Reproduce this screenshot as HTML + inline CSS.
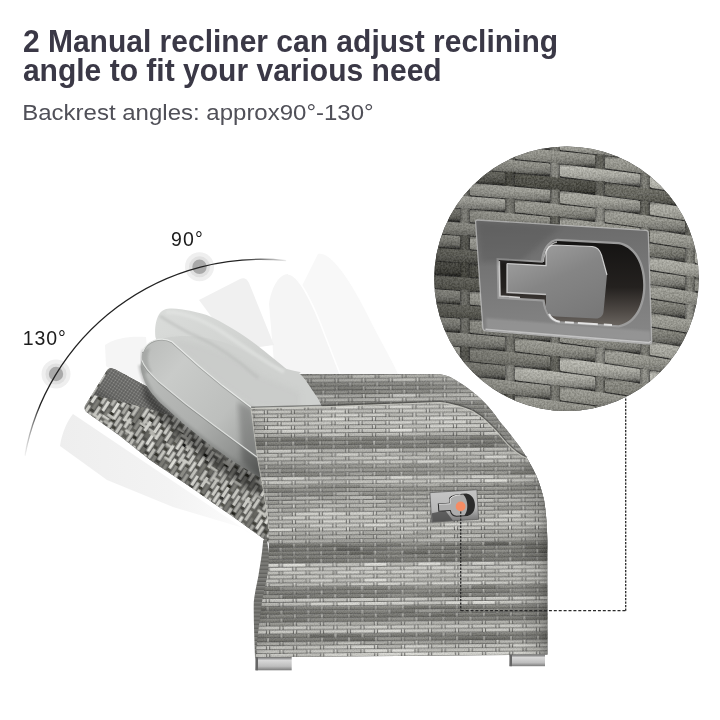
<!DOCTYPE html>
<html><head><meta charset="utf-8"><title>recliner</title>
<style>html,body{margin:0;padding:0;background:#fff;}body{width:720px;height:720px;overflow:hidden;font-family:"Liberation Sans",sans-serif;}svg{display:block;}</style>
</head><body>
<svg width="720" height="720" viewBox="0 0 720 720">
<rect width="720" height="720" fill="#ffffff"/>
<defs>
<linearGradient id="arcg" gradientUnits="userSpaceOnUse" x1="24" y1="0" x2="290" y2="0">
 <stop offset="0" stop-color="#222" stop-opacity="0"/>
 <stop offset="0.06" stop-color="#222" stop-opacity="1"/>
 <stop offset="0.82" stop-color="#222" stop-opacity="1"/>
 <stop offset="1" stop-color="#222" stop-opacity="0"/>
</linearGradient>
<filter id="soft" x="-5%" y="-5%" width="110%" height="110%"><feGaussianBlur stdDeviation="0.55"/></filter>
<filter id="soft2" x="-5%" y="-5%" width="110%" height="110%"><feGaussianBlur stdDeviation="0.8"/></filter>
<filter id="soft3" x="-10%" y="-10%" width="120%" height="120%"><feGaussianBlur stdDeviation="2.5"/></filter>
<linearGradient id="rowg" x1="0" y1="0" x2="0" y2="1"><stop offset="0" stop-color="#fff" stop-opacity="0.05"/><stop offset="0.25" stop-color="#fff" stop-opacity="0.16"/><stop offset="0.55" stop-color="#000" stop-opacity="0"/><stop offset="1" stop-color="#000" stop-opacity="0.22"/></linearGradient>
<pattern id="rowsh" x="0" y="405.2" width="20" height="3.93" patternUnits="userSpaceOnUse"><rect width="20" height="3.93" fill="url(#rowg)"/></pattern>
<pattern id="rowsh2" x="0" y="374.3" width="20" height="3.93" patternUnits="userSpaceOnUse"><rect width="20" height="3.93" fill="url(#rowg)"/></pattern>
<filter id="grain" x="0" y="0" width="100%" height="100%" color-interpolation-filters="sRGB">
 <feTurbulence type="fractalNoise" baseFrequency="0.55" numOctaves="2" seed="4"/>
 <feColorMatrix type="matrix" values="2.6 0 0 0 -0.75  2.6 0 0 0 -0.75  2.6 0 0 0 -0.75  0 0 0 0 0.12"/>
</filter>
<filter id="grainf" x="0" y="0" width="100%" height="100%" color-interpolation-filters="sRGB">
 <feTurbulence type="fractalNoise" baseFrequency="0.9" numOctaves="1" seed="9"/>
 <feColorMatrix type="matrix" values="2.6 0 0 0 -0.6  2.6 0 0 0 -0.6  2.6 0 0 0 -0.6  0 0 0 0 0.07"/>
</filter>
<filter id="soft6" x="-20%" y="-20%" width="140%" height="140%"><feGaussianBlur stdDeviation="6"/></filter>
</defs>
<g id="ghosts">
<path d="M318 254 C328 251 346 272 366 312 C382 344 392 360 398 374 L300 374 L300 290 Z" fill="#f8f8f8"/>
<path d="M269 304 C272 285 280 274 288 274 C298 274 312 300 326 338 L340 374 L275 374 Z" fill="#f5f5f5"/>
<path d="M288 274 C298 274 312 300 326 338 L340 374" fill="none" stroke="#ffffff" stroke-width="1.5"/>
<path d="M199 300 L240 279 C244 277 247 279 249 283 L274 345 L236 350 Z" fill="#f0f0f0"/>
<linearGradient id="gh1" gradientUnits="userSpaceOnUse" x1="60" y1="0" x2="245" y2="0"><stop offset="0" stop-color="#eeeeee"/><stop offset="0.6" stop-color="#f3f3f3"/><stop offset="1" stop-color="#fcfcfc"/></linearGradient>
<path d="M73 414 C68 420 62 432 60 446 L107 480 L173 507 L240 527 L262 541 Z" fill="url(#gh1)"/>
<path d="M105 345 C115 338 130 336 146 337 L150 385 L112 370 L106 366 Z" fill="#f5f5f5"/>
</g>
<clipPath id="brclip"><path d="M111.5 368.3 C109 367.8 107.5 369.5 106 372 L85.2 405.5 C84 408 84.5 410.5 86.7 412.2 L120 436 L150 460 L190 486.7 L212 502.2 L234.4 517.8 L262 537.8 L274 546 L274 455 L150 388.3 L116 369.8 Z"/></clipPath>
<g clip-path="url(#brclip)">
<rect x="70" y="350" width="220" height="200" fill="#5a5a58"/>
<g transform="translate(85 410) rotate(33.0)" filter="url(#soft)">
<path fill="#181812" d="M100.7 -26.2h4.0v3.5h-4.0z"/>
<path fill="#1e1e18" d="M-0.5 4.4h4.0v3.5h-4.0zM123.7 -29.2h4.0v3.5h-4.0z"/>
<path fill="#24241e" d="M50.1 -25.4h4.0v3.5h-4.0zM123.7 -43.7h4.0v3.5h-4.0zM178.9 4.2h4.0v3.5h-4.0zM243.3 -10.0h4.0v3.5h-4.0z"/>
<path fill="#2a2a24" d="M-0.5 -24.6h4.0v3.5h-4.0zM27.1 6.6h4.0v3.5h-4.0zM27.1 21.1h4.0v3.5h-4.0zM31.7 -31.7h4.0v3.5h-4.0zM54.7 -5.7h4.0v3.5h-4.0zM77.7 -52.2h4.0v3.5h-4.0zM146.7 -32.2h4.0v3.5h-4.0zM160.5 -16.6h4.0v3.5h-4.0zM169.7 -35.2h4.0v3.5h-4.0zM229.5 -40.1h4.0v3.5h-4.0z"/>
<path fill="#30302a" d="M22.5 -13.1h4.0v3.5h-4.0zM40.9 -50.3h4.0v3.5h-4.0zM54.7 -20.2h4.0v3.5h-4.0zM59.3 -29.5h4.0v3.5h-4.0zM82.3 -3.5h4.0v3.5h-4.0zM82.3 11.0h4.0v3.5h-4.0zM91.5 -36.6h4.0v3.5h-4.0zM155.9 -36.3h4.0v3.5h-4.0zM160.5 12.4h4.0v3.5h-4.0zM165.1 -40.4h4.0v3.5h-4.0zM220.3 -21.5h4.0v3.5h-4.0zM247.9 -4.8h4.0v3.5h-4.0zM247.9 9.7h4.0v3.5h-4.0z"/>
<path fill="#363630" d="M-0.5 -53.6h4.0v3.5h-4.0zM36.3 -26.5h4.0v3.5h-4.0zM45.5 -16.1h4.0v3.5h-4.0zM63.9 4.7h4.0v3.5h-4.0zM68.5 -33.6h4.0v3.5h-4.0zM68.5 -4.6h4.0v3.5h-4.0zM109.9 -44.8h4.0v3.5h-4.0zM114.5 -39.6h4.0v3.5h-4.0zM114.5 3.9h4.0v3.5h-4.0zM128.3 -24.0h4.0v3.5h-4.0zM132.9 10.2h4.0v3.5h-4.0zM160.5 -2.1h4.0v3.5h-4.0zM201.9 -42.3h4.0v3.5h-4.0zM215.7 -55.7h4.0v3.5h-4.0zM224.9 -30.8h4.0v3.5h-4.0zM247.9 -62.8h4.0v3.5h-4.0z"/>
<path fill="#3c3c36" d="M-5.1 -15.3h4.0v3.5h-4.0zM4.1 -19.4h4.0v3.5h-4.0zM17.9 10.7h4.0v3.5h-4.0zM27.1 -51.4h4.0v3.5h-4.0zM27.1 -36.9h4.0v3.5h-4.0zM27.1 -7.9h4.0v3.5h-4.0zM31.7 -2.7h4.0v3.5h-4.0zM36.3 17.0h4.0v3.5h-4.0zM59.3 -44.0h4.0v3.5h-4.0zM86.9 -12.8h4.0v3.5h-4.0zM86.9 16.2h4.0v3.5h-4.0zM96.1 -45.9h4.0v3.5h-4.0zM105.3 -6.5h4.0v3.5h-4.0zM132.9 -62.3h4.0v3.5h-4.0zM137.5 0.9h4.0v3.5h-4.0zM174.3 -1.0h4.0v3.5h-4.0zM178.9 -53.8h4.0v3.5h-4.0zM188.1 -14.4h4.0v3.5h-4.0zM197.3 -33.0h4.0v3.5h-4.0zM201.9 1.2h4.0v3.5h-4.0zM211.1 -17.4h4.0v3.5h-4.0zM215.7 2.3h4.0v3.5h-4.0zM224.9 12.7h4.0v3.5h-4.0zM238.7 -15.2h4.0v3.5h-4.0zM243.3 19.0h4.0v3.5h-4.0z"/>
<path fill="#42423c" d="M4.1 -4.9h4.0v3.5h-4.0zM8.7 -43.2h4.0v3.5h-4.0zM13.3 -52.5h4.0v3.5h-4.0zM22.5 15.9h4.0v3.5h-4.0zM31.7 -46.2h4.0v3.5h-4.0zM36.3 -55.5h4.0v3.5h-4.0zM45.5 12.9h4.0v3.5h-4.0zM63.9 -53.3h4.0v3.5h-4.0zM73.1 0.6h4.0v3.5h-4.0zM82.3 -47.0h4.0v3.5h-4.0zM82.3 -18.0h4.0v3.5h-4.0zM86.9 -56.3h4.0v3.5h-4.0zM86.9 1.7h4.0v3.5h-4.0zM100.7 -40.7h4.0v3.5h-4.0zM105.3 8.0h4.0v3.5h-4.0zM109.9 -15.8h4.0v3.5h-4.0zM123.7 -0.2h4.0v3.5h-4.0zM128.3 5.0h4.0v3.5h-4.0zM128.3 19.5h4.0v3.5h-4.0zM137.5 -57.1h4.0v3.5h-4.0zM137.5 -13.6h4.0v3.5h-4.0zM137.5 15.4h4.0v3.5h-4.0zM174.3 -59.0h4.0v3.5h-4.0zM183.5 -5.1h4.0v3.5h-4.0zM188.1 -57.9h4.0v3.5h-4.0zM197.3 -18.5h4.0v3.5h-4.0zM201.9 15.7h4.0v3.5h-4.0zM206.5 6.4h4.0v3.5h-4.0zM211.1 -46.4h4.0v3.5h-4.0zM211.1 -2.9h4.0v3.5h-4.0zM215.7 -12.2h4.0v3.5h-4.0zM220.3 -36.0h4.0v3.5h-4.0zM238.7 -58.7h4.0v3.5h-4.0zM243.3 -24.5h4.0v3.5h-4.0zM247.9 -33.8h4.0v3.5h-4.0z"/>
<path fill="#484842" d="M-9.7 -20.5h4.0v3.5h-4.0zM4.1 9.6h4.0v3.5h-4.0zM8.7 -14.2h4.0v3.5h-4.0zM22.5 -27.6h4.0v3.5h-4.0zM40.9 -21.3h4.0v3.5h-4.0zM50.1 18.1h4.0v3.5h-4.0zM59.3 -15.0h4.0v3.5h-4.0zM68.5 -62.6h4.0v3.5h-4.0zM68.5 9.9h4.0v3.5h-4.0zM73.1 -28.4h4.0v3.5h-4.0zM77.7 -23.2h4.0v3.5h-4.0zM77.7 -8.7h4.0v3.5h-4.0zM77.7 5.8h4.0v3.5h-4.0zM86.9 -41.8h4.0v3.5h-4.0zM96.1 -60.4h4.0v3.5h-4.0zM96.1 12.1h4.0v3.5h-4.0zM109.9 -59.3h4.0v3.5h-4.0zM114.5 -54.1h4.0v3.5h-4.0zM114.5 -25.1h4.0v3.5h-4.0zM114.5 -10.6h4.0v3.5h-4.0zM114.5 18.4h4.0v3.5h-4.0zM119.1 -63.4h4.0v3.5h-4.0zM119.1 9.1h4.0v3.5h-4.0zM123.7 -14.7h4.0v3.5h-4.0zM132.9 -18.8h4.0v3.5h-4.0zM142.1 6.1h4.0v3.5h-4.0zM142.1 20.6h4.0v3.5h-4.0zM146.7 -46.7h4.0v3.5h-4.0zM146.7 -3.2h4.0v3.5h-4.0zM151.3 -12.5h4.0v3.5h-4.0zM155.9 -50.8h4.0v3.5h-4.0zM155.9 -7.3h4.0v3.5h-4.0zM160.5 -60.1h4.0v3.5h-4.0zM165.1 -54.9h4.0v3.5h-4.0zM169.7 22.8h4.0v3.5h-4.0zM178.9 -39.3h4.0v3.5h-4.0zM183.5 -48.6h4.0v3.5h-4.0zM183.5 -34.1h4.0v3.5h-4.0zM188.1 -43.4h4.0v3.5h-4.0zM188.1 14.6h4.0v3.5h-4.0zM206.5 -37.1h4.0v3.5h-4.0zM206.5 -8.1h4.0v3.5h-4.0zM215.7 -26.7h4.0v3.5h-4.0zM224.9 -59.8h4.0v3.5h-4.0zM229.5 3.4h4.0v3.5h-4.0zM234.1 -63.9h4.0v3.5h-4.0zM234.1 -20.4h4.0v3.5h-4.0z"/>
<path fill="#4e4e48" d="M-5.1 -0.8h4.0v3.5h-4.0zM-0.5 -39.1h4.0v3.5h-4.0zM4.1 -62.9h4.0v3.5h-4.0zM13.3 -9.0h4.0v3.5h-4.0zM17.9 -47.3h4.0v3.5h-4.0zM22.5 -56.6h4.0v3.5h-4.0zM31.7 -17.2h4.0v3.5h-4.0zM36.3 -12.0h4.0v3.5h-4.0zM45.5 -45.1h4.0v3.5h-4.0zM54.7 -63.7h4.0v3.5h-4.0zM54.7 -34.7h4.0v3.5h-4.0zM63.9 -24.3h4.0v3.5h-4.0zM63.9 -9.8h4.0v3.5h-4.0zM73.1 -57.4h4.0v3.5h-4.0zM73.1 -42.9h4.0v3.5h-4.0zM73.1 15.1h4.0v3.5h-4.0zM86.9 -27.3h4.0v3.5h-4.0zM96.1 -31.4h4.0v3.5h-4.0zM96.1 -16.9h4.0v3.5h-4.0zM100.7 -11.7h4.0v3.5h-4.0zM105.3 -35.5h4.0v3.5h-4.0zM105.3 -21.0h4.0v3.5h-4.0zM109.9 -30.3h4.0v3.5h-4.0zM123.7 14.3h4.0v3.5h-4.0zM137.5 -42.6h4.0v3.5h-4.0zM142.1 -8.4h4.0v3.5h-4.0zM160.5 -31.1h4.0v3.5h-4.0zM169.7 -49.7h4.0v3.5h-4.0zM169.7 8.3h4.0v3.5h-4.0zM174.3 13.5h4.0v3.5h-4.0zM178.9 18.7h4.0v3.5h-4.0zM183.5 -63.1h4.0v3.5h-4.0zM192.7 -52.7h4.0v3.5h-4.0zM201.9 -13.3h4.0v3.5h-4.0zM206.5 -22.6h4.0v3.5h-4.0zM206.5 20.9h4.0v3.5h-4.0zM211.1 -60.9h4.0v3.5h-4.0zM211.1 -31.9h4.0v3.5h-4.0zM224.9 -16.3h4.0v3.5h-4.0zM229.5 -11.1h4.0v3.5h-4.0zM234.1 -5.9h4.0v3.5h-4.0zM238.7 -44.2h4.0v3.5h-4.0z"/>
<path fill="#54544e" d="M-9.7 -64.0h4.0v3.5h-4.0zM-9.7 -49.5h4.0v3.5h-4.0zM-5.1 -29.8h4.0v3.5h-4.0zM4.1 -33.9h4.0v3.5h-4.0zM17.9 -61.8h4.0v3.5h-4.0zM22.5 1.4h4.0v3.5h-4.0zM40.9 22.2h4.0v3.5h-4.0zM50.1 -54.4h4.0v3.5h-4.0zM50.1 -39.9h4.0v3.5h-4.0zM50.1 3.6h4.0v3.5h-4.0zM54.7 -49.2h4.0v3.5h-4.0zM59.3 -58.5h4.0v3.5h-4.0zM59.3 14.0h4.0v3.5h-4.0zM63.9 -38.8h4.0v3.5h-4.0zM63.9 19.2h4.0v3.5h-4.0zM82.3 -61.5h4.0v3.5h-4.0zM82.3 -32.5h4.0v3.5h-4.0zM91.5 -22.1h4.0v3.5h-4.0zM91.5 -7.6h4.0v3.5h-4.0zM91.5 21.4h4.0v3.5h-4.0zM100.7 -55.2h4.0v3.5h-4.0zM100.7 2.8h4.0v3.5h-4.0zM105.3 -50.0h4.0v3.5h-4.0zM109.9 -1.3h4.0v3.5h-4.0zM109.9 13.2h4.0v3.5h-4.0zM132.9 -4.3h4.0v3.5h-4.0zM151.3 16.5h4.0v3.5h-4.0zM165.1 -25.9h4.0v3.5h-4.0zM165.1 -11.4h4.0v3.5h-4.0zM165.1 3.1h4.0v3.5h-4.0zM169.7 -20.7h4.0v3.5h-4.0zM183.5 -19.6h4.0v3.5h-4.0zM183.5 9.4h4.0v3.5h-4.0zM192.7 -23.7h4.0v3.5h-4.0zM197.3 10.5h4.0v3.5h-4.0zM201.9 -27.8h4.0v3.5h-4.0zM234.1 -34.9h4.0v3.5h-4.0zM238.7 -29.7h4.0v3.5h-4.0zM243.3 -53.5h4.0v3.5h-4.0zM243.3 4.5h4.0v3.5h-4.0z"/>
<path fill="#5a5a54" d="M-9.7 8.5h4.0v3.5h-4.0zM-5.1 -44.3h4.0v3.5h-4.0zM-0.5 -10.1h4.0v3.5h-4.0zM8.7 -57.7h4.0v3.5h-4.0zM8.7 0.3h4.0v3.5h-4.0zM13.3 -38.0h4.0v3.5h-4.0zM13.3 5.5h4.0v3.5h-4.0zM17.9 -32.8h4.0v3.5h-4.0zM17.9 -18.3h4.0v3.5h-4.0zM27.1 -22.4h4.0v3.5h-4.0zM36.3 2.5h4.0v3.5h-4.0zM40.9 -35.8h4.0v3.5h-4.0zM40.9 7.7h4.0v3.5h-4.0zM45.5 -1.6h4.0v3.5h-4.0zM68.5 -48.1h4.0v3.5h-4.0zM68.5 -19.1h4.0v3.5h-4.0zM73.1 -13.9h4.0v3.5h-4.0zM77.7 -37.7h4.0v3.5h-4.0zM91.5 6.9h4.0v3.5h-4.0zM128.3 -53.0h4.0v3.5h-4.0zM132.9 -33.3h4.0v3.5h-4.0zM142.1 -22.9h4.0v3.5h-4.0zM146.7 -61.2h4.0v3.5h-4.0zM151.3 -56.0h4.0v3.5h-4.0zM151.3 -41.5h4.0v3.5h-4.0zM155.9 -21.8h4.0v3.5h-4.0zM155.9 21.7h4.0v3.5h-4.0zM169.7 -6.2h4.0v3.5h-4.0zM174.3 -44.5h4.0v3.5h-4.0zM174.3 -15.5h4.0v3.5h-4.0zM178.9 -24.8h4.0v3.5h-4.0zM188.1 0.1h4.0v3.5h-4.0zM197.3 -62.0h4.0v3.5h-4.0zM206.5 -51.6h4.0v3.5h-4.0zM215.7 16.8h4.0v3.5h-4.0zM220.3 7.5h4.0v3.5h-4.0zM229.5 17.9h4.0v3.5h-4.0zM239.1 -69.7h3.2v11.0h-3.2zM238.7 -0.7h4.0v3.5h-4.0zM243.3 -39.0h4.0v3.5h-4.0zM247.9 -19.3h4.0v3.5h-4.0z"/>
<path fill="#60605a" d="M-9.7 -35.0h4.0v3.5h-4.0zM-9.7 -6.0h4.0v3.5h-4.0zM8.7 -28.7h4.0v3.5h-4.0zM8.7 14.8h4.0v3.5h-4.0zM13.3 20.0h4.0v3.5h-4.0zM22.5 -42.1h4.0v3.5h-4.0zM31.7 -60.7h4.0v3.5h-4.0zM40.9 -6.8h4.0v3.5h-4.0zM45.5 -59.6h4.0v3.5h-4.0zM50.1 -10.9h4.0v3.5h-4.0zM54.7 8.8h4.0v3.5h-4.0zM77.7 20.3h4.0v3.5h-4.0zM91.5 -51.1h4.0v3.5h-4.0zM96.1 -2.4h4.0v3.5h-4.0zM119.1 -19.9h4.0v3.5h-4.0zM123.7 -58.2h4.0v3.5h-4.0zM142.1 -51.9h4.0v3.5h-4.0zM146.7 -17.7h4.0v3.5h-4.0zM165.1 17.6h4.0v3.5h-4.0zM174.3 -30.0h4.0v3.5h-4.0zM188.1 -28.9h4.0v3.5h-4.0zM192.7 5.3h4.0v3.5h-4.0zM192.7 19.8h4.0v3.5h-4.0zM197.3 -4.0h4.0v3.5h-4.0zM220.3 -7.0h4.0v3.5h-4.0zM220.3 22.0h4.0v3.5h-4.0zM229.5 -54.6h4.0v3.5h-4.0zM234.1 -49.4h4.0v3.5h-4.0zM247.9 -48.3h4.0v3.5h-4.0z"/>
<path fill="#666660" d="M-5.1 -58.8h4.0v3.5h-4.0zM-0.5 18.9h4.0v3.5h-4.0zM13.3 -23.5h4.0v3.5h-4.0zM17.9 -3.8h4.0v3.5h-4.0zM31.7 11.8h4.0v3.5h-4.0zM64.3 -20.8h3.2v11.0h-3.2zM105.3 22.5h4.0v3.5h-4.0zM119.1 -48.9h4.0v3.5h-4.0zM119.1 -5.4h4.0v3.5h-4.0zM128.3 -38.5h4.0v3.5h-4.0zM137.5 -28.1h4.0v3.5h-4.0zM151.3 -27.0h4.0v3.5h-4.0zM156.3 -47.3h3.2v11.0h-3.2zM155.9 7.2h4.0v3.5h-4.0zM192.7 -38.2h4.0v3.5h-4.0zM192.7 -9.2h4.0v3.5h-4.0zM197.7 -15.0h3.2v11.0h-3.2zM211.1 11.6h4.0v3.5h-4.0zM216.1 -8.7h3.2v11.0h-3.2zM220.3 -50.5h4.0v3.5h-4.0zM224.9 -45.3h4.0v3.5h-4.0zM234.1 8.6h4.0v3.5h-4.0z"/>
<path fill="#6c6c66" d="M-4.7 -69.8h3.2v11.0h-3.2zM4.1 -48.4h4.0v3.5h-4.0zM22.9 -9.6h3.2v11.0h-3.2zM36.3 -41.0h4.0v3.5h-4.0zM68.9 -1.1h3.2v11.0h-3.2zM100.7 17.3h4.0v3.5h-4.0zM119.1 -34.4h4.0v3.5h-4.0zM128.3 -9.5h4.0v3.5h-4.0zM133.3 -44.3h3.2v11.0h-3.2zM137.9 -24.6h3.2v11.0h-3.2zM142.1 -37.4h4.0v3.5h-4.0zM151.3 2.0h4.0v3.5h-4.0zM229.5 -25.6h4.0v3.5h-4.0z"/>
<path fill="#72726c" d="M13.7 -63.5h3.2v11.0h-3.2zM13.7 -34.5h3.2v11.0h-3.2zM27.5 -62.4h3.2v11.0h-3.2zM32.1 -42.7h3.2v11.0h-3.2zM36.7 -66.5h3.2v11.0h-3.2zM41.3 11.2h3.2v11.0h-3.2zM45.5 -30.6h4.0v3.5h-4.0zM59.3 -0.5h4.0v3.5h-4.0zM146.7 11.3h4.0v3.5h-4.0zM151.7 -67.0h3.2v11.0h-3.2zM179.3 -64.8h3.2v11.0h-3.2zM178.9 -10.3h4.0v3.5h-4.0zM197.3 -47.5h4.0v3.5h-4.0zM201.9 -56.8h4.0v3.5h-4.0zM224.9 -1.8h4.0v3.5h-4.0z"/>
<path fill="#787872" d="M22.9 -67.6h3.2v11.0h-3.2zM45.9 -27.1h3.2v11.0h-3.2zM87.3 -38.3h3.2v11.0h-3.2zM87.3 5.2h3.2v11.0h-3.2zM91.9 -4.1h3.2v11.0h-3.2zM124.1 3.3h3.2v11.0h-3.2zM128.7 -20.5h3.2v11.0h-3.2zM142.5 -4.9h3.2v11.0h-3.2zM160.5 -45.6h4.0v3.5h-4.0zM170.1 -2.7h3.2v11.0h-3.2zM188.5 -39.9h3.2v11.0h-3.2zM197.7 -0.5h3.2v11.0h-3.2zM206.9 -62.6h3.2v11.0h-3.2zM211.5 -42.9h3.2v11.0h-3.2zM234.5 -60.4h3.2v11.0h-3.2zM239.1 -11.7h3.2v11.0h-3.2z"/>
<path fill="#7e7e78" d="M-4.7 -55.3h3.2v11.0h-3.2zM4.5 -44.9h3.2v11.0h-3.2zM4.5 -15.9h3.2v11.0h-3.2zM18.3 -14.8h3.2v11.0h-3.2zM45.9 -41.6h3.2v11.0h-3.2zM64.3 8.2h3.2v11.0h-3.2zM78.1 -19.7h3.2v11.0h-3.2zM82.7 0.0h3.2v11.0h-3.2zM119.5 -30.9h3.2v11.0h-3.2zM133.3 -58.8h3.2v11.0h-3.2zM132.9 -47.8h4.0v3.5h-4.0zM165.5 -22.4h3.2v11.0h-3.2zM215.7 -41.2h4.0v3.5h-4.0zM234.5 -74.9h3.2v11.0h-3.2zM238.7 13.8h4.0v3.5h-4.0zM243.7 8.0h3.2v11.0h-3.2zM248.3 -44.8h3.2v11.0h-3.2z"/>
<path fill="#84847e" d="M4.5 -30.4h3.2v11.0h-3.2zM22.9 -53.1h3.2v11.0h-3.2zM45.9 1.9h3.2v11.0h-3.2zM64.3 -49.8h3.2v11.0h-3.2zM87.3 -23.8h3.2v11.0h-3.2zM91.9 -33.1h3.2v11.0h-3.2zM96.5 1.1h3.2v11.0h-3.2zM124.1 -54.7h3.2v11.0h-3.2zM170.1 -31.7h3.2v11.0h-3.2zM179.3 -35.8h3.2v11.0h-3.2zM197.7 -29.5h3.2v11.0h-3.2zM220.7 -18.0h3.2v11.0h-3.2zM225.3 -56.3h3.2v11.0h-3.2zM248.3 -30.3h3.2v11.0h-3.2z"/>
<path fill="#8a8a84" d="M-5.1 13.7h4.0v3.5h-4.0zM-0.1 -50.1h3.2v11.0h-3.2zM9.1 3.8h3.2v11.0h-3.2zM50.5 -21.9h3.2v11.0h-3.2zM96.5 -71.4h3.2v11.0h-3.2zM114.9 -7.1h3.2v11.0h-3.2zM114.9 7.4h3.2v11.0h-3.2zM142.5 -33.9h3.2v11.0h-3.2zM183.9 -1.6h3.2v11.0h-3.2zM229.9 6.9h3.2v11.0h-3.2zM234.5 -16.9h3.2v11.0h-3.2z"/>
<path fill="#90908a" d="M41.3 -61.3h3.2v11.0h-3.2zM105.7 -3.0h3.2v11.0h-3.2zM137.9 -39.1h3.2v11.0h-3.2zM156.3 -32.8h3.2v11.0h-3.2zM216.1 5.8h3.2v11.0h-3.2zM243.7 -6.5h3.2v11.0h-3.2z"/>
<path fill="#969690" d="M45.9 -12.6h3.2v11.0h-3.2z"/>
<path fill="#9c9c96" d="M59.7 -40.5h3.2v11.0h-3.2zM119.5 -1.9h3.2v11.0h-3.2zM174.7 -26.5h3.2v11.0h-3.2zM243.7 -21.0h3.2v11.0h-3.2z"/>
<path fill="#a2a29c" d="M114.9 -50.6h3.2v11.0h-3.2zM202.3 4.7h3.2v11.0h-3.2z"/>
<path fill="#a8a8a2" d="M13.7 -49.0h3.2v11.0h-3.2zM32.1 -28.2h3.2v11.0h-3.2zM183.9 -30.6h3.2v11.0h-3.2zM187.9 -23.3h8.0v2.6h-8.0zM56.6 -24.5h8.0v2.6h-8.0z"/>
<path fill="#aeaea8" d="M36.7 -37.5h3.2v11.0h-3.2zM41.3 -3.3h3.2v11.0h-3.2zM64.3 -64.3h3.2v11.0h-3.2zM91.9 -62.1h3.2v11.0h-3.2zM101.1 6.3h3.2v11.0h-3.2zM105.7 -46.5h3.2v11.0h-3.2zM151.7 -23.5h3.2v11.0h-3.2zM160.9 -71.1h3.2v11.0h-3.2zM179.3 -6.8h3.2v11.0h-3.2zM206.9 -33.6h3.2v11.0h-3.2zM216.1 -37.7h3.2v11.0h-3.2zM225.3 -12.8h3.2v11.0h-3.2zM21.6 -2.7h8.0v2.6h-8.0zM237.1 -44.5h8.0v2.6h-8.0zM120.0 -38.1h8.0v2.6h-8.0zM232.9 -44.1h8.0v2.6h-8.0z"/>
<path fill="#b4b4ae" d="M-9.3 -75.0h3.2v11.0h-3.2zM-9.3 -60.5h3.2v11.0h-3.2zM-4.7 -11.8h3.2v11.0h-3.2zM18.3 -29.3h3.2v11.0h-3.2zM32.1 -71.7h3.2v11.0h-3.2zM32.1 -57.2h3.2v11.0h-3.2zM50.5 -50.9h3.2v11.0h-3.2zM55.1 -74.7h3.2v11.0h-3.2zM55.1 -16.7h3.2v11.0h-3.2zM68.9 -59.1h3.2v11.0h-3.2zM101.1 -51.7h3.2v11.0h-3.2zM105.7 -61.0h3.2v11.0h-3.2zM114.9 -65.1h3.2v11.0h-3.2zM119.5 -74.4h3.2v11.0h-3.2zM128.7 -64.0h3.2v11.0h-3.2zM133.3 -73.3h3.2v11.0h-3.2zM142.5 -19.4h3.2v11.0h-3.2zM147.1 -72.2h3.2v11.0h-3.2zM156.3 -61.8h3.2v11.0h-3.2zM160.9 -56.6h3.2v11.0h-3.2zM160.9 -42.1h3.2v11.0h-3.2zM197.7 -58.5h3.2v11.0h-3.2zM220.7 -32.5h3.2v11.0h-3.2zM229.9 -7.6h3.2v11.0h-3.2zM234.5 -2.4h3.2v11.0h-3.2zM243.7 -64.5h3.2v11.0h-3.2zM248.3 -1.3h3.2v11.0h-3.2zM66.4 -17.8h8.0v2.6h-8.0zM145.9 -35.6h8.0v2.6h-8.0zM35.1 -32.3h8.0v2.6h-8.0zM10.2 -32.2h8.0v2.6h-8.0zM63.5 -20.1h8.0v2.6h-8.0z"/>
<path fill="#babab4" d="M-4.7 2.7h3.2v11.0h-3.2zM-0.1 -35.6h3.2v11.0h-3.2zM18.3 -72.8h3.2v11.0h-3.2zM27.5 10.1h3.2v11.0h-3.2zM32.1 -13.7h3.2v11.0h-3.2zM41.3 -32.3h3.2v11.0h-3.2zM45.9 -56.1h3.2v11.0h-3.2zM55.1 -60.2h3.2v11.0h-3.2zM55.1 -2.2h3.2v11.0h-3.2zM59.7 -11.5h3.2v11.0h-3.2zM64.3 -35.3h3.2v11.0h-3.2zM68.9 -44.6h3.2v11.0h-3.2zM73.5 -53.9h3.2v11.0h-3.2zM73.5 -39.4h3.2v11.0h-3.2zM78.1 -5.2h3.2v11.0h-3.2zM82.7 -14.5h3.2v11.0h-3.2zM96.5 -42.4h3.2v11.0h-3.2zM101.1 -37.2h3.2v11.0h-3.2zM105.7 11.5h3.2v11.0h-3.2zM110.3 -70.3h3.2v11.0h-3.2zM110.3 -55.8h3.2v11.0h-3.2zM128.7 8.5h3.2v11.0h-3.2zM147.1 -28.7h3.2v11.0h-3.2zM151.7 -52.5h3.2v11.0h-3.2zM174.7 2.5h3.2v11.0h-3.2zM188.5 -68.9h3.2v11.0h-3.2zM193.1 -5.7h3.2v11.0h-3.2zM202.3 -24.3h3.2v11.0h-3.2zM225.3 -70.8h3.2v11.0h-3.2zM229.9 -51.1h3.2v11.0h-3.2zM248.3 -15.8h3.2v11.0h-3.2zM143.9 -33.5h8.0v2.6h-8.0zM181.4 -35.2h8.0v2.6h-8.0zM86.3 -17.0h8.0v2.6h-8.0zM164.2 -23.1h8.0v2.6h-8.0zM53.1 -20.5h8.0v2.6h-8.0zM143.2 -14.6h8.0v2.6h-8.0zM104.3 -26.6h8.0v2.6h-8.0zM94.3 -32.9h8.0v2.6h-8.0zM183.2 -13.7h8.0v2.6h-8.0z"/>
<path fill="#c0c0ba" d="M4.5 -1.4h3.2v11.0h-3.2zM9.1 -25.2h3.2v11.0h-3.2zM13.7 9.0h3.2v11.0h-3.2zM22.9 -38.6h3.2v11.0h-3.2zM27.5 -47.9h3.2v11.0h-3.2zM32.1 0.8h3.2v11.0h-3.2zM36.7 6.0h3.2v11.0h-3.2zM55.1 -45.7h3.2v11.0h-3.2zM55.1 -31.2h3.2v11.0h-3.2zM59.7 -69.5h3.2v11.0h-3.2zM59.7 3.0h3.2v11.0h-3.2zM73.5 -68.4h3.2v11.0h-3.2zM73.5 4.1h3.2v11.0h-3.2zM78.1 -48.7h3.2v11.0h-3.2zM78.1 9.3h3.2v11.0h-3.2zM105.7 -32.0h3.2v11.0h-3.2zM119.5 -59.9h3.2v11.0h-3.2zM119.5 -45.4h3.2v11.0h-3.2zM124.1 -40.2h3.2v11.0h-3.2zM124.1 -11.2h3.2v11.0h-3.2zM128.7 -49.5h3.2v11.0h-3.2zM133.3 -15.3h3.2v11.0h-3.2zM137.9 -68.1h3.2v11.0h-3.2zM142.5 -48.4h3.2v11.0h-3.2zM142.5 9.6h3.2v11.0h-3.2zM147.1 -14.2h3.2v11.0h-3.2zM160.9 -27.6h3.2v11.0h-3.2zM165.5 -51.4h3.2v11.0h-3.2zM165.5 -36.9h3.2v11.0h-3.2zM174.7 -41.0h3.2v11.0h-3.2zM179.3 -21.3h3.2v11.0h-3.2zM179.3 7.7h3.2v11.0h-3.2zM183.9 -45.1h3.2v11.0h-3.2zM188.5 -54.4h3.2v11.0h-3.2zM188.5 -25.4h3.2v11.0h-3.2zM193.1 8.8h3.2v11.0h-3.2zM197.7 -44.0h3.2v11.0h-3.2zM202.3 -38.8h3.2v11.0h-3.2zM206.9 -48.1h3.2v11.0h-3.2zM206.9 -19.1h3.2v11.0h-3.2zM206.9 9.9h3.2v11.0h-3.2zM216.1 -52.2h3.2v11.0h-3.2zM216.1 -23.2h3.2v11.0h-3.2zM220.7 -47.0h3.2v11.0h-3.2zM225.3 -41.8h3.2v11.0h-3.2zM239.1 -40.7h3.2v11.0h-3.2zM239.1 2.8h3.2v11.0h-3.2zM243.7 -35.5h3.2v11.0h-3.2zM127.4 -44.0h8.0v2.6h-8.0zM92.3 -5.1h8.0v2.6h-8.0zM228.4 -38.3h8.0v2.6h-8.0zM105.7 -12.0h8.0v2.6h-8.0zM137.4 -7.6h8.0v2.6h-8.0zM4.3 -24.2h8.0v2.6h-8.0zM136.5 -22.1h8.0v2.6h-8.0zM21.2 -9.9h8.0v2.6h-8.0zM38.4 -15.6h8.0v2.6h-8.0zM87.5 -36.5h8.0v2.6h-8.0zM236.7 -39.6h8.0v2.6h-8.0zM213.6 -39.8h8.0v2.6h-8.0zM8.2 -2.2h8.0v2.6h-8.0z"/>
<path fill="#c6c6c0" d="M-9.3 -31.5h3.2v11.0h-3.2zM-0.1 -6.6h3.2v11.0h-3.2zM9.1 -68.7h3.2v11.0h-3.2zM9.1 -54.2h3.2v11.0h-3.2zM9.1 -39.7h3.2v11.0h-3.2zM9.1 -10.7h3.2v11.0h-3.2zM18.3 -58.3h3.2v11.0h-3.2zM22.9 4.9h3.2v11.0h-3.2zM36.7 -52.0h3.2v11.0h-3.2zM36.7 -8.5h3.2v11.0h-3.2zM45.9 -70.6h3.2v11.0h-3.2zM50.5 -65.4h3.2v11.0h-3.2zM50.5 -7.4h3.2v11.0h-3.2zM87.3 -9.3h3.2v11.0h-3.2zM96.5 -56.9h3.2v11.0h-3.2zM101.1 -66.2h3.2v11.0h-3.2zM101.1 -22.7h3.2v11.0h-3.2zM105.7 -17.5h3.2v11.0h-3.2zM110.3 -41.3h3.2v11.0h-3.2zM110.3 -26.8h3.2v11.0h-3.2zM114.9 -36.1h3.2v11.0h-3.2zM114.9 -21.6h3.2v11.0h-3.2zM128.7 -35.0h3.2v11.0h-3.2zM133.3 -29.8h3.2v11.0h-3.2zM133.3 -0.8h3.2v11.0h-3.2zM137.9 -53.6h3.2v11.0h-3.2zM137.9 -10.1h3.2v11.0h-3.2zM147.1 -43.2h3.2v11.0h-3.2zM151.7 5.5h3.2v11.0h-3.2zM156.3 -18.3h3.2v11.0h-3.2zM156.3 10.7h3.2v11.0h-3.2zM165.5 6.6h3.2v11.0h-3.2zM170.1 -46.2h3.2v11.0h-3.2zM170.1 -17.2h3.2v11.0h-3.2zM174.7 -55.5h3.2v11.0h-3.2zM174.7 -12.0h3.2v11.0h-3.2zM179.3 -50.3h3.2v11.0h-3.2zM183.9 -59.6h3.2v11.0h-3.2zM193.1 -49.2h3.2v11.0h-3.2zM193.1 -20.2h3.2v11.0h-3.2zM197.7 -73.0h3.2v11.0h-3.2zM202.3 -9.8h3.2v11.0h-3.2zM211.5 -57.4h3.2v11.0h-3.2zM211.5 0.6h3.2v11.0h-3.2zM220.7 -61.5h3.2v11.0h-3.2zM225.3 1.7h3.2v11.0h-3.2zM234.5 -45.9h3.2v11.0h-3.2zM239.1 -26.2h3.2v11.0h-3.2zM44.7 -6.5h8.0v2.6h-8.0zM199.4 -11.4h8.0v2.6h-8.0zM109.3 -13.2h8.0v2.6h-8.0zM132.5 -35.4h8.0v2.6h-8.0z"/>
<path fill="#ccccc6" d="M-9.3 -46.0h3.2v11.0h-3.2zM-4.7 -26.3h3.2v11.0h-3.2zM-0.1 -64.6h3.2v11.0h-3.2zM-0.1 7.9h3.2v11.0h-3.2zM4.5 -73.9h3.2v11.0h-3.2zM4.5 -59.4h3.2v11.0h-3.2zM13.7 -5.5h3.2v11.0h-3.2zM18.3 -0.3h3.2v11.0h-3.2zM27.5 -4.4h3.2v11.0h-3.2zM36.7 -23.0h3.2v11.0h-3.2zM41.3 -46.8h3.2v11.0h-3.2zM41.3 -17.8h3.2v11.0h-3.2zM50.5 -36.4h3.2v11.0h-3.2zM50.5 7.1h3.2v11.0h-3.2zM64.3 -6.3h3.2v11.0h-3.2zM78.1 -63.2h3.2v11.0h-3.2zM78.1 -34.2h3.2v11.0h-3.2zM82.7 -72.5h3.2v11.0h-3.2zM82.7 -43.5h3.2v11.0h-3.2zM82.7 -29.0h3.2v11.0h-3.2zM87.3 -67.3h3.2v11.0h-3.2zM87.3 -52.8h3.2v11.0h-3.2zM91.9 -47.6h3.2v11.0h-3.2zM96.5 -13.4h3.2v11.0h-3.2zM110.3 -12.3h3.2v11.0h-3.2zM110.3 2.2h3.2v11.0h-3.2zM124.1 -25.7h3.2v11.0h-3.2zM147.1 -57.7h3.2v11.0h-3.2zM147.1 0.3h3.2v11.0h-3.2zM151.7 -38.0h3.2v11.0h-3.2zM151.7 -9.0h3.2v11.0h-3.2zM160.9 -13.1h3.2v11.0h-3.2zM160.9 1.4h3.2v11.0h-3.2zM170.1 11.8h3.2v11.0h-3.2zM183.9 -16.1h3.2v11.0h-3.2zM188.5 -10.9h3.2v11.0h-3.2zM202.3 -67.8h3.2v11.0h-3.2zM220.7 -3.5h3.2v11.0h-3.2zM220.7 11.0h3.2v11.0h-3.2zM225.3 -27.3h3.2v11.0h-3.2zM229.9 -65.6h3.2v11.0h-3.2zM229.9 -36.6h3.2v11.0h-3.2zM229.9 -22.1h3.2v11.0h-3.2zM239.1 -55.2h3.2v11.0h-3.2zM243.7 -50.0h3.2v11.0h-3.2zM55.0 -32.8h8.0v2.6h-8.0zM20.9 -33.5h8.0v2.6h-8.0zM17.4 -6.1h8.0v2.6h-8.0z"/>
<path fill="#d2d2cc" d="M-4.7 -40.8h3.2v11.0h-3.2zM27.5 -33.4h3.2v11.0h-3.2zM27.5 -18.9h3.2v11.0h-3.2zM59.7 -26.0h3.2v11.0h-3.2zM68.9 -73.6h3.2v11.0h-3.2zM68.9 -30.1h3.2v11.0h-3.2zM73.5 -24.9h3.2v11.0h-3.2zM82.7 -58.0h3.2v11.0h-3.2zM91.9 -18.6h3.2v11.0h-3.2zM119.5 -16.4h3.2v11.0h-3.2zM128.7 -6.0h3.2v11.0h-3.2zM137.9 4.4h3.2v11.0h-3.2zM142.5 -62.9h3.2v11.0h-3.2zM156.3 -3.8h3.2v11.0h-3.2zM165.5 -65.9h3.2v11.0h-3.2zM165.5 -7.9h3.2v11.0h-3.2zM170.1 -60.7h3.2v11.0h-3.2zM174.7 -70.0h3.2v11.0h-3.2zM193.1 -63.7h3.2v11.0h-3.2zM202.3 -53.3h3.2v11.0h-3.2zM206.9 -4.6h3.2v11.0h-3.2zM211.5 -71.9h3.2v11.0h-3.2zM211.5 -28.4h3.2v11.0h-3.2zM248.3 -59.3h3.2v11.0h-3.2z"/>
<path fill="#d8d8d2" d="M-9.3 -17.0h3.2v11.0h-3.2zM-0.1 -21.1h3.2v11.0h-3.2zM13.7 -20.0h3.2v11.0h-3.2zM18.3 -43.8h3.2v11.0h-3.2zM59.7 -55.0h3.2v11.0h-3.2zM68.9 -15.6h3.2v11.0h-3.2zM91.9 10.4h3.2v11.0h-3.2zM96.5 -27.9h3.2v11.0h-3.2zM183.9 -74.1h3.2v11.0h-3.2zM188.5 3.6h3.2v11.0h-3.2zM216.1 -66.7h3.2v11.0h-3.2zM234.5 -31.4h3.2v11.0h-3.2zM248.3 -73.8h3.2v11.0h-3.2z"/>
<path fill="#deded8" d="M22.9 -24.1h3.2v11.0h-3.2zM73.5 -10.4h3.2v11.0h-3.2zM101.1 -8.2h3.2v11.0h-3.2zM124.1 -69.2h3.2v11.0h-3.2zM211.5 -13.9h3.2v11.0h-3.2z"/>
<path fill="#e4e4de" d="M-9.3 -2.5h3.2v11.0h-3.2z"/>
<path fill="#eaeae4" d="M193.1 -34.7h3.2v11.0h-3.2z"/>
</g>
<defs><pattern id="mesh" width="2.8" height="2.8" patternUnits="userSpaceOnUse" patternTransform="rotate(33.0)"><rect width="2.8" height="2.8" fill="#626260"/><circle cx="1.4" cy="1.4" r="0.85" fill="#969693"/></pattern>
<linearGradient id="meshsh" gradientUnits="userSpaceOnUse" x1="112" y1="368" x2="92" y2="398"><stop offset="0" stop-color="#000" stop-opacity="0"/><stop offset="0.6" stop-color="#000" stop-opacity="0.05"/><stop offset="1" stop-color="#000" stop-opacity="0.32"/></linearGradient></defs>
<path d="M111 367 L94 395 L150 409 L172 416 L182 408 L150 387 Z" fill="url(#mesh)"/>
<path d="M111 367 L94 395 L150 409 L172 416 L182 408 L150 387 Z" fill="url(#meshsh)"/>
<path d="M143 378 L160 402 L185 425 L210 445 L235 462 L262 478 L262 497 L235 481 L210 463 L185 442 L160 419 L144 398 Z" fill="#000" opacity="0.38" filter="url(#soft3)"/>
</g>
<clipPath id="farclip"><path d="M285 374 L437 374 C447 374.5 452 378 457 381 C467 387 475 393 482 400 C489 407 495 414 500 422 C508 431 514 439 520 447 C526 456 531 465 536 475 C540 484 542 492 544 500 C546 512 547 525 547.3 540 L547.5 654.6 L255.5 657.2 L285 657.2 Z"/></clipPath>
<g clip-path="url(#farclip)">
<rect x="280" y="370" width="270" height="180" fill="#5f5f5c"/>
<g transform="rotate(-0.55 380 530)">
<g filter="url(#soft)">
<path fill="#5a5a54" d="M556.1 417.9h22.8v3.2h-22.8zM394.1 441.5h22.8v3.2h-22.8z"/>
<path fill="#666660" d="M394.1 410.0h22.8v3.2h-22.8zM340.1 433.6h22.8v3.2h-22.8zM448.1 433.6h22.8v3.2h-22.8zM286.1 449.3h22.8v3.2h-22.8zM394.1 457.2h22.8v3.2h-22.8zM353.6 461.1h22.8v3.2h-22.8z"/>
<path fill="#6c6c66" d="M461.6 421.8h22.8v3.2h-22.8zM367.1 425.7h22.8v3.2h-22.8zM421.1 425.7h22.8v3.2h-22.8zM380.6 437.5h22.8v3.2h-22.8zM475.1 441.5h22.8v3.2h-22.8zM448.1 449.3h22.8v3.2h-22.8zM475.1 449.3h22.8v3.2h-22.8zM340.1 457.2h22.8v3.2h-22.8z"/>
<path fill="#72726c" d="M367.1 402.2h22.8v3.2h-22.8zM488.6 406.1h22.8v3.2h-22.8zM542.6 406.1h22.8v3.2h-22.8zM353.6 414.0h22.8v3.2h-22.8zM461.6 414.0h22.8v3.2h-22.8zM299.6 421.8h22.8v3.2h-22.8zM259.1 425.7h22.8v3.2h-22.8zM326.6 429.7h22.8v3.2h-22.8zM353.6 429.7h22.8v3.2h-22.8zM434.6 437.5h22.8v3.2h-22.8zM259.1 441.5h22.8v3.2h-22.8zM340.1 441.5h22.8v3.2h-22.8zM407.6 445.4h22.8v3.2h-22.8zM380.6 453.2h22.8v3.2h-22.8zM367.1 457.2h22.8v3.2h-22.8zM421.1 457.2h22.8v3.2h-22.8zM542.6 461.1h22.8v3.2h-22.8zM313.1 465.0h22.8v3.2h-22.8zM421.1 465.0h22.8v3.2h-22.8zM448.1 465.0h22.8v3.2h-22.8zM272.6 469.0h22.8v3.2h-22.8zM326.6 469.0h22.8v3.2h-22.8zM488.6 469.0h22.8v3.2h-22.8z"/>
<path fill="#787872" d="M259.1 402.2h22.8v3.2h-22.8zM286.1 402.2h22.8v3.2h-22.8zM394.1 402.2h22.8v3.2h-22.8zM475.1 402.2h22.8v3.2h-22.8zM502.1 402.2h22.8v3.2h-22.8zM259.1 410.0h22.8v3.2h-22.8zM340.1 410.0h22.8v3.2h-22.8zM448.1 410.0h22.8v3.2h-22.8zM475.1 410.0h22.8v3.2h-22.8zM272.6 414.0h22.8v3.2h-22.8zM380.6 414.0h22.8v3.2h-22.8zM515.6 414.0h22.8v3.2h-22.8zM313.1 417.9h22.8v3.2h-22.8zM367.1 417.9h22.8v3.2h-22.8zM394.1 417.9h22.8v3.2h-22.8zM448.1 417.9h22.8v3.2h-22.8zM380.6 421.8h22.8v3.2h-22.8zM407.6 421.8h22.8v3.2h-22.8zM286.1 425.7h22.8v3.2h-22.8zM272.6 429.7h22.8v3.2h-22.8zM299.6 429.7h22.8v3.2h-22.8zM380.6 429.7h22.8v3.2h-22.8zM259.1 433.6h22.8v3.2h-22.8zM313.1 433.6h22.8v3.2h-22.8zM394.1 433.6h22.8v3.2h-22.8zM326.6 437.5h22.8v3.2h-22.8zM353.6 437.5h22.8v3.2h-22.8zM488.6 437.5h22.8v3.2h-22.8zM515.6 437.5h22.8v3.2h-22.8zM542.6 437.5h22.8v3.2h-22.8zM313.1 441.5h22.8v3.2h-22.8zM529.1 441.5h22.8v3.2h-22.8zM340.1 449.3h22.8v3.2h-22.8zM326.6 453.2h22.8v3.2h-22.8zM353.6 453.2h22.8v3.2h-22.8zM434.6 453.2h22.8v3.2h-22.8zM515.6 453.2h22.8v3.2h-22.8zM286.1 457.2h22.8v3.2h-22.8zM475.1 457.2h22.8v3.2h-22.8zM502.1 457.2h22.8v3.2h-22.8zM529.1 457.2h22.8v3.2h-22.8zM299.6 461.1h22.8v3.2h-22.8zM326.6 461.1h22.8v3.2h-22.8zM380.6 461.1h22.8v3.2h-22.8zM407.6 461.1h22.8v3.2h-22.8zM434.6 461.1h22.8v3.2h-22.8zM488.6 461.1h22.8v3.2h-22.8zM340.1 465.0h22.8v3.2h-22.8zM475.1 465.0h22.8v3.2h-22.8z"/>
<path fill="#7e7e78" d="M421.1 402.2h22.8v3.2h-22.8zM448.1 402.2h22.8v3.2h-22.8zM299.6 406.1h22.8v3.2h-22.8zM353.6 406.1h22.8v3.2h-22.8zM380.6 406.1h22.8v3.2h-22.8zM434.6 406.1h22.8v3.2h-22.8zM461.6 406.1h22.8v3.2h-22.8zM367.1 410.0h22.8v3.2h-22.8zM556.1 410.0h22.8v3.2h-22.8zM326.6 414.0h22.8v3.2h-22.8zM434.6 414.0h22.8v3.2h-22.8zM542.6 414.0h22.8v3.2h-22.8zM259.1 417.9h22.8v3.2h-22.8zM340.1 417.9h22.8v3.2h-22.8zM421.1 417.9h22.8v3.2h-22.8zM488.6 421.8h22.8v3.2h-22.8zM340.1 425.7h22.8v3.2h-22.8zM529.1 425.7h22.8v3.2h-22.8zM556.1 425.7h22.8v3.2h-22.8zM461.6 429.7h22.8v3.2h-22.8zM488.6 429.7h22.8v3.2h-22.8zM515.6 429.7h22.8v3.2h-22.8zM475.1 433.6h22.8v3.2h-22.8zM502.1 433.6h22.8v3.2h-22.8zM529.1 433.6h22.8v3.2h-22.8zM286.1 441.5h22.8v3.2h-22.8zM421.1 441.5h22.8v3.2h-22.8zM448.1 441.5h22.8v3.2h-22.8zM380.6 445.4h22.8v3.2h-22.8zM461.6 445.4h22.8v3.2h-22.8zM515.6 445.4h22.8v3.2h-22.8zM542.6 445.4h22.8v3.2h-22.8zM313.1 449.3h22.8v3.2h-22.8zM299.6 453.2h22.8v3.2h-22.8zM407.6 453.2h22.8v3.2h-22.8zM259.1 457.2h22.8v3.2h-22.8zM448.1 457.2h22.8v3.2h-22.8zM272.6 461.1h22.8v3.2h-22.8zM380.6 469.0h22.8v3.2h-22.8zM434.6 469.0h22.8v3.2h-22.8zM515.6 469.0h22.8v3.2h-22.8zM542.6 469.0h22.8v3.2h-22.8z"/>
<path fill="#84847e" d="M542.6 382.5h22.8v3.2h-22.8zM340.1 386.4h22.8v3.2h-22.8zM340.1 402.2h22.8v3.2h-22.8zM529.1 402.2h22.8v3.2h-22.8zM407.6 406.1h22.8v3.2h-22.8zM313.1 410.0h22.8v3.2h-22.8zM421.1 410.0h22.8v3.2h-22.8zM299.6 414.0h22.8v3.2h-22.8zM407.6 414.0h22.8v3.2h-22.8zM286.1 417.9h22.8v3.2h-22.8zM475.1 417.9h22.8v3.2h-22.8zM502.1 417.9h22.8v3.2h-22.8zM529.1 417.9h22.8v3.2h-22.8zM272.6 421.8h22.8v3.2h-22.8zM326.6 421.8h22.8v3.2h-22.8zM515.6 421.8h22.8v3.2h-22.8zM542.6 421.8h22.8v3.2h-22.8zM313.1 425.7h22.8v3.2h-22.8zM394.1 425.7h22.8v3.2h-22.8zM448.1 425.7h22.8v3.2h-22.8zM475.1 425.7h22.8v3.2h-22.8zM407.6 429.7h22.8v3.2h-22.8zM434.6 429.7h22.8v3.2h-22.8zM542.6 429.7h22.8v3.2h-22.8zM367.1 433.6h22.8v3.2h-22.8zM272.6 437.5h22.8v3.2h-22.8zM299.6 437.5h22.8v3.2h-22.8zM367.1 441.5h22.8v3.2h-22.8zM556.1 441.5h22.8v3.2h-22.8zM299.6 445.4h22.8v3.2h-22.8zM326.6 445.4h22.8v3.2h-22.8zM434.6 445.4h22.8v3.2h-22.8zM421.1 449.3h22.8v3.2h-22.8zM529.1 449.3h22.8v3.2h-22.8zM272.6 453.2h22.8v3.2h-22.8zM461.6 453.2h22.8v3.2h-22.8zM461.6 461.1h22.8v3.2h-22.8zM286.1 465.0h22.8v3.2h-22.8zM556.1 465.0h22.8v3.2h-22.8zM353.6 469.0h22.8v3.2h-22.8zM407.6 469.0h22.8v3.2h-22.8zM461.6 469.0h22.8v3.2h-22.8z"/>
<path fill="#8a8a84" d="M407.6 382.5h22.8v3.2h-22.8zM286.1 386.4h22.8v3.2h-22.8zM421.1 386.4h22.8v3.2h-22.8zM529.1 386.4h22.8v3.2h-22.8zM407.6 390.4h22.8v3.2h-22.8zM488.6 390.4h22.8v3.2h-22.8zM556.1 402.2h22.8v3.2h-22.8zM272.6 406.1h22.8v3.2h-22.8zM326.6 406.1h22.8v3.2h-22.8zM515.6 406.1h22.8v3.2h-22.8zM286.1 410.0h22.8v3.2h-22.8zM488.6 414.0h22.8v3.2h-22.8zM353.6 421.8h22.8v3.2h-22.8zM502.1 425.7h22.8v3.2h-22.8zM286.1 433.6h22.8v3.2h-22.8zM556.1 433.6h22.8v3.2h-22.8zM407.6 437.5h22.8v3.2h-22.8zM444.9 441.2h2.2v3.7h-2.2zM353.6 445.4h22.8v3.2h-22.8zM488.6 445.4h22.8v3.2h-22.8zM259.1 449.3h22.8v3.2h-22.8zM367.1 449.3h22.8v3.2h-22.8zM394.1 449.3h22.8v3.2h-22.8zM556.1 449.3h22.8v3.2h-22.8zM488.6 453.2h22.8v3.2h-22.8zM313.1 457.2h22.8v3.2h-22.8zM556.1 457.2h22.8v3.2h-22.8zM515.6 461.1h22.8v3.2h-22.8zM529.1 465.0h22.8v3.2h-22.8zM269.4 468.7h2.2v3.7h-2.2zM299.6 469.0h22.8v3.2h-22.8z"/>
<path fill="#90908a" d="M272.6 382.5h22.8v3.2h-22.8zM299.6 382.5h22.8v3.2h-22.8zM326.6 382.5h22.8v3.2h-22.8zM380.6 382.5h22.8v3.2h-22.8zM461.6 382.5h22.8v3.2h-22.8zM394.1 386.4h22.8v3.2h-22.8zM475.1 386.4h22.8v3.2h-22.8zM502.1 386.4h22.8v3.2h-22.8zM299.6 390.4h22.8v3.2h-22.8zM353.6 390.4h22.8v3.2h-22.8zM515.6 390.4h22.8v3.2h-22.8zM313.1 402.2h22.8v3.2h-22.8zM529.1 410.0h22.8v3.2h-22.8zM431.4 421.6h2.2v3.7h-2.2zM461.6 437.5h22.8v3.2h-22.8zM272.6 445.4h22.8v3.2h-22.8zM542.6 453.2h22.8v3.2h-22.8zM259.1 465.0h22.8v3.2h-22.8zM394.1 465.0h22.8v3.2h-22.8z"/>
<path fill="#969690" d="M353.6 382.5h22.8v3.2h-22.8zM488.6 382.5h22.8v3.2h-22.8zM313.1 386.4h22.8v3.2h-22.8zM272.6 390.4h22.8v3.2h-22.8zM380.6 390.4h22.8v3.2h-22.8zM282.9 401.9h2.2v3.7h-2.2zM512.4 405.8h2.2v3.7h-2.2zM282.9 409.8h2.2v3.7h-2.2zM404.4 413.7h2.2v3.7h-2.2zM434.6 421.8h22.8v3.2h-22.8zM390.9 425.5h2.2v3.7h-2.2zM444.9 425.5h2.2v3.7h-2.2zM323.4 429.4h2.2v3.7h-2.2zM421.1 433.6h22.8v3.2h-22.8zM502.1 441.5h22.8v3.2h-22.8zM390.9 449.1h2.2v3.7h-2.2zM471.9 449.1h2.2v3.7h-2.2zM512.4 460.9h2.2v3.7h-2.2zM367.1 465.0h22.8v3.2h-22.8zM363.9 464.8h2.2v3.7h-2.2zM539.4 468.7h2.2v3.7h-2.2z"/>
<path fill="#9c9c96" d="M434.6 382.5h22.8v3.2h-22.8zM259.1 386.4h22.8v3.2h-22.8zM367.1 386.4h22.8v3.2h-22.8zM448.1 386.4h22.8v3.2h-22.8zM556.1 386.4h22.8v3.2h-22.8zM326.6 390.4h22.8v3.2h-22.8zM434.6 390.4h22.8v3.2h-22.8zM542.6 390.4h22.8v3.2h-22.8zM417.9 401.9h2.2v3.7h-2.2zM296.4 405.8h2.2v3.7h-2.2zM404.4 405.8h2.2v3.7h-2.2zM431.4 405.8h2.2v3.7h-2.2zM458.4 405.8h2.2v3.7h-2.2zM255.9 409.8h2.2v3.7h-2.2zM390.9 409.8h2.2v3.7h-2.2zM444.9 409.8h2.2v3.7h-2.2zM471.9 409.8h2.2v3.7h-2.2zM502.1 410.0h22.8v3.2h-22.8zM498.9 409.8h2.2v3.7h-2.2zM458.4 413.7h2.2v3.7h-2.2zM512.4 413.7h2.2v3.7h-2.2zM323.4 421.6h2.2v3.7h-2.2zM377.4 421.6h2.2v3.7h-2.2zM525.9 425.5h2.2v3.7h-2.2zM458.4 429.4h2.2v3.7h-2.2zM485.4 429.4h2.2v3.7h-2.2zM323.4 437.3h2.2v3.7h-2.2zM377.4 437.3h2.2v3.7h-2.2zM404.4 437.3h2.2v3.7h-2.2zM485.4 437.3h2.2v3.7h-2.2zM512.4 437.3h2.2v3.7h-2.2zM255.9 441.2h2.2v3.7h-2.2zM309.9 441.2h2.2v3.7h-2.2zM336.9 441.2h2.2v3.7h-2.2zM417.9 441.2h2.2v3.7h-2.2zM552.9 441.2h2.2v3.7h-2.2zM269.4 445.1h2.2v3.7h-2.2zM296.4 445.1h2.2v3.7h-2.2zM350.4 445.1h2.2v3.7h-2.2zM512.4 445.1h2.2v3.7h-2.2zM255.9 449.1h2.2v3.7h-2.2zM502.1 449.3h22.8v3.2h-22.8zM552.9 449.1h2.2v3.7h-2.2zM377.4 453.0h2.2v3.7h-2.2zM431.4 453.0h2.2v3.7h-2.2zM255.9 456.9h2.2v3.7h-2.2zM525.9 456.9h2.2v3.7h-2.2zM269.4 460.9h2.2v3.7h-2.2zM539.4 460.9h2.2v3.7h-2.2zM336.9 464.8h2.2v3.7h-2.2zM471.9 464.8h2.2v3.7h-2.2zM502.1 465.0h22.8v3.2h-22.8zM552.9 464.8h2.2v3.7h-2.2zM485.4 468.7h2.2v3.7h-2.2z"/>
<path fill="#a2a29c" d="M259.1 370.7h22.8v3.2h-22.8zM323.4 382.3h2.2v3.7h-2.2zM515.6 382.5h22.8v3.2h-22.8zM282.9 386.2h2.2v3.7h-2.2zM336.9 386.2h2.2v3.7h-2.2zM461.6 390.4h22.8v3.2h-22.8zM309.9 401.9h2.2v3.7h-2.2zM363.9 401.9h2.2v3.7h-2.2zM498.9 401.9h2.2v3.7h-2.2zM350.4 405.8h2.2v3.7h-2.2zM539.4 405.8h2.2v3.7h-2.2zM336.9 409.8h2.2v3.7h-2.2zM417.9 409.8h2.2v3.7h-2.2zM296.4 413.7h2.2v3.7h-2.2zM350.4 413.7h2.2v3.7h-2.2zM485.4 413.7h2.2v3.7h-2.2zM539.4 413.7h2.2v3.7h-2.2zM282.9 417.6h2.2v3.7h-2.2zM309.9 417.6h2.2v3.7h-2.2zM363.9 417.6h2.2v3.7h-2.2zM390.9 417.6h2.2v3.7h-2.2zM498.9 417.6h2.2v3.7h-2.2zM485.4 421.6h2.2v3.7h-2.2zM309.9 425.5h2.2v3.7h-2.2zM336.9 425.5h2.2v3.7h-2.2zM363.9 425.5h2.2v3.7h-2.2zM471.9 425.5h2.2v3.7h-2.2zM498.9 425.5h2.2v3.7h-2.2zM552.9 425.5h2.2v3.7h-2.2zM269.4 429.4h2.2v3.7h-2.2zM404.4 429.4h2.2v3.7h-2.2zM512.4 429.4h2.2v3.7h-2.2zM282.9 433.4h2.2v3.7h-2.2zM336.9 433.4h2.2v3.7h-2.2zM498.9 433.4h2.2v3.7h-2.2zM552.9 433.4h2.2v3.7h-2.2zM296.4 437.3h2.2v3.7h-2.2zM350.4 437.3h2.2v3.7h-2.2zM431.4 437.3h2.2v3.7h-2.2zM282.9 441.2h2.2v3.7h-2.2zM363.9 441.2h2.2v3.7h-2.2zM525.9 441.2h2.2v3.7h-2.2zM323.4 445.1h2.2v3.7h-2.2zM431.4 445.1h2.2v3.7h-2.2zM282.9 449.1h2.2v3.7h-2.2zM309.9 449.1h2.2v3.7h-2.2zM296.4 453.0h2.2v3.7h-2.2zM350.4 453.0h2.2v3.7h-2.2zM485.4 453.0h2.2v3.7h-2.2zM539.4 453.0h2.2v3.7h-2.2zM390.9 456.9h2.2v3.7h-2.2zM552.9 456.9h2.2v3.7h-2.2zM404.4 460.9h2.2v3.7h-2.2zM458.4 460.9h2.2v3.7h-2.2zM498.9 464.8h2.2v3.7h-2.2zM525.9 464.8h2.2v3.7h-2.2zM431.4 468.7h2.2v3.7h-2.2z"/>
<path fill="#a8a8a2" d="M475.1 370.7h22.8v3.2h-22.8zM515.6 374.7h22.8v3.2h-22.8zM296.4 382.3h2.2v3.7h-2.2zM539.4 382.3h2.2v3.7h-2.2zM350.4 390.1h2.2v3.7h-2.2zM390.9 401.9h2.2v3.7h-2.2zM444.9 401.9h2.2v3.7h-2.2zM471.9 401.9h2.2v3.7h-2.2zM525.9 401.9h2.2v3.7h-2.2zM269.4 405.8h2.2v3.7h-2.2zM309.9 409.8h2.2v3.7h-2.2zM363.9 409.8h2.2v3.7h-2.2zM525.9 409.8h2.2v3.7h-2.2zM552.9 409.8h2.2v3.7h-2.2zM323.4 413.7h2.2v3.7h-2.2zM377.4 413.7h2.2v3.7h-2.2zM255.9 417.6h2.2v3.7h-2.2zM336.9 417.6h2.2v3.7h-2.2zM444.9 417.6h2.2v3.7h-2.2zM471.9 417.6h2.2v3.7h-2.2zM525.9 417.6h2.2v3.7h-2.2zM552.9 417.6h2.2v3.7h-2.2zM296.4 421.6h2.2v3.7h-2.2zM350.4 421.6h2.2v3.7h-2.2zM458.4 421.6h2.2v3.7h-2.2zM512.4 421.6h2.2v3.7h-2.2zM539.4 421.6h2.2v3.7h-2.2zM296.4 429.4h2.2v3.7h-2.2zM377.4 429.4h2.2v3.7h-2.2zM431.4 429.4h2.2v3.7h-2.2zM539.4 429.4h2.2v3.7h-2.2zM309.9 433.4h2.2v3.7h-2.2zM539.4 437.3h2.2v3.7h-2.2zM390.9 441.2h2.2v3.7h-2.2zM404.4 445.1h2.2v3.7h-2.2zM485.4 445.1h2.2v3.7h-2.2zM336.9 449.1h2.2v3.7h-2.2zM363.9 449.1h2.2v3.7h-2.2zM417.9 449.1h2.2v3.7h-2.2zM323.4 453.0h2.2v3.7h-2.2zM404.4 453.0h2.2v3.7h-2.2zM458.4 453.0h2.2v3.7h-2.2zM512.4 453.0h2.2v3.7h-2.2zM363.9 456.9h2.2v3.7h-2.2zM296.4 460.9h2.2v3.7h-2.2zM323.4 460.9h2.2v3.7h-2.2zM431.4 460.9h2.2v3.7h-2.2zM485.4 460.9h2.2v3.7h-2.2zM282.9 464.8h2.2v3.7h-2.2zM390.9 464.8h2.2v3.7h-2.2zM417.9 464.8h2.2v3.7h-2.2zM444.9 464.8h2.2v3.7h-2.2zM296.4 468.7h2.2v3.7h-2.2zM404.4 468.7h2.2v3.7h-2.2z"/>
<path fill="#aeaea8" d="M394.1 370.7h22.8v3.2h-22.8zM502.1 370.7h22.8v3.2h-22.8zM269.4 382.3h2.2v3.7h-2.2zM431.4 382.3h2.2v3.7h-2.2zM255.9 386.2h2.2v3.7h-2.2zM363.9 386.2h2.2v3.7h-2.2zM390.9 386.2h2.2v3.7h-2.2zM377.4 390.1h2.2v3.7h-2.2zM485.4 390.1h2.2v3.7h-2.2zM255.9 401.9h2.2v3.7h-2.2zM336.9 401.9h2.2v3.7h-2.2zM552.9 401.9h2.2v3.7h-2.2zM377.4 405.8h2.2v3.7h-2.2zM485.4 405.8h2.2v3.7h-2.2zM269.4 413.7h2.2v3.7h-2.2zM431.4 413.7h2.2v3.7h-2.2zM417.9 417.6h2.2v3.7h-2.2zM255.9 425.5h2.2v3.7h-2.2zM282.9 425.5h2.2v3.7h-2.2zM417.9 425.5h2.2v3.7h-2.2zM350.4 429.4h2.2v3.7h-2.2zM255.9 433.4h2.2v3.7h-2.2zM390.9 433.4h2.2v3.7h-2.2zM444.9 433.4h2.2v3.7h-2.2zM471.9 433.4h2.2v3.7h-2.2zM525.9 433.4h2.2v3.7h-2.2zM269.4 437.3h2.2v3.7h-2.2zM458.4 437.3h2.2v3.7h-2.2zM471.9 441.2h2.2v3.7h-2.2zM458.4 445.1h2.2v3.7h-2.2zM444.9 449.1h2.2v3.7h-2.2zM498.9 449.1h2.2v3.7h-2.2zM525.9 449.1h2.2v3.7h-2.2zM269.4 453.0h2.2v3.7h-2.2zM282.9 456.9h2.2v3.7h-2.2zM309.9 456.9h2.2v3.7h-2.2zM336.9 456.9h2.2v3.7h-2.2zM417.9 456.9h2.2v3.7h-2.2zM444.9 456.9h2.2v3.7h-2.2zM350.4 460.9h2.2v3.7h-2.2zM377.4 460.9h2.2v3.7h-2.2zM255.9 464.8h2.2v3.7h-2.2zM309.9 464.8h2.2v3.7h-2.2zM323.4 468.7h2.2v3.7h-2.2zM377.4 468.7h2.2v3.7h-2.2zM458.4 468.7h2.2v3.7h-2.2z"/>
<path fill="#b4b4ae" d="M286.1 370.7h22.8v3.2h-22.8zM326.6 374.7h22.8v3.2h-22.8zM407.6 374.7h22.8v3.2h-22.8zM434.6 374.7h22.8v3.2h-22.8zM259.1 378.6h22.8v3.2h-22.8zM367.1 378.6h22.8v3.2h-22.8zM421.1 378.6h22.8v3.2h-22.8zM448.1 378.6h22.8v3.2h-22.8zM475.1 378.6h22.8v3.2h-22.8zM556.1 378.6h22.8v3.2h-22.8zM350.4 382.3h2.2v3.7h-2.2zM404.4 382.3h2.2v3.7h-2.2zM485.4 382.3h2.2v3.7h-2.2zM512.4 382.3h2.2v3.7h-2.2zM417.9 386.2h2.2v3.7h-2.2zM444.9 386.2h2.2v3.7h-2.2zM498.9 386.2h2.2v3.7h-2.2zM525.9 386.2h2.2v3.7h-2.2zM269.4 390.1h2.2v3.7h-2.2zM404.4 390.1h2.2v3.7h-2.2zM431.4 390.1h2.2v3.7h-2.2zM458.4 390.1h2.2v3.7h-2.2zM512.4 390.1h2.2v3.7h-2.2zM539.4 390.1h2.2v3.7h-2.2zM340.1 394.3h22.8v3.2h-22.8zM434.6 398.2h22.8v3.2h-22.8zM488.6 398.2h22.8v3.2h-22.8zM323.4 405.8h2.2v3.7h-2.2zM269.4 421.6h2.2v3.7h-2.2zM404.4 421.6h2.2v3.7h-2.2zM363.9 433.4h2.2v3.7h-2.2zM417.9 433.4h2.2v3.7h-2.2zM498.9 441.2h2.2v3.7h-2.2zM377.4 445.1h2.2v3.7h-2.2zM539.4 445.1h2.2v3.7h-2.2zM471.9 456.9h2.2v3.7h-2.2zM498.9 456.9h2.2v3.7h-2.2zM512.4 468.7h2.2v3.7h-2.2z"/>
<path fill="#babab4" d="M367.1 370.7h22.8v3.2h-22.8zM529.1 370.7h22.8v3.2h-22.8zM299.6 374.7h22.8v3.2h-22.8zM461.6 374.7h22.8v3.2h-22.8zM542.6 374.7h22.8v3.2h-22.8zM313.1 378.6h22.8v3.2h-22.8zM309.9 378.3h2.2v3.7h-2.2zM340.1 378.6h22.8v3.2h-22.8zM529.1 378.6h22.8v3.2h-22.8zM377.4 382.3h2.2v3.7h-2.2zM458.4 382.3h2.2v3.7h-2.2zM309.9 386.2h2.2v3.7h-2.2zM471.9 386.2h2.2v3.7h-2.2zM552.9 386.2h2.2v3.7h-2.2zM296.4 390.1h2.2v3.7h-2.2zM323.4 390.1h2.2v3.7h-2.2zM367.1 394.3h22.8v3.2h-22.8zM421.1 394.3h22.8v3.2h-22.8zM448.1 394.3h22.8v3.2h-22.8zM461.6 398.2h22.8v3.2h-22.8zM542.6 398.2h22.8v3.2h-22.8zM350.4 468.7h2.2v3.7h-2.2z"/>
<path fill="#c0c0ba" d="M417.9 370.5h2.2v3.7h-2.2zM444.9 370.5h2.2v3.7h-2.2zM556.1 370.7h22.8v3.2h-22.8zM272.6 374.7h22.8v3.2h-22.8zM380.6 374.7h22.8v3.2h-22.8zM377.4 374.4h2.2v3.7h-2.2zM431.4 374.4h2.2v3.7h-2.2zM488.6 374.7h22.8v3.2h-22.8zM539.4 374.4h2.2v3.7h-2.2zM282.9 378.3h2.2v3.7h-2.2zM502.1 378.6h22.8v3.2h-22.8zM336.9 394.1h2.2v3.7h-2.2zM475.1 394.3h22.8v3.2h-22.8zM272.6 398.2h22.8v3.2h-22.8zM353.6 398.2h22.8v3.2h-22.8zM407.6 398.2h22.8v3.2h-22.8z"/>
<path fill="#c6c6c0" d="M309.9 370.5h2.2v3.7h-2.2zM340.1 370.7h22.8v3.2h-22.8zM336.9 370.5h2.2v3.7h-2.2zM363.9 370.5h2.2v3.7h-2.2zM421.1 370.7h22.8v3.2h-22.8zM448.1 370.7h22.8v3.2h-22.8zM350.4 374.4h2.2v3.7h-2.2zM404.4 374.4h2.2v3.7h-2.2zM458.4 374.4h2.2v3.7h-2.2zM255.9 378.3h2.2v3.7h-2.2zM286.1 378.6h22.8v3.2h-22.8zM336.9 378.3h2.2v3.7h-2.2zM444.9 378.3h2.2v3.7h-2.2zM471.9 378.3h2.2v3.7h-2.2zM498.9 378.3h2.2v3.7h-2.2zM525.9 378.3h2.2v3.7h-2.2zM255.9 394.1h2.2v3.7h-2.2zM286.1 394.3h22.8v3.2h-22.8zM390.9 394.1h2.2v3.7h-2.2zM417.9 394.1h2.2v3.7h-2.2zM498.9 394.1h2.2v3.7h-2.2zM529.1 394.3h22.8v3.2h-22.8zM326.6 398.2h22.8v3.2h-22.8zM350.4 398.0h2.2v3.7h-2.2zM458.4 398.0h2.2v3.7h-2.2zM485.4 398.0h2.2v3.7h-2.2z"/>
<path fill="#ccccc6" d="M255.9 370.5h2.2v3.7h-2.2zM282.9 370.5h2.2v3.7h-2.2zM313.1 370.7h22.8v3.2h-22.8zM471.9 370.5h2.2v3.7h-2.2zM498.9 370.5h2.2v3.7h-2.2zM525.9 370.5h2.2v3.7h-2.2zM552.9 370.5h2.2v3.7h-2.2zM269.4 374.4h2.2v3.7h-2.2zM296.4 374.4h2.2v3.7h-2.2zM323.4 374.4h2.2v3.7h-2.2zM353.6 374.7h22.8v3.2h-22.8zM485.4 374.4h2.2v3.7h-2.2zM363.9 378.3h2.2v3.7h-2.2zM394.1 378.6h22.8v3.2h-22.8zM390.9 378.3h2.2v3.7h-2.2zM552.9 378.3h2.2v3.7h-2.2zM313.1 394.3h22.8v3.2h-22.8zM502.1 394.3h22.8v3.2h-22.8zM525.9 394.1h2.2v3.7h-2.2zM556.1 394.3h22.8v3.2h-22.8zM299.6 398.2h22.8v3.2h-22.8zM296.4 398.0h2.2v3.7h-2.2zM377.4 398.0h2.2v3.7h-2.2zM431.4 398.0h2.2v3.7h-2.2zM512.4 398.0h2.2v3.7h-2.2z"/>
<path fill="#d2d2cc" d="M390.9 370.5h2.2v3.7h-2.2zM512.4 374.4h2.2v3.7h-2.2zM417.9 378.3h2.2v3.7h-2.2zM259.1 394.3h22.8v3.2h-22.8zM309.9 394.1h2.2v3.7h-2.2zM363.9 394.1h2.2v3.7h-2.2zM444.9 394.1h2.2v3.7h-2.2zM552.9 394.1h2.2v3.7h-2.2zM269.4 398.0h2.2v3.7h-2.2zM323.4 398.0h2.2v3.7h-2.2zM380.6 398.2h22.8v3.2h-22.8zM404.4 398.0h2.2v3.7h-2.2zM515.6 398.2h22.8v3.2h-22.8z"/>
<path fill="#d8d8d2" d="M282.9 394.1h2.2v3.7h-2.2zM394.1 394.3h22.8v3.2h-22.8zM471.9 394.1h2.2v3.7h-2.2zM539.4 398.0h2.2v3.7h-2.2z"/>
</g>
<rect x="278" y="366" width="276" height="184" fill="url(#rowsh2)"/>
</g>
<linearGradient id="farsh" gradientUnits="userSpaceOnUse" x1="290" y1="0" x2="540" y2="0"><stop offset="0" stop-color="#000" stop-opacity="0.14"/><stop offset="0.5" stop-color="#000" stop-opacity="0.03"/><stop offset="0.8" stop-color="#fff" stop-opacity="0.06"/><stop offset="1" stop-color="#fff" stop-opacity="0.1"/></linearGradient>
<rect x="280" y="370" width="270" height="180" filter="url(#grainf)"/>
<rect x="280" y="370" width="270" height="180" fill="url(#farsh)"/>
</g>
<defs>
<linearGradient id="cback" gradientUnits="userSpaceOnUse" x1="165" y1="310" x2="250" y2="400"><stop offset="0" stop-color="#d9dbd9"/><stop offset="0.5" stop-color="#d3d5d3"/><stop offset="1" stop-color="#cbcdcb"/></linearGradient>
<linearGradient id="cgus" gradientUnits="userSpaceOnUse" x1="145" y1="350" x2="255" y2="445"><stop offset="0" stop-color="#bcbebc"/><stop offset="0.25" stop-color="#c9cbc9"/><stop offset="0.7" stop-color="#bdbfbd"/><stop offset="1" stop-color="#a2a4a2"/></linearGradient>
<linearGradient id="cbot" gradientUnits="userSpaceOnUse" x1="145" y1="370" x2="260" y2="470"><stop offset="0" stop-color="#babcba"/><stop offset="0.5" stop-color="#adafad"/><stop offset="0.8" stop-color="#929492"/><stop offset="1" stop-color="#6a6c6a"/></linearGradient>
<clipPath id="cushclip"><path d="M120 290 L310 290 L310 373 L299 373 C308 381 316 392 322 407.3 L251 408.5 C254.4 434 256.5 452 258.3 463 C260 472 262 482 263.5 492 L120 492 Z"/></clipPath>
</defs>
<g clip-path="url(#cushclip)">
<path d="M155.4 337 C154.5 330 155.5 320 159 314.5 C162 309.5 166 308.5 172 308.5 C178 308.5 184 309.5 190 310.8 C196 312 201 313.2 206.7 315 C213 317.5 218 320.3 223.3 323.3 C229 326.5 235 330 240 333.3 C246 337 251 341 256.7 345 C262 349 268 354 273.3 358.3 C279 363 285 368 290 371.7 C294 374.5 297 376 303 378 L325 410 L250 415 L160 350 Z" fill="url(#cback)"/>
<path d="M150 343 C158 338.5 166 338.5 172 341.8 L199 366 L222.5 385.6 L251.7 406 L325 409 L300 372 C280 368 262 362 245 352 C225 341 205 336 185 336 C172 336 160 338 150 343 Z" fill="#cfd1cf"/>
<path d="M160 340 C190 338 230 352 262 376 L300 392 L300 409 L251.7 406 L222.5 385.6 L199 366 L172 341.8 Z" fill="#c6c8c6" opacity="0.6" filter="url(#soft3)"/>
<path d="M142.6 352 C145 345.5 149.5 342 154.5 340.3 C161 338.2 167 338.8 172 341.8 L199 366 L222.5 385.6 L252 408 L257 440 L257 457 L238 443 L215 426 L186 404 L158 381 C150 373.5 144 367 142 360.5 C141.4 357 141.8 354.5 142.6 352 Z" fill="url(#cgus)"/>
<path d="M142 360 C144 367 150 373.5 158 381 L186 404 L215 426 L238 443 L257 457 L264 480 L258 476.5 L235 462.5 L210 445 L185 425 L160 402.5 C152 394 147.5 388 145 382.5 C142 375 140.5 369 140.7 365 C140.8 362.5 141.3 361 142 360 Z" fill="url(#cbot)"/>
<path d="M140.7 365 C142 375 145 382.5 152 394 L160 402.5 L185 425 L210 445 L235 462.5 L258 476.5" fill="none" stroke="#6e706e" stroke-width="5" opacity="0.35" filter="url(#soft2)"/>
<path d="M142 350 C140 356 140 366 143 374 L152 372 C147 364 147 356 150 348 Z" fill="#8e908e" opacity="0.45" filter="url(#soft2)"/>
<path d="M160 316 C170 322 182 330 196 336 C214 344 236 358 258 378" fill="none" stroke="#b9bbb9" stroke-width="3" opacity="0.55" filter="url(#soft2)"/>
<path d="M166 312 C180 312 200 318 222 332 C240 344 262 360 284 372" fill="none" stroke="#e4e6e4" stroke-width="4" opacity="0.6" filter="url(#soft2)"/>
<path d="M238 402 L252 408 L265 482 L242 462 Z" fill="#000" opacity="0.2" filter="url(#soft3)"/>
<path d="M142.6 352 C145 345.5 149.5 342 154.5 340.3 C161 338.2 167 338.8 172 341.8 L199 366 L222.5 385.6 L252 408" fill="none" stroke="#8f918f" stroke-width="1.3" opacity="0.7" transform="translate(0 0.9)"/>
<path d="M142.6 352 C145 345.5 149.5 342 154.5 340.3 C161 338.2 167 338.8 172 341.8 L199 366 L222.5 385.6 L252 408" fill="none" stroke="#e6e8e6" stroke-width="1.2"/>
<path d="M142 360.5 C144 367 150 373.5 158 381 L186 404 L215 426 L238 443 L257 457" fill="none" stroke="#7f817f" stroke-width="1.3" opacity="0.7" transform="translate(0 0.9)"/>
<path d="M142 360.5 C144 367 150 373.5 158 381 L186 404 L215 426 L238 443 L257 457" fill="none" stroke="#dcdedc" stroke-width="1.1"/>
</g>
<clipPath id="nearclip"><path d="M251 408.5 L330 406.5 L440 402.5 C447 403 452 404.5 456.7 405.8 C463 407.5 468 409 473.3 411.7 C479 415 483 418 486.7 421.7 C490 425 494 428.5 496.7 431.7 C500 435.5 504 440 506.7 443.3 C511 448 517 454 527 458.5 C530 463 533 469 536 475 C540 484 542 492 544 500 C546 512 547 525 547.3 540 L547.5 654.6 L255.5 657.2 C257 640 260 618 262 602 C264.5 588 267.5 578 268.5 566 C269 552 269 540 268.5 529 C268 518 266.5 508 265 500 C263 487 260.5 475 258.3 463 C256.5 452 254.4 434 251 408.5 Z"/></clipPath>
<path d="M266 534 C265 538 264 540 263.2 540.5 C262 555 260 566 258.5 575.5 C256.5 586 254.5 594 253.8 602 C253.5 620 254.5 640 255 657.2 L262 657.2 L270 560 Z" fill="#73736f"/><path d="M266 534 C265 538 264 540 263.2 540.5 C262 555 260 566 258.5 575.5 C256.5 586 254.5 594 253.8 602 C253.5 620 254.5 640 255 657.2 L262 657.2 L270 560 Z" fill="url(#rowsh)"/>
<g clip-path="url(#nearclip)">
<rect x="245" y="400" width="310" height="262" fill="#62625f"/>
<g transform="rotate(-0.55 380 530)">
<g filter="url(#soft)">
<path fill="#5a5a54" d="M485.1 543.1h22.8v3.2h-22.8zM336.6 547.0h22.8v3.2h-22.8z"/>
<path fill="#60605a" d="M350.1 551.0h22.8v3.2h-22.8zM404.1 551.0h22.8v3.2h-22.8zM539.1 551.0h22.8v3.2h-22.8z"/>
<path fill="#666660" d="M269.1 543.1h22.8v3.2h-22.8zM566.1 551.0h22.8v3.2h-22.8zM431.1 558.8h22.8v3.2h-22.8zM458.1 558.8h22.8v3.2h-22.8zM242.1 606.0h22.8v3.2h-22.8zM431.1 613.8h22.8v3.2h-22.8zM228.6 633.5h22.8v3.2h-22.8zM309.6 633.5h22.8v3.2h-22.8zM350.1 637.4h22.8v3.2h-22.8zM458.1 637.4h22.8v3.2h-22.8z"/>
<path fill="#6c6c66" d="M525.6 437.0h22.8v3.2h-22.8zM471.6 444.9h22.8v3.2h-22.8zM323.1 543.1h22.8v3.2h-22.8zM566.1 543.1h22.8v3.2h-22.8zM255.6 547.0h22.8v3.2h-22.8zM525.6 547.0h22.8v3.2h-22.8zM242.1 551.0h22.8v3.2h-22.8zM431.1 551.0h22.8v3.2h-22.8zM552.6 554.9h22.8v3.2h-22.8zM242.1 558.8h22.8v3.2h-22.8zM296.1 558.8h22.8v3.2h-22.8zM377.1 558.8h22.8v3.2h-22.8zM566.1 558.8h22.8v3.2h-22.8zM215.1 606.0h22.8v3.2h-22.8zM404.1 606.0h22.8v3.2h-22.8zM390.6 609.9h22.8v3.2h-22.8zM377.1 613.8h22.8v3.2h-22.8zM404.1 613.8h22.8v3.2h-22.8zM336.6 633.5h22.8v3.2h-22.8zM323.1 637.4h22.8v3.2h-22.8zM485.1 637.4h22.8v3.2h-22.8z"/>
<path fill="#72726c" d="M282.6 437.0h22.8v3.2h-22.8zM471.6 437.0h22.8v3.2h-22.8zM242.1 440.9h22.8v3.2h-22.8zM296.1 440.9h22.8v3.2h-22.8zM350.1 440.9h22.8v3.2h-22.8zM363.6 444.9h22.8v3.2h-22.8zM390.6 444.9h22.8v3.2h-22.8zM552.6 444.9h22.8v3.2h-22.8zM215.1 543.1h22.8v3.2h-22.8zM296.1 543.1h22.8v3.2h-22.8zM377.1 543.1h22.8v3.2h-22.8zM512.1 543.1h22.8v3.2h-22.8zM309.6 547.0h22.8v3.2h-22.8zM363.6 547.0h22.8v3.2h-22.8zM444.6 547.0h22.8v3.2h-22.8zM552.6 547.0h22.8v3.2h-22.8zM323.1 551.0h22.8v3.2h-22.8zM269.1 558.8h22.8v3.2h-22.8zM323.1 558.8h22.8v3.2h-22.8zM512.1 558.8h22.8v3.2h-22.8zM539.1 558.8h22.8v3.2h-22.8zM566.1 590.3h22.8v3.2h-22.8zM282.6 594.2h22.8v3.2h-22.8zM444.6 594.2h22.8v3.2h-22.8zM269.1 606.0h22.8v3.2h-22.8zM431.1 606.0h22.8v3.2h-22.8zM255.6 609.9h22.8v3.2h-22.8zM282.6 609.9h22.8v3.2h-22.8zM309.6 609.9h22.8v3.2h-22.8zM350.1 613.8h22.8v3.2h-22.8zM485.1 613.8h22.8v3.2h-22.8zM282.6 617.8h22.8v3.2h-22.8zM525.6 617.8h22.8v3.2h-22.8zM552.6 617.8h22.8v3.2h-22.8zM390.6 633.5h22.8v3.2h-22.8zM552.6 633.5h22.8v3.2h-22.8zM269.1 637.4h22.8v3.2h-22.8z"/>
<path fill="#787872" d="M228.6 437.0h22.8v3.2h-22.8zM309.6 437.0h22.8v3.2h-22.8zM363.6 437.0h22.8v3.2h-22.8zM390.6 437.0h22.8v3.2h-22.8zM498.6 437.0h22.8v3.2h-22.8zM431.1 440.9h22.8v3.2h-22.8zM485.1 440.9h22.8v3.2h-22.8zM566.1 440.9h22.8v3.2h-22.8zM309.6 444.9h22.8v3.2h-22.8zM336.6 444.9h22.8v3.2h-22.8zM417.6 444.9h22.8v3.2h-22.8zM444.6 444.9h22.8v3.2h-22.8zM512.1 472.4h22.8v3.2h-22.8zM350.1 543.1h22.8v3.2h-22.8zM431.1 543.1h22.8v3.2h-22.8zM458.1 543.1h22.8v3.2h-22.8zM539.1 543.1h22.8v3.2h-22.8zM228.6 547.0h22.8v3.2h-22.8zM282.6 547.0h22.8v3.2h-22.8zM417.6 547.0h22.8v3.2h-22.8zM269.1 551.0h22.8v3.2h-22.8zM377.1 551.0h22.8v3.2h-22.8zM458.1 551.0h22.8v3.2h-22.8zM512.1 551.0h22.8v3.2h-22.8zM228.6 554.9h22.8v3.2h-22.8zM282.6 554.9h22.8v3.2h-22.8zM309.6 554.9h22.8v3.2h-22.8zM363.6 554.9h22.8v3.2h-22.8zM417.6 554.9h22.8v3.2h-22.8zM444.6 554.9h22.8v3.2h-22.8zM471.6 554.9h22.8v3.2h-22.8zM498.6 554.9h22.8v3.2h-22.8zM525.6 554.9h22.8v3.2h-22.8zM404.1 558.8h22.8v3.2h-22.8zM485.1 558.8h22.8v3.2h-22.8zM255.6 586.3h22.8v3.2h-22.8zM336.6 586.3h22.8v3.2h-22.8zM363.6 586.3h22.8v3.2h-22.8zM471.6 586.3h22.8v3.2h-22.8zM323.1 590.3h22.8v3.2h-22.8zM350.1 590.3h22.8v3.2h-22.8zM377.1 590.3h22.8v3.2h-22.8zM458.1 590.3h22.8v3.2h-22.8zM309.6 594.2h22.8v3.2h-22.8zM336.6 594.2h22.8v3.2h-22.8zM363.6 594.2h22.8v3.2h-22.8zM417.6 594.2h22.8v3.2h-22.8zM458.1 606.0h22.8v3.2h-22.8zM228.6 609.9h22.8v3.2h-22.8zM336.6 609.9h22.8v3.2h-22.8zM525.6 609.9h22.8v3.2h-22.8zM242.1 613.8h22.8v3.2h-22.8zM323.1 613.8h22.8v3.2h-22.8zM458.1 613.8h22.8v3.2h-22.8zM539.1 613.8h22.8v3.2h-22.8zM363.6 617.8h22.8v3.2h-22.8zM417.6 617.8h22.8v3.2h-22.8zM444.6 617.8h22.8v3.2h-22.8zM498.6 617.8h22.8v3.2h-22.8zM417.6 633.5h22.8v3.2h-22.8zM471.6 633.5h22.8v3.2h-22.8zM431.1 637.4h22.8v3.2h-22.8zM539.1 637.4h22.8v3.2h-22.8zM566.1 637.4h22.8v3.2h-22.8z"/>
<path fill="#7e7e78" d="M255.6 437.0h22.8v3.2h-22.8zM417.6 437.0h22.8v3.2h-22.8zM552.6 437.0h22.8v3.2h-22.8zM269.1 440.9h22.8v3.2h-22.8zM377.1 440.9h22.8v3.2h-22.8zM458.1 440.9h22.8v3.2h-22.8zM539.1 440.9h22.8v3.2h-22.8zM269.1 488.1h22.8v3.2h-22.8zM471.6 547.0h22.8v3.2h-22.8zM215.1 551.0h22.8v3.2h-22.8zM296.1 551.0h22.8v3.2h-22.8zM336.6 554.9h22.8v3.2h-22.8zM390.6 554.9h22.8v3.2h-22.8zM215.1 558.8h22.8v3.2h-22.8zM350.1 558.8h22.8v3.2h-22.8zM309.6 586.3h22.8v3.2h-22.8zM242.1 590.3h22.8v3.2h-22.8zM269.1 590.3h22.8v3.2h-22.8zM296.1 590.3h22.8v3.2h-22.8zM485.1 590.3h22.8v3.2h-22.8zM471.6 594.2h22.8v3.2h-22.8zM552.6 594.2h22.8v3.2h-22.8zM296.1 606.0h22.8v3.2h-22.8zM323.1 606.0h22.8v3.2h-22.8zM350.1 606.0h22.8v3.2h-22.8zM566.1 606.0h22.8v3.2h-22.8zM363.6 609.9h22.8v3.2h-22.8zM444.6 609.9h22.8v3.2h-22.8zM498.6 609.9h22.8v3.2h-22.8zM552.6 609.9h22.8v3.2h-22.8zM215.1 613.8h22.8v3.2h-22.8zM296.1 613.8h22.8v3.2h-22.8zM336.6 617.8h22.8v3.2h-22.8zM471.6 617.8h22.8v3.2h-22.8zM255.6 633.5h22.8v3.2h-22.8zM363.6 633.5h22.8v3.2h-22.8zM242.1 637.4h22.8v3.2h-22.8zM296.1 637.4h22.8v3.2h-22.8zM512.1 637.4h22.8v3.2h-22.8z"/>
<path fill="#84847e" d="M336.6 437.0h22.8v3.2h-22.8zM512.1 440.9h22.8v3.2h-22.8zM525.6 444.9h22.8v3.2h-22.8zM525.6 468.4h22.8v3.2h-22.8zM296.1 472.4h22.8v3.2h-22.8zM336.6 484.1h22.8v3.2h-22.8zM242.1 543.1h22.8v3.2h-22.8zM390.6 547.0h22.8v3.2h-22.8zM498.6 547.0h22.8v3.2h-22.8zM228.6 586.3h22.8v3.2h-22.8zM390.6 586.3h22.8v3.2h-22.8zM404.1 590.3h22.8v3.2h-22.8zM431.1 590.3h22.8v3.2h-22.8zM228.6 594.2h22.8v3.2h-22.8zM377.1 606.0h22.8v3.2h-22.8zM485.1 606.0h22.8v3.2h-22.8zM512.1 606.0h22.8v3.2h-22.8zM471.6 609.9h22.8v3.2h-22.8zM269.1 613.8h22.8v3.2h-22.8zM512.1 613.8h22.8v3.2h-22.8zM566.1 613.8h22.8v3.2h-22.8zM255.6 617.8h22.8v3.2h-22.8zM309.6 617.8h22.8v3.2h-22.8zM282.6 633.5h22.8v3.2h-22.8zM444.6 633.5h22.8v3.2h-22.8zM498.6 633.5h22.8v3.2h-22.8zM525.6 633.5h22.8v3.2h-22.8zM309.6 657.1h22.8v3.2h-22.8zM336.6 657.1h22.8v3.2h-22.8z"/>
<path fill="#8a8a84" d="M444.6 437.0h22.8v3.2h-22.8zM323.1 440.9h22.8v3.2h-22.8zM228.6 444.9h22.8v3.2h-22.8zM255.6 444.9h22.8v3.2h-22.8zM282.6 444.9h22.8v3.2h-22.8zM498.6 444.9h22.8v3.2h-22.8zM404.1 464.5h22.8v3.2h-22.8zM282.6 468.4h22.8v3.2h-22.8zM377.1 472.4h22.8v3.2h-22.8zM404.1 472.4h22.8v3.2h-22.8zM309.6 484.1h22.8v3.2h-22.8zM404.1 488.1h22.8v3.2h-22.8zM512.1 488.1h22.8v3.2h-22.8zM539.1 488.1h22.8v3.2h-22.8zM309.6 492.0h22.8v3.2h-22.8zM363.6 492.0h22.8v3.2h-22.8zM552.6 492.0h22.8v3.2h-22.8zM404.1 543.1h22.8v3.2h-22.8zM485.1 551.0h22.8v3.2h-22.8zM255.6 554.9h22.8v3.2h-22.8zM525.6 586.3h22.8v3.2h-22.8zM552.6 586.3h22.8v3.2h-22.8zM539.1 590.3h22.8v3.2h-22.8zM390.6 594.2h22.8v3.2h-22.8zM525.6 594.2h22.8v3.2h-22.8zM539.1 606.0h22.8v3.2h-22.8zM228.6 617.8h22.8v3.2h-22.8zM390.6 617.8h22.8v3.2h-22.8zM215.1 637.4h22.8v3.2h-22.8zM404.1 637.4h22.8v3.2h-22.8z"/>
<path fill="#90908a" d="M404.1 440.9h22.8v3.2h-22.8zM242.1 464.5h22.8v3.2h-22.8zM269.1 464.5h22.8v3.2h-22.8zM512.1 464.5h22.8v3.2h-22.8zM228.6 468.4h22.8v3.2h-22.8zM552.6 468.4h22.8v3.2h-22.8zM269.1 472.4h22.8v3.2h-22.8zM323.1 472.4h22.8v3.2h-22.8zM525.6 484.1h22.8v3.2h-22.8zM296.1 488.1h22.8v3.2h-22.8zM323.1 488.1h22.8v3.2h-22.8zM431.1 488.1h22.8v3.2h-22.8zM458.1 488.1h22.8v3.2h-22.8zM282.6 492.0h22.8v3.2h-22.8zM498.6 492.0h22.8v3.2h-22.8zM346.9 542.9h2.2v3.7h-2.2zM225.4 554.6h2.2v3.7h-2.2zM535.9 558.6h2.2v3.7h-2.2zM562.9 558.6h2.2v3.7h-2.2zM282.6 586.3h22.8v3.2h-22.8zM444.6 586.3h22.8v3.2h-22.8zM498.6 586.3h22.8v3.2h-22.8zM512.1 590.3h22.8v3.2h-22.8zM498.6 594.2h22.8v3.2h-22.8zM292.9 605.7h2.2v3.7h-2.2zM522.4 609.7h2.2v3.7h-2.2zM387.4 633.2h2.2v3.7h-2.2zM377.1 637.4h22.8v3.2h-22.8zM255.6 657.1h22.8v3.2h-22.8zM417.6 657.1h22.8v3.2h-22.8zM444.6 657.1h22.8v3.2h-22.8zM471.6 657.1h22.8v3.2h-22.8zM498.6 657.1h22.8v3.2h-22.8zM525.6 657.1h22.8v3.2h-22.8z"/>
<path fill="#969690" d="M441.4 436.7h2.2v3.7h-2.2zM522.4 436.7h2.2v3.7h-2.2zM215.1 440.9h22.8v3.2h-22.8zM279.4 444.6h2.2v3.7h-2.2zM323.1 464.5h22.8v3.2h-22.8zM350.1 464.5h22.8v3.2h-22.8zM431.1 464.5h22.8v3.2h-22.8zM485.1 464.5h22.8v3.2h-22.8zM363.6 468.4h22.8v3.2h-22.8zM390.6 468.4h22.8v3.2h-22.8zM471.6 468.4h22.8v3.2h-22.8zM539.1 472.4h22.8v3.2h-22.8zM566.1 472.4h22.8v3.2h-22.8zM255.6 484.1h22.8v3.2h-22.8zM498.6 484.1h22.8v3.2h-22.8zM552.6 484.1h22.8v3.2h-22.8zM377.1 488.1h22.8v3.2h-22.8zM390.6 492.0h22.8v3.2h-22.8zM444.6 492.0h22.8v3.2h-22.8zM377.1 495.9h22.8v3.2h-22.8zM562.9 542.9h2.2v3.7h-2.2zM387.4 546.8h2.2v3.7h-2.2zM468.4 546.8h2.2v3.7h-2.2zM549.4 546.8h2.2v3.7h-2.2zM346.9 550.7h2.2v3.7h-2.2zM562.9 550.7h2.2v3.7h-2.2zM387.4 554.6h2.2v3.7h-2.2zM346.9 558.6h2.2v3.7h-2.2zM417.6 586.3h22.8v3.2h-22.8zM215.1 590.3h22.8v3.2h-22.8zM292.9 590.0h2.2v3.7h-2.2zM255.6 594.2h22.8v3.2h-22.8zM252.4 593.9h2.2v3.7h-2.2zM414.4 593.9h2.2v3.7h-2.2zM265.9 605.7h2.2v3.7h-2.2zM481.9 605.7h2.2v3.7h-2.2zM225.4 609.7h2.2v3.7h-2.2zM417.6 609.9h22.8v3.2h-22.8zM346.9 613.6h2.2v3.7h-2.2zM495.4 617.5h2.2v3.7h-2.2zM269.1 621.7h22.8v3.2h-22.8zM211.9 637.2h2.2v3.7h-2.2zM400.9 637.2h2.2v3.7h-2.2zM228.6 657.1h22.8v3.2h-22.8zM390.6 657.1h22.8v3.2h-22.8zM377.1 661.0h22.8v3.2h-22.8zM431.1 661.0h22.8v3.2h-22.8z"/>
<path fill="#9c9c96" d="M225.4 436.7h2.2v3.7h-2.2zM468.4 436.7h2.2v3.7h-2.2zM495.4 436.7h2.2v3.7h-2.2zM549.4 436.7h2.2v3.7h-2.2zM414.4 444.6h2.2v3.7h-2.2zM296.1 464.5h22.8v3.2h-22.8zM458.1 464.5h22.8v3.2h-22.8zM566.1 464.5h22.8v3.2h-22.8zM255.6 468.4h22.8v3.2h-22.8zM252.4 468.2h2.2v3.7h-2.2zM309.6 468.4h22.8v3.2h-22.8zM417.6 468.4h22.8v3.2h-22.8zM444.6 468.4h22.8v3.2h-22.8zM498.6 468.4h22.8v3.2h-22.8zM242.1 472.4h22.8v3.2h-22.8zM431.1 472.4h22.8v3.2h-22.8zM485.1 472.4h22.8v3.2h-22.8zM228.6 484.1h22.8v3.2h-22.8zM444.6 484.1h22.8v3.2h-22.8zM471.6 484.1h22.8v3.2h-22.8zM495.4 483.9h2.2v3.7h-2.2zM242.1 488.1h22.8v3.2h-22.8zM350.1 488.1h22.8v3.2h-22.8zM485.1 488.1h22.8v3.2h-22.8zM566.1 488.1h22.8v3.2h-22.8zM417.6 492.0h22.8v3.2h-22.8zM471.6 492.0h22.8v3.2h-22.8zM255.6 499.9h22.8v3.2h-22.8zM498.6 507.7h22.8v3.2h-22.8zM336.6 539.2h22.8v3.2h-22.8zM211.9 542.9h2.2v3.7h-2.2zM292.9 542.9h2.2v3.7h-2.2zM319.9 542.9h2.2v3.7h-2.2zM373.9 542.9h2.2v3.7h-2.2zM535.9 542.9h2.2v3.7h-2.2zM225.4 546.8h2.2v3.7h-2.2zM252.4 546.8h2.2v3.7h-2.2zM279.4 546.8h2.2v3.7h-2.2zM306.4 546.8h2.2v3.7h-2.2zM495.4 546.8h2.2v3.7h-2.2zM522.4 546.8h2.2v3.7h-2.2zM292.9 550.7h2.2v3.7h-2.2zM400.9 550.7h2.2v3.7h-2.2zM427.9 550.7h2.2v3.7h-2.2zM333.4 554.6h2.2v3.7h-2.2zM414.4 554.6h2.2v3.7h-2.2zM549.4 554.6h2.2v3.7h-2.2zM238.9 558.6h2.2v3.7h-2.2zM292.9 558.6h2.2v3.7h-2.2zM400.9 558.6h2.2v3.7h-2.2zM481.9 558.6h2.2v3.7h-2.2zM252.4 586.1h2.2v3.7h-2.2zM279.4 586.1h2.2v3.7h-2.2zM495.4 586.1h2.2v3.7h-2.2zM346.9 590.0h2.2v3.7h-2.2zM427.9 590.0h2.2v3.7h-2.2zM225.4 593.9h2.2v3.7h-2.2zM387.4 593.9h2.2v3.7h-2.2zM427.9 605.7h2.2v3.7h-2.2zM454.9 605.7h2.2v3.7h-2.2zM252.4 609.7h2.2v3.7h-2.2zM333.4 609.7h2.2v3.7h-2.2zM387.4 609.7h2.2v3.7h-2.2zM441.4 609.7h2.2v3.7h-2.2zM549.4 609.7h2.2v3.7h-2.2zM265.9 613.6h2.2v3.7h-2.2zM454.9 613.6h2.2v3.7h-2.2zM225.4 617.5h2.2v3.7h-2.2zM333.4 617.5h2.2v3.7h-2.2zM441.4 617.5h2.2v3.7h-2.2zM414.4 633.2h2.2v3.7h-2.2zM468.4 633.2h2.2v3.7h-2.2zM495.4 633.2h2.2v3.7h-2.2zM373.9 637.2h2.2v3.7h-2.2zM481.9 637.2h2.2v3.7h-2.2zM444.6 641.4h22.8v3.2h-22.8zM363.6 657.1h22.8v3.2h-22.8zM552.6 657.1h22.8v3.2h-22.8zM215.1 661.0h22.8v3.2h-22.8zM539.1 661.0h22.8v3.2h-22.8zM566.1 661.0h22.8v3.2h-22.8z"/>
<path fill="#a2a29c" d="M252.4 436.7h2.2v3.7h-2.2zM279.4 436.7h2.2v3.7h-2.2zM414.4 436.7h2.2v3.7h-2.2zM319.9 440.7h2.2v3.7h-2.2zM346.9 440.7h2.2v3.7h-2.2zM427.9 440.7h2.2v3.7h-2.2zM454.9 440.7h2.2v3.7h-2.2zM481.9 440.7h2.2v3.7h-2.2zM508.9 440.7h2.2v3.7h-2.2zM535.9 440.7h2.2v3.7h-2.2zM562.9 440.7h2.2v3.7h-2.2zM252.4 444.6h2.2v3.7h-2.2zM306.4 444.6h2.2v3.7h-2.2zM333.4 444.6h2.2v3.7h-2.2zM360.4 444.6h2.2v3.7h-2.2zM387.4 444.6h2.2v3.7h-2.2zM441.4 444.6h2.2v3.7h-2.2zM468.4 444.6h2.2v3.7h-2.2zM495.4 444.6h2.2v3.7h-2.2zM404.1 448.8h22.8v3.2h-22.8zM431.1 456.6h22.8v3.2h-22.8zM215.1 464.5h22.8v3.2h-22.8zM377.1 464.5h22.8v3.2h-22.8zM539.1 464.5h22.8v3.2h-22.8zM336.6 468.4h22.8v3.2h-22.8zM215.1 472.4h22.8v3.2h-22.8zM350.1 472.4h22.8v3.2h-22.8zM282.6 484.1h22.8v3.2h-22.8zM363.6 484.1h22.8v3.2h-22.8zM390.6 484.1h22.8v3.2h-22.8zM215.1 488.1h22.8v3.2h-22.8zM238.9 487.8h2.2v3.7h-2.2zM508.9 487.8h2.2v3.7h-2.2zM228.6 492.0h22.8v3.2h-22.8zM525.6 492.0h22.8v3.2h-22.8zM525.6 531.3h22.8v3.2h-22.8zM363.6 539.2h22.8v3.2h-22.8zM525.6 539.2h22.8v3.2h-22.8zM238.9 542.9h2.2v3.7h-2.2zM400.9 542.9h2.2v3.7h-2.2zM427.9 542.9h2.2v3.7h-2.2zM454.9 542.9h2.2v3.7h-2.2zM481.9 542.9h2.2v3.7h-2.2zM508.9 542.9h2.2v3.7h-2.2zM333.4 546.8h2.2v3.7h-2.2zM414.4 546.8h2.2v3.7h-2.2zM211.9 550.7h2.2v3.7h-2.2zM265.9 550.7h2.2v3.7h-2.2zM319.9 550.7h2.2v3.7h-2.2zM508.9 550.7h2.2v3.7h-2.2zM535.9 550.7h2.2v3.7h-2.2zM252.4 554.6h2.2v3.7h-2.2zM279.4 554.6h2.2v3.7h-2.2zM306.4 554.6h2.2v3.7h-2.2zM360.4 554.6h2.2v3.7h-2.2zM441.4 554.6h2.2v3.7h-2.2zM468.4 554.6h2.2v3.7h-2.2zM522.4 554.6h2.2v3.7h-2.2zM265.9 558.6h2.2v3.7h-2.2zM319.9 558.6h2.2v3.7h-2.2zM333.4 586.1h2.2v3.7h-2.2zM441.4 586.1h2.2v3.7h-2.2zM211.9 590.0h2.2v3.7h-2.2zM454.9 590.0h2.2v3.7h-2.2zM508.9 590.0h2.2v3.7h-2.2zM562.9 590.0h2.2v3.7h-2.2zM522.4 593.9h2.2v3.7h-2.2zM211.9 605.7h2.2v3.7h-2.2zM238.9 605.7h2.2v3.7h-2.2zM319.9 605.7h2.2v3.7h-2.2zM346.9 605.7h2.2v3.7h-2.2zM373.9 605.7h2.2v3.7h-2.2zM400.9 605.7h2.2v3.7h-2.2zM508.9 605.7h2.2v3.7h-2.2zM562.9 605.7h2.2v3.7h-2.2zM279.4 609.7h2.2v3.7h-2.2zM306.4 609.7h2.2v3.7h-2.2zM414.4 609.7h2.2v3.7h-2.2zM495.4 609.7h2.2v3.7h-2.2zM211.9 613.6h2.2v3.7h-2.2zM373.9 613.6h2.2v3.7h-2.2zM400.9 613.6h2.2v3.7h-2.2zM427.9 613.6h2.2v3.7h-2.2zM481.9 613.6h2.2v3.7h-2.2zM508.9 613.6h2.2v3.7h-2.2zM535.9 613.6h2.2v3.7h-2.2zM252.4 617.5h2.2v3.7h-2.2zM360.4 617.5h2.2v3.7h-2.2zM387.4 617.5h2.2v3.7h-2.2zM306.4 633.2h2.2v3.7h-2.2zM360.4 633.2h2.2v3.7h-2.2zM522.4 633.2h2.2v3.7h-2.2zM549.4 633.2h2.2v3.7h-2.2zM292.9 637.2h2.2v3.7h-2.2zM319.9 637.2h2.2v3.7h-2.2zM346.9 637.2h2.2v3.7h-2.2zM454.9 637.2h2.2v3.7h-2.2zM508.9 637.2h2.2v3.7h-2.2zM535.9 637.2h2.2v3.7h-2.2zM417.6 641.4h22.8v3.2h-22.8zM471.6 641.4h22.8v3.2h-22.8zM282.6 657.1h22.8v3.2h-22.8zM549.4 656.8h2.2v3.7h-2.2zM296.1 661.0h22.8v3.2h-22.8zM512.1 661.0h22.8v3.2h-22.8z"/>
<path fill="#a8a8a2" d="M306.4 436.7h2.2v3.7h-2.2zM333.4 436.7h2.2v3.7h-2.2zM360.4 436.7h2.2v3.7h-2.2zM211.9 440.7h2.2v3.7h-2.2zM225.4 444.6h2.2v3.7h-2.2zM522.4 444.6h2.2v3.7h-2.2zM427.9 464.2h2.2v3.7h-2.2zM306.4 468.2h2.2v3.7h-2.2zM387.4 468.2h2.2v3.7h-2.2zM346.9 472.1h2.2v3.7h-2.2zM458.1 472.4h22.8v3.2h-22.8zM333.4 483.9h2.2v3.7h-2.2zM211.9 487.8h2.2v3.7h-2.2zM265.9 487.8h2.2v3.7h-2.2zM292.9 487.8h2.2v3.7h-2.2zM400.9 487.8h2.2v3.7h-2.2zM427.9 487.8h2.2v3.7h-2.2zM255.6 492.0h22.8v3.2h-22.8zM269.1 495.9h22.8v3.2h-22.8zM323.1 495.9h22.8v3.2h-22.8zM390.6 499.9h22.8v3.2h-22.8zM417.6 499.9h22.8v3.2h-22.8zM269.1 503.8h22.8v3.2h-22.8zM404.1 503.8h22.8v3.2h-22.8zM282.6 507.7h22.8v3.2h-22.8zM336.6 507.7h22.8v3.2h-22.8zM444.6 507.7h22.8v3.2h-22.8zM363.6 531.3h22.8v3.2h-22.8zM417.6 531.3h22.8v3.2h-22.8zM471.6 531.3h22.8v3.2h-22.8zM498.6 531.3h22.8v3.2h-22.8zM404.1 535.2h22.8v3.2h-22.8zM539.1 535.2h22.8v3.2h-22.8zM390.6 539.2h22.8v3.2h-22.8zM498.6 539.2h22.8v3.2h-22.8zM360.4 546.8h2.2v3.7h-2.2zM441.4 546.8h2.2v3.7h-2.2zM238.9 550.7h2.2v3.7h-2.2zM373.9 550.7h2.2v3.7h-2.2zM454.9 550.7h2.2v3.7h-2.2zM481.9 550.7h2.2v3.7h-2.2zM495.4 554.6h2.2v3.7h-2.2zM211.9 558.6h2.2v3.7h-2.2zM373.9 558.6h2.2v3.7h-2.2zM427.9 558.6h2.2v3.7h-2.2zM454.9 558.6h2.2v3.7h-2.2zM508.9 558.6h2.2v3.7h-2.2zM225.4 586.1h2.2v3.7h-2.2zM306.4 586.1h2.2v3.7h-2.2zM522.4 586.1h2.2v3.7h-2.2zM265.9 590.0h2.2v3.7h-2.2zM373.9 590.0h2.2v3.7h-2.2zM400.9 590.0h2.2v3.7h-2.2zM481.9 590.0h2.2v3.7h-2.2zM549.4 593.9h2.2v3.7h-2.2zM535.9 605.7h2.2v3.7h-2.2zM360.4 609.7h2.2v3.7h-2.2zM292.9 613.6h2.2v3.7h-2.2zM562.9 613.6h2.2v3.7h-2.2zM279.4 617.5h2.2v3.7h-2.2zM306.4 617.5h2.2v3.7h-2.2zM468.4 617.5h2.2v3.7h-2.2zM522.4 617.5h2.2v3.7h-2.2zM549.4 617.5h2.2v3.7h-2.2zM377.1 621.7h22.8v3.2h-22.8zM512.1 621.7h22.8v3.2h-22.8zM252.4 633.2h2.2v3.7h-2.2zM279.4 633.2h2.2v3.7h-2.2zM441.4 633.2h2.2v3.7h-2.2zM238.9 637.2h2.2v3.7h-2.2zM427.9 637.2h2.2v3.7h-2.2zM363.6 641.4h22.8v3.2h-22.8zM269.1 661.0h22.8v3.2h-22.8zM292.9 660.8h2.2v3.7h-2.2zM350.1 661.0h22.8v3.2h-22.8zM458.1 661.0h22.8v3.2h-22.8z"/>
<path fill="#aeaea8" d="M215.1 433.1h22.8v3.2h-22.8zM269.1 433.1h22.8v3.2h-22.8zM387.4 436.7h2.2v3.7h-2.2zM238.9 440.7h2.2v3.7h-2.2zM265.9 440.7h2.2v3.7h-2.2zM292.9 440.7h2.2v3.7h-2.2zM400.9 440.7h2.2v3.7h-2.2zM549.4 444.6h2.2v3.7h-2.2zM255.6 460.6h22.8v3.2h-22.8zM282.6 460.6h22.8v3.2h-22.8zM211.9 464.2h2.2v3.7h-2.2zM400.9 464.2h2.2v3.7h-2.2zM454.9 464.2h2.2v3.7h-2.2zM535.9 464.2h2.2v3.7h-2.2zM225.4 468.2h2.2v3.7h-2.2zM265.9 472.1h2.2v3.7h-2.2zM427.9 472.1h2.2v3.7h-2.2zM454.9 472.1h2.2v3.7h-2.2zM481.9 472.1h2.2v3.7h-2.2zM508.9 472.1h2.2v3.7h-2.2zM562.9 472.1h2.2v3.7h-2.2zM225.4 483.9h2.2v3.7h-2.2zM360.4 483.9h2.2v3.7h-2.2zM417.6 484.1h22.8v3.2h-22.8zM441.4 483.9h2.2v3.7h-2.2zM522.4 483.9h2.2v3.7h-2.2zM549.4 483.9h2.2v3.7h-2.2zM373.9 487.8h2.2v3.7h-2.2zM562.9 487.8h2.2v3.7h-2.2zM225.4 491.8h2.2v3.7h-2.2zM252.4 491.8h2.2v3.7h-2.2zM306.4 491.8h2.2v3.7h-2.2zM336.6 492.0h22.8v3.2h-22.8zM360.4 491.8h2.2v3.7h-2.2zM387.4 491.8h2.2v3.7h-2.2zM522.4 491.8h2.2v3.7h-2.2zM404.1 495.9h22.8v3.2h-22.8zM296.1 503.8h22.8v3.2h-22.8zM377.1 503.8h22.8v3.2h-22.8zM485.1 503.8h22.8v3.2h-22.8zM512.1 503.8h22.8v3.2h-22.8zM539.1 503.8h22.8v3.2h-22.8zM228.6 507.7h22.8v3.2h-22.8zM387.4 507.5h2.2v3.7h-2.2zM417.6 507.7h22.8v3.2h-22.8zM525.6 507.7h22.8v3.2h-22.8zM417.6 515.6h22.8v3.2h-22.8zM282.6 531.3h22.8v3.2h-22.8zM444.6 531.3h22.8v3.2h-22.8zM549.4 531.1h2.2v3.7h-2.2zM296.1 535.2h22.8v3.2h-22.8zM350.1 535.2h22.8v3.2h-22.8zM427.9 535.0h2.2v3.7h-2.2zM309.6 539.2h22.8v3.2h-22.8zM265.9 542.9h2.2v3.7h-2.2zM387.4 586.1h2.2v3.7h-2.2zM414.4 586.1h2.2v3.7h-2.2zM549.4 586.1h2.2v3.7h-2.2zM238.9 590.0h2.2v3.7h-2.2zM319.9 590.0h2.2v3.7h-2.2zM535.9 590.0h2.2v3.7h-2.2zM279.4 593.9h2.2v3.7h-2.2zM306.4 593.9h2.2v3.7h-2.2zM333.4 593.9h2.2v3.7h-2.2zM360.4 593.9h2.2v3.7h-2.2zM441.4 593.9h2.2v3.7h-2.2zM468.4 593.9h2.2v3.7h-2.2zM495.4 593.9h2.2v3.7h-2.2zM468.4 609.7h2.2v3.7h-2.2zM319.9 613.6h2.2v3.7h-2.2zM414.4 617.5h2.2v3.7h-2.2zM215.1 621.7h22.8v3.2h-22.8zM238.9 621.5h2.2v3.7h-2.2zM350.1 621.7h22.8v3.2h-22.8zM566.1 621.7h22.8v3.2h-22.8zM225.4 633.2h2.2v3.7h-2.2zM333.4 633.2h2.2v3.7h-2.2zM265.9 637.2h2.2v3.7h-2.2zM562.9 637.2h2.2v3.7h-2.2zM228.6 641.4h22.8v3.2h-22.8zM255.6 641.4h22.8v3.2h-22.8zM279.4 641.1h2.2v3.7h-2.2zM309.6 641.4h22.8v3.2h-22.8zM390.6 641.4h22.8v3.2h-22.8zM387.4 641.1h2.2v3.7h-2.2zM525.6 641.4h22.8v3.2h-22.8zM225.4 656.8h2.2v3.7h-2.2zM468.4 656.8h2.2v3.7h-2.2zM495.4 656.8h2.2v3.7h-2.2zM211.9 660.8h2.2v3.7h-2.2zM242.1 661.0h22.8v3.2h-22.8zM238.9 660.8h2.2v3.7h-2.2zM373.9 660.8h2.2v3.7h-2.2zM485.1 661.0h22.8v3.2h-22.8z"/>
<path fill="#b4b4ae" d="M471.6 429.1h22.8v3.2h-22.8zM296.1 433.1h22.8v3.2h-22.8zM431.1 433.1h22.8v3.2h-22.8zM512.1 433.1h22.8v3.2h-22.8zM566.1 433.1h22.8v3.2h-22.8zM373.9 440.7h2.2v3.7h-2.2zM323.1 448.8h22.8v3.2h-22.8zM350.1 448.8h22.8v3.2h-22.8zM539.1 448.8h22.8v3.2h-22.8zM252.4 452.5h2.2v3.7h-2.2zM390.6 452.7h22.8v3.2h-22.8zM566.1 456.6h22.8v3.2h-22.8zM444.6 460.6h22.8v3.2h-22.8zM238.9 464.2h2.2v3.7h-2.2zM292.9 464.2h2.2v3.7h-2.2zM319.9 464.2h2.2v3.7h-2.2zM346.9 464.2h2.2v3.7h-2.2zM481.9 464.2h2.2v3.7h-2.2zM279.4 468.2h2.2v3.7h-2.2zM360.4 468.2h2.2v3.7h-2.2zM414.4 468.2h2.2v3.7h-2.2zM468.4 468.2h2.2v3.7h-2.2zM522.4 468.2h2.2v3.7h-2.2zM549.4 468.2h2.2v3.7h-2.2zM211.9 472.1h2.2v3.7h-2.2zM238.9 472.1h2.2v3.7h-2.2zM292.9 472.1h2.2v3.7h-2.2zM373.9 472.1h2.2v3.7h-2.2zM400.9 472.1h2.2v3.7h-2.2zM535.9 472.1h2.2v3.7h-2.2zM279.4 483.9h2.2v3.7h-2.2zM387.4 483.9h2.2v3.7h-2.2zM319.9 487.8h2.2v3.7h-2.2zM346.9 487.8h2.2v3.7h-2.2zM333.4 491.8h2.2v3.7h-2.2zM468.4 491.8h2.2v3.7h-2.2zM549.4 491.8h2.2v3.7h-2.2zM319.9 495.7h2.2v3.7h-2.2zM485.1 495.9h22.8v3.2h-22.8zM512.1 495.9h22.8v3.2h-22.8zM566.1 495.9h22.8v3.2h-22.8zM228.6 499.9h22.8v3.2h-22.8zM336.6 499.9h22.8v3.2h-22.8zM444.6 499.9h22.8v3.2h-22.8zM525.6 499.9h22.8v3.2h-22.8zM215.1 503.8h22.8v3.2h-22.8zM458.1 503.8h22.8v3.2h-22.8zM566.1 503.8h22.8v3.2h-22.8zM390.6 507.7h22.8v3.2h-22.8zM269.1 511.7h22.8v3.2h-22.8zM444.6 515.6h22.8v3.2h-22.8zM228.6 531.3h22.8v3.2h-22.8zM255.6 531.3h22.8v3.2h-22.8zM309.6 531.3h22.8v3.2h-22.8zM215.1 535.2h22.8v3.2h-22.8zM242.1 535.2h22.8v3.2h-22.8zM269.1 535.2h22.8v3.2h-22.8zM265.9 535.0h2.2v3.7h-2.2zM319.9 535.0h2.2v3.7h-2.2zM346.9 535.0h2.2v3.7h-2.2zM377.1 535.2h22.8v3.2h-22.8zM228.6 539.2h22.8v3.2h-22.8zM255.6 539.2h22.8v3.2h-22.8zM471.6 539.2h22.8v3.2h-22.8zM360.4 586.1h2.2v3.7h-2.2zM468.4 586.1h2.2v3.7h-2.2zM238.9 613.6h2.2v3.7h-2.2zM242.1 621.7h22.8v3.2h-22.8zM265.9 621.5h2.2v3.7h-2.2zM296.1 621.7h22.8v3.2h-22.8zM323.1 621.7h22.8v3.2h-22.8zM404.1 621.7h22.8v3.2h-22.8zM400.9 621.5h2.2v3.7h-2.2zM431.1 621.7h22.8v3.2h-22.8zM458.1 621.7h22.8v3.2h-22.8zM454.9 621.5h2.2v3.7h-2.2zM485.1 621.7h22.8v3.2h-22.8zM282.6 641.4h22.8v3.2h-22.8zM360.4 641.1h2.2v3.7h-2.2zM377.1 645.3h22.8v3.2h-22.8zM387.4 656.8h2.2v3.7h-2.2zM522.4 656.8h2.2v3.7h-2.2zM323.1 661.0h22.8v3.2h-22.8zM319.9 660.8h2.2v3.7h-2.2zM404.1 661.0h22.8v3.2h-22.8zM427.9 660.8h2.2v3.7h-2.2zM454.9 660.8h2.2v3.7h-2.2z"/>
<path fill="#babab4" d="M350.1 409.5h22.8v3.2h-22.8zM390.6 413.4h22.8v3.2h-22.8zM485.1 417.3h22.8v3.2h-22.8zM252.4 421.0h2.2v3.7h-2.2zM552.6 421.3h22.8v3.2h-22.8zM242.1 425.2h22.8v3.2h-22.8zM350.1 433.1h22.8v3.2h-22.8zM377.1 433.1h22.8v3.2h-22.8zM404.1 433.1h22.8v3.2h-22.8zM458.1 433.1h22.8v3.2h-22.8zM454.9 432.8h2.2v3.7h-2.2zM481.9 432.8h2.2v3.7h-2.2zM265.9 448.5h2.2v3.7h-2.2zM454.9 448.5h2.2v3.7h-2.2zM562.9 448.5h2.2v3.7h-2.2zM309.6 452.7h22.8v3.2h-22.8zM417.6 452.7h22.8v3.2h-22.8zM296.1 456.6h22.8v3.2h-22.8zM319.9 456.4h2.2v3.7h-2.2zM458.1 456.6h22.8v3.2h-22.8zM481.9 456.4h2.2v3.7h-2.2zM512.1 456.6h22.8v3.2h-22.8zM535.9 456.4h2.2v3.7h-2.2zM228.6 460.6h22.8v3.2h-22.8zM373.9 464.2h2.2v3.7h-2.2zM562.9 464.2h2.2v3.7h-2.2zM319.9 472.1h2.2v3.7h-2.2zM336.6 476.3h22.8v3.2h-22.8zM323.1 480.2h22.8v3.2h-22.8zM468.4 483.9h2.2v3.7h-2.2zM454.9 487.8h2.2v3.7h-2.2zM481.9 487.8h2.2v3.7h-2.2zM279.4 491.8h2.2v3.7h-2.2zM414.4 491.8h2.2v3.7h-2.2zM441.4 491.8h2.2v3.7h-2.2zM495.4 491.8h2.2v3.7h-2.2zM215.1 495.9h22.8v3.2h-22.8zM296.1 495.9h22.8v3.2h-22.8zM292.9 495.7h2.2v3.7h-2.2zM431.1 495.9h22.8v3.2h-22.8zM539.1 495.9h22.8v3.2h-22.8zM535.9 495.7h2.2v3.7h-2.2zM562.9 495.7h2.2v3.7h-2.2zM282.6 499.9h22.8v3.2h-22.8zM333.4 499.6h2.2v3.7h-2.2zM441.4 499.6h2.2v3.7h-2.2zM498.6 499.9h22.8v3.2h-22.8zM350.1 503.8h22.8v3.2h-22.8zM431.1 503.8h22.8v3.2h-22.8zM454.9 503.6h2.2v3.7h-2.2zM363.6 507.7h22.8v3.2h-22.8zM414.4 507.5h2.2v3.7h-2.2zM471.6 507.7h22.8v3.2h-22.8zM562.9 511.4h2.2v3.7h-2.2zM255.6 523.5h22.8v3.2h-22.8zM417.6 523.5h22.8v3.2h-22.8zM350.1 527.4h22.8v3.2h-22.8zM377.1 527.4h22.8v3.2h-22.8zM336.6 531.3h22.8v3.2h-22.8zM333.4 531.1h2.2v3.7h-2.2zM387.4 531.1h2.2v3.7h-2.2zM414.4 531.1h2.2v3.7h-2.2zM441.4 531.1h2.2v3.7h-2.2zM552.6 531.3h22.8v3.2h-22.8zM373.9 535.0h2.2v3.7h-2.2zM454.9 535.0h2.2v3.7h-2.2zM485.1 535.2h22.8v3.2h-22.8zM566.1 535.2h22.8v3.2h-22.8zM562.9 535.0h2.2v3.7h-2.2zM282.6 539.2h22.8v3.2h-22.8zM333.4 538.9h2.2v3.7h-2.2zM387.4 538.9h2.2v3.7h-2.2zM417.6 539.2h22.8v3.2h-22.8zM441.4 538.9h2.2v3.7h-2.2zM522.4 538.9h2.2v3.7h-2.2zM552.6 539.2h22.8v3.2h-22.8zM390.6 562.8h22.8v3.2h-22.8zM333.4 570.4h2.2v3.7h-2.2zM215.1 574.5h22.8v3.2h-22.8zM485.1 574.5h22.8v3.2h-22.8zM417.6 578.5h22.8v3.2h-22.8zM444.6 578.5h22.8v3.2h-22.8zM255.6 602.1h22.8v3.2h-22.8zM525.6 602.1h22.8v3.2h-22.8zM211.9 621.5h2.2v3.7h-2.2zM292.9 621.5h2.2v3.7h-2.2zM346.9 621.5h2.2v3.7h-2.2zM539.1 621.7h22.8v3.2h-22.8zM535.9 621.5h2.2v3.7h-2.2zM562.9 621.5h2.2v3.7h-2.2zM458.1 629.6h22.8v3.2h-22.8zM539.1 629.6h22.8v3.2h-22.8zM225.4 641.1h2.2v3.7h-2.2zM333.4 641.1h2.2v3.7h-2.2zM441.4 641.1h2.2v3.7h-2.2zM549.4 641.1h2.2v3.7h-2.2zM238.9 652.9h2.2v3.7h-2.2zM539.1 653.1h22.8v3.2h-22.8zM252.4 656.8h2.2v3.7h-2.2zM279.4 656.8h2.2v3.7h-2.2zM306.4 656.8h2.2v3.7h-2.2zM360.4 656.8h2.2v3.7h-2.2zM441.4 656.8h2.2v3.7h-2.2zM265.9 660.8h2.2v3.7h-2.2zM481.9 660.8h2.2v3.7h-2.2zM508.9 660.8h2.2v3.7h-2.2z"/>
<path fill="#c0c0ba" d="M323.1 401.6h22.8v3.2h-22.8zM333.4 405.3h2.2v3.7h-2.2zM525.6 405.6h22.8v3.2h-22.8zM296.1 409.5h22.8v3.2h-22.8zM525.6 413.4h22.8v3.2h-22.8zM255.6 421.3h22.8v3.2h-22.8zM346.9 424.9h2.2v3.7h-2.2zM377.1 425.2h22.8v3.2h-22.8zM404.1 425.2h22.8v3.2h-22.8zM444.6 429.1h22.8v3.2h-22.8zM265.9 432.8h2.2v3.7h-2.2zM319.9 432.8h2.2v3.7h-2.2zM346.9 432.8h2.2v3.7h-2.2zM373.9 432.8h2.2v3.7h-2.2zM427.9 432.8h2.2v3.7h-2.2zM508.9 432.8h2.2v3.7h-2.2zM535.9 432.8h2.2v3.7h-2.2zM211.9 448.5h2.2v3.7h-2.2zM238.9 448.5h2.2v3.7h-2.2zM319.9 448.5h2.2v3.7h-2.2zM346.9 448.5h2.2v3.7h-2.2zM485.1 448.8h22.8v3.2h-22.8zM508.9 448.5h2.2v3.7h-2.2zM566.1 448.8h22.8v3.2h-22.8zM279.4 452.5h2.2v3.7h-2.2zM363.6 452.7h22.8v3.2h-22.8zM414.4 452.5h2.2v3.7h-2.2zM444.6 452.7h22.8v3.2h-22.8zM471.6 452.7h22.8v3.2h-22.8zM498.6 452.7h22.8v3.2h-22.8zM525.6 452.7h22.8v3.2h-22.8zM522.4 452.5h2.2v3.7h-2.2zM552.6 452.7h22.8v3.2h-22.8zM215.1 456.6h22.8v3.2h-22.8zM242.1 456.6h22.8v3.2h-22.8zM323.1 456.6h22.8v3.2h-22.8zM346.9 456.4h2.2v3.7h-2.2zM404.1 456.6h22.8v3.2h-22.8zM252.4 460.3h2.2v3.7h-2.2zM336.6 460.6h22.8v3.2h-22.8zM549.4 460.3h2.2v3.7h-2.2zM508.9 464.2h2.2v3.7h-2.2zM441.4 468.2h2.2v3.7h-2.2zM495.4 468.2h2.2v3.7h-2.2zM498.6 476.3h22.8v3.2h-22.8zM306.4 483.9h2.2v3.7h-2.2zM414.4 483.9h2.2v3.7h-2.2zM535.9 487.8h2.2v3.7h-2.2zM242.1 495.9h22.8v3.2h-22.8zM350.1 495.9h22.8v3.2h-22.8zM346.9 495.7h2.2v3.7h-2.2zM373.9 495.7h2.2v3.7h-2.2zM427.9 495.7h2.2v3.7h-2.2zM458.1 495.9h22.8v3.2h-22.8zM508.9 495.7h2.2v3.7h-2.2zM279.4 499.6h2.2v3.7h-2.2zM309.6 499.9h22.8v3.2h-22.8zM363.6 499.9h22.8v3.2h-22.8zM387.4 499.6h2.2v3.7h-2.2zM552.6 499.9h22.8v3.2h-22.8zM238.9 503.6h2.2v3.7h-2.2zM323.1 503.8h22.8v3.2h-22.8zM535.9 503.6h2.2v3.7h-2.2zM255.6 507.7h22.8v3.2h-22.8zM252.4 507.5h2.2v3.7h-2.2zM306.4 507.5h2.2v3.7h-2.2zM360.4 507.5h2.2v3.7h-2.2zM495.4 507.5h2.2v3.7h-2.2zM346.9 511.4h2.2v3.7h-2.2zM377.1 511.7h22.8v3.2h-22.8zM485.1 511.7h22.8v3.2h-22.8zM255.6 515.6h22.8v3.2h-22.8zM471.6 515.6h22.8v3.2h-22.8zM269.1 519.5h22.8v3.2h-22.8zM319.9 519.3h2.2v3.7h-2.2zM481.9 519.3h2.2v3.7h-2.2zM282.6 523.5h22.8v3.2h-22.8zM296.1 527.4h22.8v3.2h-22.8zM252.4 531.1h2.2v3.7h-2.2zM360.4 531.1h2.2v3.7h-2.2zM390.6 531.3h22.8v3.2h-22.8zM495.4 531.1h2.2v3.7h-2.2zM522.4 531.1h2.2v3.7h-2.2zM211.9 535.0h2.2v3.7h-2.2zM238.9 535.0h2.2v3.7h-2.2zM323.1 535.2h22.8v3.2h-22.8zM512.1 535.2h22.8v3.2h-22.8zM508.9 535.0h2.2v3.7h-2.2zM535.9 535.0h2.2v3.7h-2.2zM225.4 538.9h2.2v3.7h-2.2zM252.4 538.9h2.2v3.7h-2.2zM306.4 538.9h2.2v3.7h-2.2zM444.6 539.2h22.8v3.2h-22.8zM495.4 538.9h2.2v3.7h-2.2zM549.4 538.9h2.2v3.7h-2.2zM306.4 562.5h2.2v3.7h-2.2zM444.6 562.8h22.8v3.2h-22.8zM441.4 562.5h2.2v3.7h-2.2zM265.9 566.4h2.2v3.7h-2.2zM539.1 566.7h22.8v3.2h-22.8zM562.9 566.4h2.2v3.7h-2.2zM471.6 570.6h22.8v3.2h-22.8zM468.4 570.4h2.2v3.7h-2.2zM377.1 574.5h22.8v3.2h-22.8zM512.1 574.5h22.8v3.2h-22.8zM508.9 574.3h2.2v3.7h-2.2zM282.6 578.5h22.8v3.2h-22.8zM336.6 578.5h22.8v3.2h-22.8zM269.1 582.4h22.8v3.2h-22.8zM323.1 582.4h22.8v3.2h-22.8zM431.1 598.1h22.8v3.2h-22.8zM282.6 602.1h22.8v3.2h-22.8zM319.9 621.5h2.2v3.7h-2.2zM481.9 621.5h2.2v3.7h-2.2zM346.9 629.3h2.2v3.7h-2.2zM431.1 629.6h22.8v3.2h-22.8zM306.4 641.1h2.2v3.7h-2.2zM414.4 641.1h2.2v3.7h-2.2zM498.6 641.4h22.8v3.2h-22.8zM292.9 645.0h2.2v3.7h-2.2zM336.6 649.2h22.8v3.2h-22.8zM417.6 649.2h22.8v3.2h-22.8zM522.4 649.0h2.2v3.7h-2.2zM211.9 652.9h2.2v3.7h-2.2zM296.1 653.1h22.8v3.2h-22.8zM414.4 656.8h2.2v3.7h-2.2zM346.9 660.8h2.2v3.7h-2.2zM535.9 660.8h2.2v3.7h-2.2zM562.9 660.8h2.2v3.7h-2.2z"/>
<path fill="#c6c6c0" d="M458.1 401.6h22.8v3.2h-22.8zM566.1 401.6h22.8v3.2h-22.8zM309.6 405.6h22.8v3.2h-22.8zM414.4 405.3h2.2v3.7h-2.2zM498.6 405.6h22.8v3.2h-22.8zM522.4 405.3h2.2v3.7h-2.2zM292.9 409.2h2.2v3.7h-2.2zM377.1 409.5h22.8v3.2h-22.8zM431.1 409.5h22.8v3.2h-22.8zM458.1 409.5h22.8v3.2h-22.8zM485.1 409.5h22.8v3.2h-22.8zM566.1 409.5h22.8v3.2h-22.8zM282.6 413.4h22.8v3.2h-22.8zM306.4 413.2h2.2v3.7h-2.2zM387.4 413.2h2.2v3.7h-2.2zM417.6 413.4h22.8v3.2h-22.8zM471.6 413.4h22.8v3.2h-22.8zM377.1 417.3h22.8v3.2h-22.8zM400.9 417.1h2.2v3.7h-2.2zM306.4 421.0h2.2v3.7h-2.2zM363.6 421.3h22.8v3.2h-22.8zM468.4 421.0h2.2v3.7h-2.2zM525.6 421.3h22.8v3.2h-22.8zM323.1 425.2h22.8v3.2h-22.8zM350.1 425.2h22.8v3.2h-22.8zM539.1 425.2h22.8v3.2h-22.8zM566.1 425.2h22.8v3.2h-22.8zM255.6 429.1h22.8v3.2h-22.8zM363.6 429.1h22.8v3.2h-22.8zM417.6 429.1h22.8v3.2h-22.8zM525.6 429.1h22.8v3.2h-22.8zM242.1 433.1h22.8v3.2h-22.8zM238.9 432.8h2.2v3.7h-2.2zM292.9 432.8h2.2v3.7h-2.2zM539.1 433.1h22.8v3.2h-22.8zM377.1 448.8h22.8v3.2h-22.8zM373.9 448.5h2.2v3.7h-2.2zM400.9 448.5h2.2v3.7h-2.2zM431.1 448.8h22.8v3.2h-22.8zM481.9 448.5h2.2v3.7h-2.2zM512.1 448.8h22.8v3.2h-22.8zM535.9 448.5h2.2v3.7h-2.2zM228.6 452.7h22.8v3.2h-22.8zM225.4 452.5h2.2v3.7h-2.2zM255.6 452.7h22.8v3.2h-22.8zM282.6 452.7h22.8v3.2h-22.8zM387.4 452.5h2.2v3.7h-2.2zM269.1 456.6h22.8v3.2h-22.8zM350.1 456.6h22.8v3.2h-22.8zM539.1 456.6h22.8v3.2h-22.8zM363.6 460.6h22.8v3.2h-22.8zM360.4 460.3h2.2v3.7h-2.2zM390.6 460.6h22.8v3.2h-22.8zM414.4 460.3h2.2v3.7h-2.2zM498.6 460.6h22.8v3.2h-22.8zM495.4 460.3h2.2v3.7h-2.2zM265.9 464.2h2.2v3.7h-2.2zM333.4 468.2h2.2v3.7h-2.2zM309.6 476.3h22.8v3.2h-22.8zM363.6 476.3h22.8v3.2h-22.8zM444.6 476.3h22.8v3.2h-22.8zM238.9 480.0h2.2v3.7h-2.2zM296.1 480.2h22.8v3.2h-22.8zM350.1 480.2h22.8v3.2h-22.8zM404.1 480.2h22.8v3.2h-22.8zM454.9 480.0h2.2v3.7h-2.2zM512.1 480.2h22.8v3.2h-22.8zM508.9 480.0h2.2v3.7h-2.2zM535.9 480.0h2.2v3.7h-2.2zM252.4 483.9h2.2v3.7h-2.2zM238.9 495.7h2.2v3.7h-2.2zM400.9 495.7h2.2v3.7h-2.2zM225.4 499.6h2.2v3.7h-2.2zM252.4 499.6h2.2v3.7h-2.2zM306.4 499.6h2.2v3.7h-2.2zM471.6 499.9h22.8v3.2h-22.8zM468.4 499.6h2.2v3.7h-2.2zM495.4 499.6h2.2v3.7h-2.2zM522.4 499.6h2.2v3.7h-2.2zM549.4 499.6h2.2v3.7h-2.2zM211.9 503.6h2.2v3.7h-2.2zM265.9 503.6h2.2v3.7h-2.2zM319.9 503.6h2.2v3.7h-2.2zM373.9 503.6h2.2v3.7h-2.2zM508.9 503.6h2.2v3.7h-2.2zM225.4 507.5h2.2v3.7h-2.2zM441.4 507.5h2.2v3.7h-2.2zM552.6 507.7h22.8v3.2h-22.8zM549.4 507.5h2.2v3.7h-2.2zM242.1 511.7h22.8v3.2h-22.8zM400.9 511.4h2.2v3.7h-2.2zM427.9 511.4h2.2v3.7h-2.2zM306.4 515.3h2.2v3.7h-2.2zM363.6 515.6h22.8v3.2h-22.8zM390.6 515.6h22.8v3.2h-22.8zM441.4 515.3h2.2v3.7h-2.2zM525.6 515.6h22.8v3.2h-22.8zM522.4 515.3h2.2v3.7h-2.2zM400.9 519.3h2.2v3.7h-2.2zM228.6 523.5h22.8v3.2h-22.8zM390.6 523.5h22.8v3.2h-22.8zM522.4 523.2h2.2v3.7h-2.2zM373.9 527.1h2.2v3.7h-2.2zM485.1 527.4h22.8v3.2h-22.8zM481.9 527.1h2.2v3.7h-2.2zM512.1 527.4h22.8v3.2h-22.8zM566.1 527.4h22.8v3.2h-22.8zM225.4 531.1h2.2v3.7h-2.2zM306.4 531.1h2.2v3.7h-2.2zM468.4 531.1h2.2v3.7h-2.2zM292.9 535.0h2.2v3.7h-2.2zM400.9 535.0h2.2v3.7h-2.2zM458.1 535.2h22.8v3.2h-22.8zM481.9 535.0h2.2v3.7h-2.2zM279.4 538.9h2.2v3.7h-2.2zM360.4 538.9h2.2v3.7h-2.2zM414.4 538.9h2.2v3.7h-2.2zM252.4 562.5h2.2v3.7h-2.2zM336.6 562.8h22.8v3.2h-22.8zM377.1 566.7h22.8v3.2h-22.8zM228.6 570.6h22.8v3.2h-22.8zM255.6 570.6h22.8v3.2h-22.8zM279.4 570.4h2.2v3.7h-2.2zM441.4 570.4h2.2v3.7h-2.2zM549.4 570.4h2.2v3.7h-2.2zM373.9 574.3h2.2v3.7h-2.2zM431.1 574.5h22.8v3.2h-22.8zM427.9 574.3h2.2v3.7h-2.2zM566.1 574.5h22.8v3.2h-22.8zM471.6 578.5h22.8v3.2h-22.8zM498.6 578.5h22.8v3.2h-22.8zM296.1 582.4h22.8v3.2h-22.8zM427.9 582.1h2.2v3.7h-2.2zM323.1 598.1h22.8v3.2h-22.8zM377.1 598.1h22.8v3.2h-22.8zM427.9 597.9h2.2v3.7h-2.2zM508.9 597.9h2.2v3.7h-2.2zM566.1 598.1h22.8v3.2h-22.8zM306.4 601.8h2.2v3.7h-2.2zM417.6 602.1h22.8v3.2h-22.8zM468.4 601.8h2.2v3.7h-2.2zM495.4 601.8h2.2v3.7h-2.2zM373.9 621.5h2.2v3.7h-2.2zM508.9 621.5h2.2v3.7h-2.2zM309.6 625.6h22.8v3.2h-22.8zM336.6 625.6h22.8v3.2h-22.8zM417.6 625.6h22.8v3.2h-22.8zM215.1 629.6h22.8v3.2h-22.8zM265.9 629.3h2.2v3.7h-2.2zM296.1 629.6h22.8v3.2h-22.8zM319.9 629.3h2.2v3.7h-2.2zM508.9 629.3h2.2v3.7h-2.2zM535.9 629.3h2.2v3.7h-2.2zM252.4 641.1h2.2v3.7h-2.2zM336.6 641.4h22.8v3.2h-22.8zM468.4 641.1h2.2v3.7h-2.2zM522.4 641.1h2.2v3.7h-2.2zM552.6 641.4h22.8v3.2h-22.8zM238.9 645.0h2.2v3.7h-2.2zM431.1 645.3h22.8v3.2h-22.8zM427.9 645.0h2.2v3.7h-2.2zM508.9 645.0h2.2v3.7h-2.2zM535.9 645.0h2.2v3.7h-2.2zM228.6 649.2h22.8v3.2h-22.8zM225.4 649.0h2.2v3.7h-2.2zM282.6 649.2h22.8v3.2h-22.8zM414.4 649.0h2.2v3.7h-2.2zM444.6 649.2h22.8v3.2h-22.8zM525.6 649.2h22.8v3.2h-22.8zM552.6 649.2h22.8v3.2h-22.8zM549.4 649.0h2.2v3.7h-2.2zM292.9 652.9h2.2v3.7h-2.2zM319.9 652.9h2.2v3.7h-2.2zM373.9 652.9h2.2v3.7h-2.2zM427.9 652.9h2.2v3.7h-2.2zM566.1 653.1h22.8v3.2h-22.8zM333.4 656.8h2.2v3.7h-2.2zM400.9 660.8h2.2v3.7h-2.2z"/>
<path fill="#ccccc6" d="M265.9 401.4h2.2v3.7h-2.2zM377.1 401.6h22.8v3.2h-22.8zM481.9 401.4h2.2v3.7h-2.2zM512.1 401.6h22.8v3.2h-22.8zM562.9 401.4h2.2v3.7h-2.2zM225.4 405.3h2.2v3.7h-2.2zM252.4 405.3h2.2v3.7h-2.2zM363.6 405.6h22.8v3.2h-22.8zM417.6 405.6h22.8v3.2h-22.8zM269.1 409.5h22.8v3.2h-22.8zM319.9 409.2h2.2v3.7h-2.2zM400.9 409.2h2.2v3.7h-2.2zM255.6 413.4h22.8v3.2h-22.8zM444.6 413.4h22.8v3.2h-22.8zM468.4 413.2h2.2v3.7h-2.2zM498.6 413.4h22.8v3.2h-22.8zM238.9 417.1h2.2v3.7h-2.2zM265.9 417.1h2.2v3.7h-2.2zM296.1 417.3h22.8v3.2h-22.8zM346.9 417.1h2.2v3.7h-2.2zM481.9 417.1h2.2v3.7h-2.2zM512.1 417.3h22.8v3.2h-22.8zM535.9 417.1h2.2v3.7h-2.2zM566.1 417.3h22.8v3.2h-22.8zM225.4 421.0h2.2v3.7h-2.2zM333.4 421.0h2.2v3.7h-2.2zM414.4 421.0h2.2v3.7h-2.2zM471.6 421.3h22.8v3.2h-22.8zM549.4 421.0h2.2v3.7h-2.2zM238.9 424.9h2.2v3.7h-2.2zM296.1 425.2h22.8v3.2h-22.8zM535.9 424.9h2.2v3.7h-2.2zM225.4 428.9h2.2v3.7h-2.2zM252.4 428.9h2.2v3.7h-2.2zM309.6 429.1h22.8v3.2h-22.8zM306.4 428.9h2.2v3.7h-2.2zM336.6 429.1h22.8v3.2h-22.8zM360.4 428.9h2.2v3.7h-2.2zM468.4 428.9h2.2v3.7h-2.2zM495.4 428.9h2.2v3.7h-2.2zM549.4 428.9h2.2v3.7h-2.2zM323.1 433.1h22.8v3.2h-22.8zM400.9 432.8h2.2v3.7h-2.2zM485.1 433.1h22.8v3.2h-22.8zM296.1 448.8h22.8v3.2h-22.8zM292.9 448.5h2.2v3.7h-2.2zM427.9 448.5h2.2v3.7h-2.2zM306.4 452.5h2.2v3.7h-2.2zM333.4 452.5h2.2v3.7h-2.2zM468.4 452.5h2.2v3.7h-2.2zM265.9 456.4h2.2v3.7h-2.2zM400.9 456.4h2.2v3.7h-2.2zM454.9 456.4h2.2v3.7h-2.2zM508.9 456.4h2.2v3.7h-2.2zM225.4 460.3h2.2v3.7h-2.2zM279.4 460.3h2.2v3.7h-2.2zM309.6 460.6h22.8v3.2h-22.8zM306.4 460.3h2.2v3.7h-2.2zM333.4 460.3h2.2v3.7h-2.2zM471.6 460.6h22.8v3.2h-22.8zM525.6 460.6h22.8v3.2h-22.8zM552.6 460.6h22.8v3.2h-22.8zM228.6 476.3h22.8v3.2h-22.8zM417.6 476.3h22.8v3.2h-22.8zM441.4 476.0h2.2v3.7h-2.2zM552.6 476.3h22.8v3.2h-22.8zM211.9 480.0h2.2v3.7h-2.2zM319.9 480.0h2.2v3.7h-2.2zM377.1 480.2h22.8v3.2h-22.8zM539.1 480.2h22.8v3.2h-22.8zM562.9 480.0h2.2v3.7h-2.2zM211.9 495.7h2.2v3.7h-2.2zM265.9 495.7h2.2v3.7h-2.2zM454.9 495.7h2.2v3.7h-2.2zM360.4 499.6h2.2v3.7h-2.2zM414.4 499.6h2.2v3.7h-2.2zM242.1 503.8h22.8v3.2h-22.8zM400.9 503.6h2.2v3.7h-2.2zM481.9 503.6h2.2v3.7h-2.2zM309.6 507.7h22.8v3.2h-22.8zM333.4 507.5h2.2v3.7h-2.2zM522.4 507.5h2.2v3.7h-2.2zM215.1 511.7h22.8v3.2h-22.8zM211.9 511.4h2.2v3.7h-2.2zM238.9 511.4h2.2v3.7h-2.2zM404.1 511.7h22.8v3.2h-22.8zM431.1 511.7h22.8v3.2h-22.8zM458.1 511.7h22.8v3.2h-22.8zM481.9 511.4h2.2v3.7h-2.2zM535.9 511.4h2.2v3.7h-2.2zM566.1 511.7h22.8v3.2h-22.8zM228.6 515.6h22.8v3.2h-22.8zM252.4 515.3h2.2v3.7h-2.2zM336.6 515.6h22.8v3.2h-22.8zM387.4 515.3h2.2v3.7h-2.2zM414.4 515.3h2.2v3.7h-2.2zM549.4 515.3h2.2v3.7h-2.2zM215.1 519.5h22.8v3.2h-22.8zM242.1 519.5h22.8v3.2h-22.8zM350.1 519.5h22.8v3.2h-22.8zM431.1 519.5h22.8v3.2h-22.8zM458.1 519.5h22.8v3.2h-22.8zM454.9 519.3h2.2v3.7h-2.2zM539.1 519.5h22.8v3.2h-22.8zM535.9 519.3h2.2v3.7h-2.2zM562.9 519.3h2.2v3.7h-2.2zM279.4 523.2h2.2v3.7h-2.2zM441.4 523.2h2.2v3.7h-2.2zM498.6 523.5h22.8v3.2h-22.8zM495.4 523.2h2.2v3.7h-2.2zM292.9 527.1h2.2v3.7h-2.2zM539.1 527.4h22.8v3.2h-22.8zM279.4 531.1h2.2v3.7h-2.2zM431.1 535.2h22.8v3.2h-22.8zM468.4 538.9h2.2v3.7h-2.2zM309.6 562.8h22.8v3.2h-22.8zM360.4 562.5h2.2v3.7h-2.2zM387.4 562.5h2.2v3.7h-2.2zM498.6 562.8h22.8v3.2h-22.8zM522.4 562.5h2.2v3.7h-2.2zM552.6 562.8h22.8v3.2h-22.8zM549.4 562.5h2.2v3.7h-2.2zM215.1 566.7h22.8v3.2h-22.8zM323.1 566.7h22.8v3.2h-22.8zM319.9 566.4h2.2v3.7h-2.2zM346.9 566.4h2.2v3.7h-2.2zM373.9 566.4h2.2v3.7h-2.2zM458.1 566.7h22.8v3.2h-22.8zM485.1 566.7h22.8v3.2h-22.8zM512.1 566.7h22.8v3.2h-22.8zM508.9 566.4h2.2v3.7h-2.2zM309.6 570.6h22.8v3.2h-22.8zM306.4 570.4h2.2v3.7h-2.2zM417.6 570.6h22.8v3.2h-22.8zM444.6 570.6h22.8v3.2h-22.8zM211.9 574.3h2.2v3.7h-2.2zM242.1 574.5h22.8v3.2h-22.8zM269.1 574.5h22.8v3.2h-22.8zM350.1 574.5h22.8v3.2h-22.8zM404.1 574.5h22.8v3.2h-22.8zM454.9 574.3h2.2v3.7h-2.2zM481.9 574.3h2.2v3.7h-2.2zM539.1 574.5h22.8v3.2h-22.8zM562.9 574.3h2.2v3.7h-2.2zM255.6 578.5h22.8v3.2h-22.8zM333.4 578.2h2.2v3.7h-2.2zM390.6 578.5h22.8v3.2h-22.8zM552.6 578.5h22.8v3.2h-22.8zM215.1 582.4h22.8v3.2h-22.8zM211.9 582.1h2.2v3.7h-2.2zM265.9 582.1h2.2v3.7h-2.2zM373.9 582.1h2.2v3.7h-2.2zM512.1 582.4h22.8v3.2h-22.8zM535.9 582.1h2.2v3.7h-2.2zM238.9 597.9h2.2v3.7h-2.2zM269.1 598.1h22.8v3.2h-22.8zM404.1 598.1h22.8v3.2h-22.8zM400.9 597.9h2.2v3.7h-2.2zM458.1 598.1h22.8v3.2h-22.8zM562.9 597.9h2.2v3.7h-2.2zM498.6 602.1h22.8v3.2h-22.8zM552.6 602.1h22.8v3.2h-22.8zM549.4 601.8h2.2v3.7h-2.2zM427.9 621.5h2.2v3.7h-2.2zM255.6 625.6h22.8v3.2h-22.8zM390.6 625.6h22.8v3.2h-22.8zM387.4 625.4h2.2v3.7h-2.2zM471.6 625.6h22.8v3.2h-22.8zM525.6 625.6h22.8v3.2h-22.8zM549.4 625.4h2.2v3.7h-2.2zM373.9 629.3h2.2v3.7h-2.2zM404.1 629.6h22.8v3.2h-22.8zM400.9 629.3h2.2v3.7h-2.2zM495.4 641.1h2.2v3.7h-2.2zM211.9 645.0h2.2v3.7h-2.2zM269.1 645.3h22.8v3.2h-22.8zM296.1 645.3h22.8v3.2h-22.8zM319.9 645.0h2.2v3.7h-2.2zM458.1 645.3h22.8v3.2h-22.8zM454.9 645.0h2.2v3.7h-2.2zM485.1 645.3h22.8v3.2h-22.8zM481.9 645.0h2.2v3.7h-2.2zM255.6 649.2h22.8v3.2h-22.8zM360.4 649.0h2.2v3.7h-2.2zM441.4 649.0h2.2v3.7h-2.2zM471.6 649.2h22.8v3.2h-22.8zM498.6 649.2h22.8v3.2h-22.8zM495.4 649.0h2.2v3.7h-2.2zM269.1 653.1h22.8v3.2h-22.8zM350.1 653.1h22.8v3.2h-22.8zM481.9 652.9h2.2v3.7h-2.2z"/>
<path fill="#d2d2cc" d="M238.9 401.4h2.2v3.7h-2.2zM292.9 401.4h2.2v3.7h-2.2zM319.9 401.4h2.2v3.7h-2.2zM431.1 401.6h22.8v3.2h-22.8zM427.9 401.4h2.2v3.7h-2.2zM454.9 401.4h2.2v3.7h-2.2zM485.1 401.6h22.8v3.2h-22.8zM508.9 401.4h2.2v3.7h-2.2zM539.1 401.6h22.8v3.2h-22.8zM228.6 405.6h22.8v3.2h-22.8zM255.6 405.6h22.8v3.2h-22.8zM279.4 405.3h2.2v3.7h-2.2zM360.4 405.3h2.2v3.7h-2.2zM468.4 405.3h2.2v3.7h-2.2zM549.4 405.3h2.2v3.7h-2.2zM211.9 409.2h2.2v3.7h-2.2zM346.9 409.2h2.2v3.7h-2.2zM404.1 409.5h22.8v3.2h-22.8zM454.9 409.2h2.2v3.7h-2.2zM562.9 409.2h2.2v3.7h-2.2zM228.6 413.4h22.8v3.2h-22.8zM279.4 413.2h2.2v3.7h-2.2zM309.6 413.4h22.8v3.2h-22.8zM333.4 413.2h2.2v3.7h-2.2zM363.6 413.4h22.8v3.2h-22.8zM360.4 413.2h2.2v3.7h-2.2zM522.4 413.2h2.2v3.7h-2.2zM552.6 413.4h22.8v3.2h-22.8zM549.4 413.2h2.2v3.7h-2.2zM215.1 417.3h22.8v3.2h-22.8zM242.1 417.3h22.8v3.2h-22.8zM350.1 417.3h22.8v3.2h-22.8zM404.1 417.3h22.8v3.2h-22.8zM454.9 417.1h2.2v3.7h-2.2zM508.9 417.1h2.2v3.7h-2.2zM562.9 417.1h2.2v3.7h-2.2zM228.6 421.3h22.8v3.2h-22.8zM282.6 421.3h22.8v3.2h-22.8zM279.4 421.0h2.2v3.7h-2.2zM309.6 421.3h22.8v3.2h-22.8zM336.6 421.3h22.8v3.2h-22.8zM360.4 421.0h2.2v3.7h-2.2zM417.6 421.3h22.8v3.2h-22.8zM498.6 421.3h22.8v3.2h-22.8zM495.4 421.0h2.2v3.7h-2.2zM215.1 425.2h22.8v3.2h-22.8zM292.9 424.9h2.2v3.7h-2.2zM319.9 424.9h2.2v3.7h-2.2zM373.9 424.9h2.2v3.7h-2.2zM485.1 425.2h22.8v3.2h-22.8zM279.4 428.9h2.2v3.7h-2.2zM522.4 428.9h2.2v3.7h-2.2zM552.6 429.1h22.8v3.2h-22.8zM211.9 432.8h2.2v3.7h-2.2zM562.9 432.8h2.2v3.7h-2.2zM269.1 448.8h22.8v3.2h-22.8zM458.1 448.8h22.8v3.2h-22.8zM336.6 452.7h22.8v3.2h-22.8zM360.4 452.5h2.2v3.7h-2.2zM495.4 452.5h2.2v3.7h-2.2zM549.4 452.5h2.2v3.7h-2.2zM211.9 456.4h2.2v3.7h-2.2zM292.9 456.4h2.2v3.7h-2.2zM377.1 456.6h22.8v3.2h-22.8zM373.9 456.4h2.2v3.7h-2.2zM562.9 456.4h2.2v3.7h-2.2zM468.4 460.3h2.2v3.7h-2.2zM522.4 460.3h2.2v3.7h-2.2zM225.4 476.0h2.2v3.7h-2.2zM252.4 476.0h2.2v3.7h-2.2zM333.4 476.0h2.2v3.7h-2.2zM360.4 476.0h2.2v3.7h-2.2zM387.4 476.0h2.2v3.7h-2.2zM495.4 476.0h2.2v3.7h-2.2zM522.4 476.0h2.2v3.7h-2.2zM549.4 476.0h2.2v3.7h-2.2zM215.1 480.2h22.8v3.2h-22.8zM269.1 480.2h22.8v3.2h-22.8zM292.9 480.0h2.2v3.7h-2.2zM346.9 480.0h2.2v3.7h-2.2zM400.9 480.0h2.2v3.7h-2.2zM431.1 480.2h22.8v3.2h-22.8zM481.9 480.0h2.2v3.7h-2.2zM566.1 480.2h22.8v3.2h-22.8zM481.9 495.7h2.2v3.7h-2.2zM346.9 503.6h2.2v3.7h-2.2zM427.9 503.6h2.2v3.7h-2.2zM562.9 503.6h2.2v3.7h-2.2zM279.4 507.5h2.2v3.7h-2.2zM468.4 507.5h2.2v3.7h-2.2zM319.9 511.4h2.2v3.7h-2.2zM512.1 511.7h22.8v3.2h-22.8zM508.9 511.4h2.2v3.7h-2.2zM539.1 511.7h22.8v3.2h-22.8zM360.4 515.3h2.2v3.7h-2.2zM495.4 515.3h2.2v3.7h-2.2zM552.6 515.6h22.8v3.2h-22.8zM238.9 519.3h2.2v3.7h-2.2zM296.1 519.5h22.8v3.2h-22.8zM377.1 519.5h22.8v3.2h-22.8zM373.9 519.3h2.2v3.7h-2.2zM404.1 519.5h22.8v3.2h-22.8zM512.1 519.5h22.8v3.2h-22.8zM566.1 519.5h22.8v3.2h-22.8zM225.4 523.2h2.2v3.7h-2.2zM306.4 523.2h2.2v3.7h-2.2zM336.6 523.5h22.8v3.2h-22.8zM471.6 523.5h22.8v3.2h-22.8zM552.6 523.5h22.8v3.2h-22.8zM215.1 527.4h22.8v3.2h-22.8zM238.9 527.1h2.2v3.7h-2.2zM323.1 527.4h22.8v3.2h-22.8zM319.9 527.1h2.2v3.7h-2.2zM404.1 527.4h22.8v3.2h-22.8zM400.9 527.1h2.2v3.7h-2.2zM427.9 527.1h2.2v3.7h-2.2zM458.1 527.4h22.8v3.2h-22.8zM228.6 562.8h22.8v3.2h-22.8zM414.4 562.5h2.2v3.7h-2.2zM495.4 562.5h2.2v3.7h-2.2zM525.6 562.8h22.8v3.2h-22.8zM242.1 566.7h22.8v3.2h-22.8zM296.1 566.7h22.8v3.2h-22.8zM350.1 566.7h22.8v3.2h-22.8zM404.1 566.7h22.8v3.2h-22.8zM400.9 566.4h2.2v3.7h-2.2zM427.9 566.4h2.2v3.7h-2.2zM481.9 566.4h2.2v3.7h-2.2zM535.9 566.4h2.2v3.7h-2.2zM225.4 570.4h2.2v3.7h-2.2zM282.6 570.6h22.8v3.2h-22.8zM363.6 570.6h22.8v3.2h-22.8zM390.6 570.6h22.8v3.2h-22.8zM387.4 570.4h2.2v3.7h-2.2zM414.4 570.4h2.2v3.7h-2.2zM498.6 570.6h22.8v3.2h-22.8zM495.4 570.4h2.2v3.7h-2.2zM522.4 570.4h2.2v3.7h-2.2zM238.9 574.3h2.2v3.7h-2.2zM265.9 574.3h2.2v3.7h-2.2zM296.1 574.5h22.8v3.2h-22.8zM292.9 574.3h2.2v3.7h-2.2zM323.1 574.5h22.8v3.2h-22.8zM319.9 574.3h2.2v3.7h-2.2zM346.9 574.3h2.2v3.7h-2.2zM400.9 574.3h2.2v3.7h-2.2zM225.4 578.2h2.2v3.7h-2.2zM279.4 578.2h2.2v3.7h-2.2zM306.4 578.2h2.2v3.7h-2.2zM360.4 578.2h2.2v3.7h-2.2zM414.4 578.2h2.2v3.7h-2.2zM468.4 578.2h2.2v3.7h-2.2zM495.4 578.2h2.2v3.7h-2.2zM525.6 578.5h22.8v3.2h-22.8zM522.4 578.2h2.2v3.7h-2.2zM549.4 578.2h2.2v3.7h-2.2zM292.9 582.1h2.2v3.7h-2.2zM350.1 582.4h22.8v3.2h-22.8zM346.9 582.1h2.2v3.7h-2.2zM404.1 582.4h22.8v3.2h-22.8zM400.9 582.1h2.2v3.7h-2.2zM485.1 582.4h22.8v3.2h-22.8zM508.9 582.1h2.2v3.7h-2.2zM242.1 598.1h22.8v3.2h-22.8zM296.1 598.1h22.8v3.2h-22.8zM350.1 598.1h22.8v3.2h-22.8zM373.9 597.9h2.2v3.7h-2.2zM454.9 597.9h2.2v3.7h-2.2zM485.1 598.1h22.8v3.2h-22.8zM481.9 597.9h2.2v3.7h-2.2zM512.1 598.1h22.8v3.2h-22.8zM535.9 597.9h2.2v3.7h-2.2zM225.4 601.8h2.2v3.7h-2.2zM390.6 602.1h22.8v3.2h-22.8zM387.4 601.8h2.2v3.7h-2.2zM414.4 601.8h2.2v3.7h-2.2zM441.4 601.8h2.2v3.7h-2.2zM522.4 601.8h2.2v3.7h-2.2zM228.6 625.6h22.8v3.2h-22.8zM282.6 625.6h22.8v3.2h-22.8zM279.4 625.4h2.2v3.7h-2.2zM363.6 625.6h22.8v3.2h-22.8zM360.4 625.4h2.2v3.7h-2.2zM414.4 625.4h2.2v3.7h-2.2zM444.6 625.6h22.8v3.2h-22.8zM441.4 625.4h2.2v3.7h-2.2zM498.6 625.6h22.8v3.2h-22.8zM495.4 625.4h2.2v3.7h-2.2zM522.4 625.4h2.2v3.7h-2.2zM211.9 629.3h2.2v3.7h-2.2zM238.9 629.3h2.2v3.7h-2.2zM269.1 629.6h22.8v3.2h-22.8zM292.9 629.3h2.2v3.7h-2.2zM323.1 629.6h22.8v3.2h-22.8zM427.9 629.3h2.2v3.7h-2.2zM454.9 629.3h2.2v3.7h-2.2zM485.1 629.6h22.8v3.2h-22.8zM481.9 629.3h2.2v3.7h-2.2zM512.1 629.6h22.8v3.2h-22.8zM562.9 629.3h2.2v3.7h-2.2zM265.9 645.0h2.2v3.7h-2.2zM323.1 645.3h22.8v3.2h-22.8zM373.9 645.0h2.2v3.7h-2.2zM400.9 645.0h2.2v3.7h-2.2zM539.1 645.3h22.8v3.2h-22.8zM566.1 645.3h22.8v3.2h-22.8zM252.4 649.0h2.2v3.7h-2.2zM279.4 649.0h2.2v3.7h-2.2zM309.6 649.2h22.8v3.2h-22.8zM387.4 649.0h2.2v3.7h-2.2zM468.4 649.0h2.2v3.7h-2.2zM265.9 652.9h2.2v3.7h-2.2zM346.9 652.9h2.2v3.7h-2.2zM400.9 652.9h2.2v3.7h-2.2zM454.9 652.9h2.2v3.7h-2.2zM508.9 652.9h2.2v3.7h-2.2zM562.9 652.9h2.2v3.7h-2.2z"/>
<path fill="#d8d8d2" d="M215.1 401.6h22.8v3.2h-22.8zM211.9 401.4h2.2v3.7h-2.2zM296.1 401.6h22.8v3.2h-22.8zM346.9 401.4h2.2v3.7h-2.2zM373.9 401.4h2.2v3.7h-2.2zM404.1 401.6h22.8v3.2h-22.8zM400.9 401.4h2.2v3.7h-2.2zM535.9 401.4h2.2v3.7h-2.2zM306.4 405.3h2.2v3.7h-2.2zM387.4 405.3h2.2v3.7h-2.2zM444.6 405.6h22.8v3.2h-22.8zM441.4 405.3h2.2v3.7h-2.2zM471.6 405.6h22.8v3.2h-22.8zM495.4 405.3h2.2v3.7h-2.2zM552.6 405.6h22.8v3.2h-22.8zM215.1 409.5h22.8v3.2h-22.8zM238.9 409.2h2.2v3.7h-2.2zM265.9 409.2h2.2v3.7h-2.2zM373.9 409.2h2.2v3.7h-2.2zM427.9 409.2h2.2v3.7h-2.2zM481.9 409.2h2.2v3.7h-2.2zM508.9 409.2h2.2v3.7h-2.2zM535.9 409.2h2.2v3.7h-2.2zM225.4 413.2h2.2v3.7h-2.2zM252.4 413.2h2.2v3.7h-2.2zM414.4 413.2h2.2v3.7h-2.2zM441.4 413.2h2.2v3.7h-2.2zM495.4 413.2h2.2v3.7h-2.2zM211.9 417.1h2.2v3.7h-2.2zM269.1 417.3h22.8v3.2h-22.8zM292.9 417.1h2.2v3.7h-2.2zM319.9 417.1h2.2v3.7h-2.2zM373.9 417.1h2.2v3.7h-2.2zM427.9 417.1h2.2v3.7h-2.2zM390.6 421.3h22.8v3.2h-22.8zM387.4 421.0h2.2v3.7h-2.2zM441.4 421.0h2.2v3.7h-2.2zM522.4 421.0h2.2v3.7h-2.2zM211.9 424.9h2.2v3.7h-2.2zM265.9 424.9h2.2v3.7h-2.2zM400.9 424.9h2.2v3.7h-2.2zM427.9 424.9h2.2v3.7h-2.2zM458.1 425.2h22.8v3.2h-22.8zM454.9 424.9h2.2v3.7h-2.2zM481.9 424.9h2.2v3.7h-2.2zM512.1 425.2h22.8v3.2h-22.8zM508.9 424.9h2.2v3.7h-2.2zM562.9 424.9h2.2v3.7h-2.2zM228.6 429.1h22.8v3.2h-22.8zM282.6 429.1h22.8v3.2h-22.8zM333.4 428.9h2.2v3.7h-2.2zM387.4 428.9h2.2v3.7h-2.2zM414.4 428.9h2.2v3.7h-2.2zM441.4 428.9h2.2v3.7h-2.2zM498.6 429.1h22.8v3.2h-22.8zM242.1 448.8h22.8v3.2h-22.8zM441.4 452.5h2.2v3.7h-2.2zM238.9 456.4h2.2v3.7h-2.2zM427.9 456.4h2.2v3.7h-2.2zM387.4 460.3h2.2v3.7h-2.2zM417.6 460.6h22.8v3.2h-22.8zM441.4 460.3h2.2v3.7h-2.2zM255.6 476.3h22.8v3.2h-22.8zM279.4 476.0h2.2v3.7h-2.2zM306.4 476.0h2.2v3.7h-2.2zM414.4 476.0h2.2v3.7h-2.2zM471.6 476.3h22.8v3.2h-22.8zM468.4 476.0h2.2v3.7h-2.2zM525.6 476.3h22.8v3.2h-22.8zM242.1 480.2h22.8v3.2h-22.8zM265.9 480.0h2.2v3.7h-2.2zM373.9 480.0h2.2v3.7h-2.2zM427.9 480.0h2.2v3.7h-2.2zM458.1 480.2h22.8v3.2h-22.8zM292.9 503.6h2.2v3.7h-2.2zM265.9 511.4h2.2v3.7h-2.2zM296.1 511.7h22.8v3.2h-22.8zM292.9 511.4h2.2v3.7h-2.2zM350.1 511.7h22.8v3.2h-22.8zM373.9 511.4h2.2v3.7h-2.2zM454.9 511.4h2.2v3.7h-2.2zM225.4 515.3h2.2v3.7h-2.2zM282.6 515.6h22.8v3.2h-22.8zM279.4 515.3h2.2v3.7h-2.2zM309.6 515.6h22.8v3.2h-22.8zM333.4 515.3h2.2v3.7h-2.2zM468.4 515.3h2.2v3.7h-2.2zM498.6 515.6h22.8v3.2h-22.8zM211.9 519.3h2.2v3.7h-2.2zM265.9 519.3h2.2v3.7h-2.2zM292.9 519.3h2.2v3.7h-2.2zM346.9 519.3h2.2v3.7h-2.2zM427.9 519.3h2.2v3.7h-2.2zM485.1 519.5h22.8v3.2h-22.8zM508.9 519.3h2.2v3.7h-2.2zM252.4 523.2h2.2v3.7h-2.2zM309.6 523.5h22.8v3.2h-22.8zM333.4 523.2h2.2v3.7h-2.2zM360.4 523.2h2.2v3.7h-2.2zM387.4 523.2h2.2v3.7h-2.2zM414.4 523.2h2.2v3.7h-2.2zM468.4 523.2h2.2v3.7h-2.2zM549.4 523.2h2.2v3.7h-2.2zM211.9 527.1h2.2v3.7h-2.2zM265.9 527.1h2.2v3.7h-2.2zM346.9 527.1h2.2v3.7h-2.2zM454.9 527.1h2.2v3.7h-2.2zM508.9 527.1h2.2v3.7h-2.2zM535.9 527.1h2.2v3.7h-2.2zM562.9 527.1h2.2v3.7h-2.2zM225.4 562.5h2.2v3.7h-2.2zM279.4 562.5h2.2v3.7h-2.2zM333.4 562.5h2.2v3.7h-2.2zM471.6 562.8h22.8v3.2h-22.8zM468.4 562.5h2.2v3.7h-2.2zM211.9 566.4h2.2v3.7h-2.2zM238.9 566.4h2.2v3.7h-2.2zM292.9 566.4h2.2v3.7h-2.2zM431.1 566.7h22.8v3.2h-22.8zM454.9 566.4h2.2v3.7h-2.2zM252.4 570.4h2.2v3.7h-2.2zM336.6 570.6h22.8v3.2h-22.8zM360.4 570.4h2.2v3.7h-2.2zM552.6 570.6h22.8v3.2h-22.8zM458.1 574.5h22.8v3.2h-22.8zM535.9 574.3h2.2v3.7h-2.2zM252.4 578.2h2.2v3.7h-2.2zM309.6 578.5h22.8v3.2h-22.8zM387.4 578.2h2.2v3.7h-2.2zM441.4 578.2h2.2v3.7h-2.2zM242.1 582.4h22.8v3.2h-22.8zM238.9 582.1h2.2v3.7h-2.2zM319.9 582.1h2.2v3.7h-2.2zM377.1 582.4h22.8v3.2h-22.8zM454.9 582.1h2.2v3.7h-2.2zM481.9 582.1h2.2v3.7h-2.2zM539.1 582.4h22.8v3.2h-22.8zM562.9 582.1h2.2v3.7h-2.2zM215.1 598.1h22.8v3.2h-22.8zM211.9 597.9h2.2v3.7h-2.2zM265.9 597.9h2.2v3.7h-2.2zM292.9 597.9h2.2v3.7h-2.2zM319.9 597.9h2.2v3.7h-2.2zM346.9 597.9h2.2v3.7h-2.2zM539.1 598.1h22.8v3.2h-22.8zM228.6 602.1h22.8v3.2h-22.8zM252.4 601.8h2.2v3.7h-2.2zM279.4 601.8h2.2v3.7h-2.2zM309.6 602.1h22.8v3.2h-22.8zM333.4 601.8h2.2v3.7h-2.2zM363.6 602.1h22.8v3.2h-22.8zM360.4 601.8h2.2v3.7h-2.2zM225.4 625.4h2.2v3.7h-2.2zM252.4 625.4h2.2v3.7h-2.2zM306.4 625.4h2.2v3.7h-2.2zM333.4 625.4h2.2v3.7h-2.2zM468.4 625.4h2.2v3.7h-2.2zM552.6 625.6h22.8v3.2h-22.8zM242.1 629.6h22.8v3.2h-22.8zM350.1 629.6h22.8v3.2h-22.8zM242.1 645.3h22.8v3.2h-22.8zM346.9 645.0h2.2v3.7h-2.2zM404.1 645.3h22.8v3.2h-22.8zM562.9 645.0h2.2v3.7h-2.2zM306.4 649.0h2.2v3.7h-2.2zM333.4 649.0h2.2v3.7h-2.2zM215.1 653.1h22.8v3.2h-22.8zM242.1 653.1h22.8v3.2h-22.8zM323.1 653.1h22.8v3.2h-22.8zM377.1 653.1h22.8v3.2h-22.8zM431.1 653.1h22.8v3.2h-22.8zM458.1 653.1h22.8v3.2h-22.8zM485.1 653.1h22.8v3.2h-22.8zM512.1 653.1h22.8v3.2h-22.8zM535.9 652.9h2.2v3.7h-2.2z"/>
<path fill="#deded8" d="M350.1 401.6h22.8v3.2h-22.8zM282.6 405.6h22.8v3.2h-22.8zM390.6 405.6h22.8v3.2h-22.8zM323.1 409.5h22.8v3.2h-22.8zM539.1 409.5h22.8v3.2h-22.8zM336.6 413.4h22.8v3.2h-22.8zM458.1 417.3h22.8v3.2h-22.8zM539.1 417.3h22.8v3.2h-22.8zM444.6 421.3h22.8v3.2h-22.8zM269.1 425.2h22.8v3.2h-22.8zM431.1 425.2h22.8v3.2h-22.8zM215.1 448.8h22.8v3.2h-22.8zM485.1 456.6h22.8v3.2h-22.8zM282.6 476.3h22.8v3.2h-22.8zM390.6 476.3h22.8v3.2h-22.8zM323.1 511.7h22.8v3.2h-22.8zM323.1 519.5h22.8v3.2h-22.8zM363.6 523.5h22.8v3.2h-22.8zM444.6 523.5h22.8v3.2h-22.8zM525.6 523.5h22.8v3.2h-22.8zM242.1 527.4h22.8v3.2h-22.8zM431.1 527.4h22.8v3.2h-22.8zM255.6 562.8h22.8v3.2h-22.8zM566.1 566.7h22.8v3.2h-22.8zM525.6 570.6h22.8v3.2h-22.8zM228.6 578.5h22.8v3.2h-22.8zM431.1 582.4h22.8v3.2h-22.8zM458.1 582.4h22.8v3.2h-22.8zM566.1 582.4h22.8v3.2h-22.8zM336.6 602.1h22.8v3.2h-22.8zM444.6 602.1h22.8v3.2h-22.8zM377.1 629.6h22.8v3.2h-22.8zM566.1 629.6h22.8v3.2h-22.8zM215.1 645.3h22.8v3.2h-22.8zM350.1 645.3h22.8v3.2h-22.8zM512.1 645.3h22.8v3.2h-22.8zM363.6 649.2h22.8v3.2h-22.8zM404.1 653.1h22.8v3.2h-22.8z"/>
<path fill="#e4e4de" d="M242.1 401.6h22.8v3.2h-22.8zM269.1 401.6h22.8v3.2h-22.8zM336.6 405.6h22.8v3.2h-22.8zM242.1 409.5h22.8v3.2h-22.8zM512.1 409.5h22.8v3.2h-22.8zM431.1 417.3h22.8v3.2h-22.8zM390.6 429.1h22.8v3.2h-22.8zM269.1 527.4h22.8v3.2h-22.8zM363.6 562.8h22.8v3.2h-22.8zM417.6 562.8h22.8v3.2h-22.8zM269.1 566.7h22.8v3.2h-22.8zM363.6 578.5h22.8v3.2h-22.8zM471.6 602.1h22.8v3.2h-22.8zM390.6 649.2h22.8v3.2h-22.8z"/>
<path fill="#eaeae4" d="M323.1 417.3h22.8v3.2h-22.8zM485.1 480.2h22.8v3.2h-22.8zM282.6 562.8h22.8v3.2h-22.8z"/>
</g>
<rect x="240" y="396" width="320" height="270" fill="url(#rowsh)"/>
</g>
<linearGradient id="nearsh" gradientUnits="userSpaceOnUse" x1="250" y1="0" x2="548" y2="0">
<stop offset="0" stop-color="#000" stop-opacity="0.14"/><stop offset="0.06" stop-color="#000" stop-opacity="0.03"/>
<stop offset="0.5" stop-color="#fff" stop-opacity="0.03"/><stop offset="0.9" stop-color="#000" stop-opacity="0.02"/>
<stop offset="0.97" stop-color="#000" stop-opacity="0.12"/><stop offset="1" stop-color="#000" stop-opacity="0.3"/></linearGradient>
<rect x="245" y="400" width="310" height="262" filter="url(#grainf)"/>
<rect x="245" y="400" width="310" height="262" fill="url(#nearsh)"/>
</g>
<path d="M251 408.5 L330 406.5 L440 402.5 C447 403 452 404.5 456.7 405.8 C463 407.5 468 409 473.3 411.7 C479 415 483 418 486.7 421.7 C490 425 494 428.5 496.7 431.7 C500 435.5 504 440 506.7 443.3 C511 448 517 454 527 458.5" fill="none" stroke="#3e3e3c" stroke-width="1.6" opacity="0.55" transform="translate(0 -1.2)"/>
<path d="M251 408.5 L330 406.5 L440 402.5 C447 403 452 404.5 456.7 405.8 C463 407.5 468 409 473.3 411.7 C479 415 483 418 486.7 421.7 C490 425 494 428.5 496.7 431.7 C500 435.5 504 440 506.7 443.3 C511 448 517 454 527 458.5" fill="none" stroke="#d2d2ca" stroke-width="1.1" opacity="0.8"/>
<path d="M251 408.5 C254.4 434 256.5 452 258.3 463 C260.5 475 263 487 265 500 C266.5 508 268 518 268.5 529" fill="none" stroke="#d0d0c8" stroke-width="1" opacity="0.6"/>
<linearGradient id="foot" x1="0" y1="0" x2="0" y2="1"><stop offset="0" stop-color="#6a6a6a"/><stop offset="0.25" stop-color="#d8d8d8"/><stop offset="0.7" stop-color="#bdbdbd"/><stop offset="1" stop-color="#7a7a7a"/></linearGradient>
<rect x="255.5" y="657" width="36.2" height="13.3" fill="url(#foot)"/>
<rect x="255.5" y="657" width="2.5" height="13.3" fill="#666"/>
<rect x="509.5" y="654.6" width="35.5" height="11.6" fill="url(#foot)"/>
<rect x="509.5" y="654.6" width="2.5" height="11.6" fill="#666"/>
<g transform="rotate(-3.5 454 506)">
<linearGradient id="hp" x1="0" y1="0" x2="0" y2="1"><stop offset="0" stop-color="#c4c4c4"/><stop offset="0.6" stop-color="#b8b8b8"/><stop offset="1" stop-color="#7a7a7a"/></linearGradient>
<rect x="430.8" y="491.2" width="47" height="29.6" fill="url(#hp)"/>
<rect x="430.8" y="491.2" width="47" height="29.6" fill="none" stroke="#4a4a4a" stroke-width="0.8" opacity="0.7"/>
<path d="M431.5 512 L445 510 L452 520.5 L431.5 520.5 Z" fill="#4b4b4b" opacity="0.8"/>
<path d="M438 502.6 L449.6 502.6 L449.6 497.6 C452 494.8 458 494.2 463 494.2 L467 494.2 C472.5 495.5 475 500 475 505.5 C475 511 472.5 515.5 467 516.8 L455.5 516.8 C452.5 516.3 450.2 514.5 449.6 510.7 L438 510.7 Z" fill="#2b2b2b"/>
<path d="M439 503.5 L450.5 503.5 L450.5 498.5 C453 496 457 495.2 461 495.2 L464 495.2 C466.5 498 467.3 502 467.3 505.5 C467.3 509 466.5 513 464 515.8 L456 515.8 C453 515.5 451 513.5 450.5 509.8 L439 509.8 Z" fill="#adadad"/>
<path d="M439 503.5 L450.5 503.5 L450.5 498.5 C453 496 457 495.2 461 495.2" fill="none" stroke="#e8e8e8" stroke-width="0.9"/>
</g>
<circle cx="460.6" cy="506.4" r="4.9" fill="#f68c64"/>
<clipPath id="circ"><circle cx="566.50" cy="278.75" r="132.25"/></clipPath>
<defs>
<linearGradient id="sg76" x1="0" y1="0" x2="0" y2="1"><stop offset="0" stop-color="#32322c"/><stop offset="0.15" stop-color="#54544b"/><stop offset="0.5" stop-color="#4c4c43"/><stop offset="0.82" stop-color="#3b3b34"/><stop offset="1" stop-color="#181814"/></linearGradient>
<linearGradient id="kg76" x1="0" y1="0" x2="1" y2="0"><stop offset="0" stop-color="#2f2f2a"/><stop offset="0.3" stop-color="#4a4a42"/><stop offset="0.7" stop-color="#47473f"/><stop offset="1" stop-color="#2e2e29"/></linearGradient>
<linearGradient id="sg100" x1="0" y1="0" x2="0" y2="1"><stop offset="0" stop-color="#42423c"/><stop offset="0.15" stop-color="#6e6e65"/><stop offset="0.5" stop-color="#64645b"/><stop offset="0.82" stop-color="#4e4e47"/><stop offset="1" stop-color="#20201c"/></linearGradient>
<linearGradient id="kg100" x1="0" y1="0" x2="1" y2="0"><stop offset="0" stop-color="#3e3e39"/><stop offset="0.3" stop-color="#62625a"/><stop offset="0.7" stop-color="#5e5e56"/><stop offset="1" stop-color="#3c3c37"/></linearGradient>
<linearGradient id="sg128" x1="0" y1="0" x2="0" y2="1"><stop offset="0" stop-color="#54544e"/><stop offset="0.15" stop-color="#8d8d84"/><stop offset="0.5" stop-color="#808077"/><stop offset="0.82" stop-color="#64645d"/><stop offset="1" stop-color="#292925"/></linearGradient>
<linearGradient id="kg128" x1="0" y1="0" x2="1" y2="0"><stop offset="0" stop-color="#4f4f4a"/><stop offset="0.3" stop-color="#7d7d75"/><stop offset="0.7" stop-color="#787870"/><stop offset="1" stop-color="#4d4d48"/></linearGradient>
<linearGradient id="sg148" x1="0" y1="0" x2="0" y2="1"><stop offset="0" stop-color="#62625c"/><stop offset="0.15" stop-color="#a3a39a"/><stop offset="0.5" stop-color="#94948b"/><stop offset="0.82" stop-color="#73736c"/><stop offset="1" stop-color="#2f2f2b"/></linearGradient>
<linearGradient id="kg148" x1="0" y1="0" x2="1" y2="0"><stop offset="0" stop-color="#5c5c57"/><stop offset="0.3" stop-color="#919189"/><stop offset="0.7" stop-color="#8b8b83"/><stop offset="1" stop-color="#595954"/></linearGradient>
<linearGradient id="sg162" x1="0" y1="0" x2="0" y2="1"><stop offset="0" stop-color="#6b6b65"/><stop offset="0.15" stop-color="#b2b2a9"/><stop offset="0.5" stop-color="#a2a299"/><stop offset="0.82" stop-color="#7e7e77"/><stop offset="1" stop-color="#343430"/></linearGradient>
<linearGradient id="kg162" x1="0" y1="0" x2="1" y2="0"><stop offset="0" stop-color="#64645f"/><stop offset="0.3" stop-color="#9f9f97"/><stop offset="0.7" stop-color="#989890"/><stop offset="1" stop-color="#61615c"/></linearGradient>
<linearGradient id="sg176" x1="0" y1="0" x2="0" y2="1"><stop offset="0" stop-color="#74746e"/><stop offset="0.15" stop-color="#c2c2b9"/><stop offset="0.5" stop-color="#b0b0a7"/><stop offset="0.82" stop-color="#898982"/><stop offset="1" stop-color="#383834"/></linearGradient>
<linearGradient id="kg176" x1="0" y1="0" x2="1" y2="0"><stop offset="0" stop-color="#6d6d68"/><stop offset="0.3" stop-color="#acaca4"/><stop offset="0.7" stop-color="#a5a59d"/><stop offset="1" stop-color="#6a6a65"/></linearGradient>
</defs>
<g clip-path="url(#circ)">
<rect x="430" y="140" width="275" height="275" fill="#262624"/>
<g filter="url(#soft)">
<path d="M382.0 126.2 Q379.0 126.2 379.0 129.4 L379.0 135.4 Q379.0 138.2 382.0 138.4 L458.0 141.8 Q461.0 142.0 461.0 139.2 L461.0 133.1 Q461.0 129.9 458.0 129.8 Z" fill="url(#sg162)"/>
<path d="M472.0 130.4 Q469.0 130.4 469.0 133.6 L469.0 139.7 Q469.0 142.5 472.0 142.7 L548.0 148.9 Q551.0 149.2 551.0 146.4 L551.0 140.3 Q551.0 137.1 548.0 136.9 Z" fill="url(#sg162)"/>
<path d="M562.0 137.9 Q559.0 137.9 559.0 141.1 L559.0 147.2 Q559.0 150.0 562.0 150.3 L638.0 159.2 Q641.0 159.6 641.0 156.8 L641.0 150.8 Q641.0 147.6 638.0 147.2 Z" fill="url(#sg162)"/>
<path d="M652.0 148.7 Q649.0 148.7 649.0 151.9 L649.0 157.9 Q649.0 160.7 652.0 161.1 L728.0 172.8 Q731.0 173.3 731.0 170.5 L731.0 164.4 Q731.0 161.2 728.0 160.8 Z" fill="url(#sg128)"/>
<path d="M742.0 162.6 Q739.0 162.6 739.0 165.8 L739.0 171.8 Q739.0 174.6 742.0 175.2 L818.0 189.6 Q821.0 190.2 821.0 187.4 L821.0 181.4 Q821.0 178.2 818.0 177.6 Z" fill="url(#sg162)"/>
<rect x="460.0" y="129.1" width="10" height="15.1" fill="url(#kg128)"/>
<rect x="550.0" y="136.4" width="10" height="15.1" fill="url(#kg128)"/>
<rect x="640.0" y="147.0" width="10" height="15.1" fill="url(#kg100)"/>
<rect x="730.0" y="160.8" width="10" height="15.1" fill="url(#kg128)"/>
<path d="M337.0 138.1 Q334.0 138.1 334.0 141.3 L334.0 147.4 Q334.0 150.2 337.0 150.3 L413.0 152.5 Q416.0 152.6 416.0 149.8 L416.0 143.7 Q416.0 140.5 413.0 140.4 Z" fill="url(#sg148)"/>
<path d="M427.0 140.8 Q424.0 140.8 424.0 144.0 L424.0 150.1 Q424.0 152.9 427.0 153.1 L503.0 158.1 Q506.0 158.3 506.0 155.5 L506.0 149.4 Q506.0 146.2 503.0 146.0 Z" fill="url(#sg148)"/>
<path d="M517.0 146.8 Q514.0 146.8 514.0 150.0 L514.0 156.1 Q514.0 158.9 517.0 159.2 L593.0 166.9 Q596.0 167.2 596.0 164.4 L596.0 158.3 Q596.0 155.1 593.0 154.8 Z" fill="url(#sg148)"/>
<path d="M607.0 156.1 Q604.0 156.1 604.0 159.3 L604.0 165.4 Q604.0 168.2 607.0 168.6 L683.0 179.0 Q686.0 179.4 686.0 176.6 L686.0 170.5 Q686.0 167.3 683.0 166.9 Z" fill="url(#sg148)"/>
<path d="M697.0 168.5 Q694.0 168.5 694.0 171.7 L694.0 177.9 Q694.0 180.7 697.0 181.2 L773.0 194.3 Q776.0 194.8 776.0 192.0 L776.0 185.9 Q776.0 182.7 773.0 182.2 Z" fill="url(#sg148)"/>
<rect x="415.0" y="139.5" width="10" height="15.2" fill="url(#kg148)"/>
<rect x="505.0" y="145.4" width="10" height="15.2" fill="url(#kg128)"/>
<rect x="595.0" y="154.5" width="10" height="15.2" fill="url(#kg100)"/>
<rect x="685.0" y="166.8" width="10" height="15.2" fill="url(#kg100)"/>
<path d="M382.0 152.0 Q379.0 152.0 379.0 155.2 L379.0 161.4 Q379.0 164.2 382.0 164.3 L458.0 168.0 Q461.0 168.2 461.0 165.4 L461.0 159.2 Q461.0 156.0 458.0 155.8 Z" fill="url(#sg176)"/>
<path d="M472.0 156.5 Q469.0 156.5 469.0 159.7 L469.0 165.9 Q469.0 168.7 472.0 168.9 L548.0 175.4 Q551.0 175.6 551.0 172.8 L551.0 166.6 Q551.0 163.4 548.0 163.2 Z" fill="url(#sg148)"/>
<path d="M562.0 164.2 Q559.0 164.2 559.0 167.4 L559.0 173.6 Q559.0 176.4 562.0 176.8 L638.0 186.0 Q641.0 186.3 641.0 183.5 L641.0 177.3 Q641.0 174.1 638.0 173.8 Z" fill="url(#sg176)"/>
<path d="M652.0 175.2 Q649.0 175.2 649.0 178.4 L649.0 184.6 Q649.0 187.4 652.0 187.9 L728.0 199.8 Q731.0 200.3 731.0 197.5 L731.0 191.3 Q731.0 188.1 728.0 187.6 Z" fill="url(#sg176)"/>
<path d="M742.0 189.5 Q739.0 189.5 739.0 192.7 L739.0 198.9 Q739.0 201.7 742.0 202.2 L818.0 216.9 Q821.0 217.4 821.0 214.6 L821.0 208.5 Q821.0 205.3 818.0 204.7 Z" fill="url(#sg176)"/>
<rect x="460.0" y="155.1" width="10" height="15.3" fill="url(#kg128)"/>
<rect x="550.0" y="162.7" width="10" height="15.3" fill="url(#kg148)"/>
<rect x="640.0" y="173.6" width="10" height="15.3" fill="url(#kg128)"/>
<rect x="730.0" y="187.7" width="10" height="15.3" fill="url(#kg128)"/>
<path d="M337.0 163.9 Q334.0 163.9 334.0 167.1 L334.0 173.4 Q334.0 176.2 337.0 176.2 L413.0 178.7 Q416.0 178.8 416.0 176.0 L416.0 169.7 Q416.0 166.5 413.0 166.4 Z" fill="url(#sg100)"/>
<path d="M427.0 166.9 Q424.0 166.9 424.0 170.1 L424.0 176.4 Q424.0 179.2 427.0 179.4 L503.0 184.6 Q506.0 184.8 506.0 182.0 L506.0 175.7 Q506.0 172.5 503.0 172.3 Z" fill="url(#sg100)"/>
<path d="M517.0 173.2 Q514.0 173.2 514.0 176.4 L514.0 182.6 Q514.0 185.4 517.0 185.8 L593.0 193.7 Q596.0 194.0 596.0 191.2 L596.0 184.9 Q596.0 181.7 593.0 181.4 Z" fill="url(#sg76)"/>
<path d="M607.0 182.7 Q604.0 182.7 604.0 185.9 L604.0 192.2 Q604.0 195.0 607.0 195.4 L683.0 206.0 Q686.0 206.4 686.0 203.6 L686.0 197.4 Q686.0 194.2 683.0 193.7 Z" fill="url(#sg100)"/>
<path d="M697.0 195.4 Q694.0 195.4 694.0 198.6 L694.0 204.9 Q694.0 207.7 697.0 208.2 L773.0 221.6 Q776.0 222.1 776.0 219.3 L776.0 213.1 Q776.0 209.9 773.0 209.3 Z" fill="url(#sg100)"/>
<rect x="415.0" y="165.6" width="10" height="15.4" fill="url(#kg76)"/>
<rect x="505.0" y="171.7" width="10" height="15.4" fill="url(#kg76)"/>
<rect x="595.0" y="181.1" width="10" height="15.4" fill="url(#kg100)"/>
<rect x="685.0" y="193.7" width="10" height="15.4" fill="url(#kg100)"/>
<path d="M382.0 178.1 Q379.0 178.1 379.0 181.3 L379.0 187.6 Q379.0 190.4 382.0 190.6 L458.0 194.5 Q461.0 194.7 461.0 191.9 L461.0 185.5 Q461.0 182.3 458.0 182.1 Z" fill="url(#sg162)"/>
<path d="M472.0 182.9 Q469.0 182.9 469.0 186.1 L469.0 192.4 Q469.0 195.2 472.0 195.5 L548.0 202.1 Q551.0 202.4 551.0 199.6 L551.0 193.2 Q551.0 190.0 548.0 189.8 Z" fill="url(#sg162)"/>
<path d="M562.0 190.9 Q559.0 190.9 559.0 194.1 L559.0 200.4 Q559.0 203.2 562.0 203.6 L638.0 213.0 Q641.0 213.4 641.0 210.6 L641.0 204.2 Q641.0 201.0 638.0 200.6 Z" fill="url(#sg162)"/>
<path d="M652.0 202.1 Q649.0 202.1 649.0 205.3 L649.0 211.7 Q649.0 214.5 652.0 215.0 L728.0 227.1 Q731.0 227.6 731.0 224.8 L731.0 218.4 Q731.0 215.2 728.0 214.7 Z" fill="url(#sg162)"/>
<path d="M742.0 216.6 Q739.0 216.6 739.0 219.8 L739.0 226.2 Q739.0 229.0 742.0 229.6 L818.0 244.4 Q821.0 245.0 821.0 242.2 L821.0 235.9 Q821.0 232.7 818.0 232.1 Z" fill="url(#sg162)"/>
<rect x="460.0" y="181.5" width="10" height="15.4" fill="url(#kg128)"/>
<rect x="550.0" y="189.4" width="10" height="15.4" fill="url(#kg128)"/>
<rect x="640.0" y="200.5" width="10" height="15.4" fill="url(#kg100)"/>
<rect x="730.0" y="214.8" width="10" height="15.4" fill="url(#kg128)"/>
<path d="M337.0 190.0 Q334.0 190.0 334.0 193.2 L334.0 199.6 Q334.0 202.4 337.0 202.5 L413.0 205.2 Q416.0 205.3 416.0 202.5 L416.0 196.1 Q416.0 192.9 413.0 192.8 Z" fill="url(#sg128)"/>
<path d="M427.0 193.3 Q424.0 193.3 424.0 196.5 L424.0 202.9 Q424.0 205.7 427.0 205.9 L503.0 211.3 Q506.0 211.6 506.0 208.8 L506.0 202.3 Q506.0 199.1 503.0 198.9 Z" fill="url(#sg176)"/>
<path d="M517.0 199.8 Q514.0 199.8 514.0 203.0 L514.0 209.5 Q514.0 212.3 517.0 212.6 L593.0 220.7 Q596.0 221.0 596.0 218.2 L596.0 211.8 Q596.0 208.6 593.0 208.3 Z" fill="url(#sg148)"/>
<path d="M607.0 209.6 Q604.0 209.6 604.0 212.8 L604.0 219.2 Q604.0 222.0 607.0 222.5 L683.0 233.3 Q686.0 233.8 686.0 231.0 L686.0 224.5 Q686.0 221.3 683.0 220.9 Z" fill="url(#sg148)"/>
<path d="M697.0 222.6 Q694.0 222.6 694.0 225.8 L694.0 232.3 Q694.0 235.1 697.0 235.6 L773.0 249.2 Q776.0 249.7 776.0 246.9 L776.0 240.5 Q776.0 237.3 773.0 236.8 Z" fill="url(#sg148)"/>
<rect x="415.0" y="192.0" width="10" height="15.5" fill="url(#kg128)"/>
<rect x="505.0" y="198.4" width="10" height="15.5" fill="url(#kg128)"/>
<rect x="595.0" y="208.0" width="10" height="15.5" fill="url(#kg148)"/>
<rect x="685.0" y="220.9" width="10" height="15.5" fill="url(#kg100)"/>
<path d="M382.0 204.5 Q379.0 204.5 379.0 207.7 L379.0 214.2 Q379.0 217.0 382.0 217.2 L458.0 221.3 Q461.0 221.5 461.0 218.7 L461.0 212.2 Q461.0 209.0 458.0 208.8 Z" fill="url(#sg128)"/>
<path d="M472.0 209.5 Q469.0 209.5 469.0 212.7 L469.0 219.2 Q469.0 222.0 472.0 222.3 L548.0 229.2 Q551.0 229.5 551.0 226.7 L551.0 220.2 Q551.0 217.0 548.0 216.7 Z" fill="url(#sg148)"/>
<path d="M562.0 217.8 Q559.0 217.8 559.0 221.0 L559.0 227.5 Q559.0 230.3 562.0 230.7 L638.0 240.3 Q641.0 240.7 641.0 237.9 L641.0 231.4 Q641.0 228.2 638.0 227.8 Z" fill="url(#sg148)"/>
<path d="M652.0 229.4 Q649.0 229.4 649.0 232.6 L649.0 239.1 Q649.0 241.9 652.0 242.4 L728.0 254.7 Q731.0 255.2 731.0 252.4 L731.0 245.9 Q731.0 242.7 728.0 242.2 Z" fill="url(#sg148)"/>
<path d="M742.0 244.2 Q739.0 244.2 739.0 247.4 L739.0 253.9 Q739.0 256.7 742.0 257.3 L818.0 272.3 Q821.0 272.9 821.0 270.1 L821.0 263.6 Q821.0 260.4 818.0 259.8 Z" fill="url(#sg176)"/>
<rect x="460.0" y="208.1" width="10" height="15.6" fill="url(#kg148)"/>
<rect x="550.0" y="216.3" width="10" height="15.6" fill="url(#kg100)"/>
<rect x="640.0" y="227.7" width="10" height="15.6" fill="url(#kg128)"/>
<rect x="730.0" y="242.3" width="10" height="15.6" fill="url(#kg148)"/>
<path d="M337.0 216.4 Q334.0 216.4 334.0 219.6 L334.0 226.2 Q334.0 229.0 337.0 229.1 L413.0 232.0 Q416.0 232.1 416.0 229.3 L416.0 222.7 Q416.0 219.5 413.0 219.4 Z" fill="url(#sg148)"/>
<path d="M427.0 220.0 Q424.0 220.0 424.0 223.2 L424.0 229.8 Q424.0 232.6 427.0 232.8 L503.0 238.4 Q506.0 238.7 506.0 235.9 L506.0 229.3 Q506.0 226.1 503.0 225.9 Z" fill="url(#sg148)"/>
<path d="M517.0 226.8 Q514.0 226.8 514.0 230.0 L514.0 236.6 Q514.0 239.4 517.0 239.7 L593.0 248.1 Q596.0 248.4 596.0 245.6 L596.0 239.0 Q596.0 235.8 593.0 235.5 Z" fill="url(#sg148)"/>
<path d="M607.0 236.9 Q604.0 236.9 604.0 240.1 L604.0 246.7 Q604.0 249.5 607.0 249.9 L683.0 261.0 Q686.0 261.4 686.0 258.6 L686.0 252.1 Q686.0 248.9 683.0 248.4 Z" fill="url(#sg128)"/>
<path d="M697.0 250.2 Q694.0 250.2 694.0 253.4 L694.0 260.0 Q694.0 262.8 697.0 263.3 L773.0 277.1 Q776.0 277.7 776.0 274.9 L776.0 268.3 Q776.0 265.1 773.0 264.6 Z" fill="url(#sg162)"/>
<rect x="415.0" y="218.7" width="10" height="15.7" fill="url(#kg100)"/>
<rect x="505.0" y="225.3" width="10" height="15.7" fill="url(#kg128)"/>
<rect x="595.0" y="235.3" width="10" height="15.7" fill="url(#kg100)"/>
<rect x="685.0" y="248.4" width="10" height="15.7" fill="url(#kg128)"/>
<path d="M382.0 231.2 Q379.0 231.2 379.0 234.4 L379.0 241.1 Q379.0 243.9 382.0 244.1 L458.0 248.4 Q461.0 248.6 461.0 245.8 L461.0 239.1 Q461.0 235.9 458.0 235.8 Z" fill="url(#sg148)"/>
<path d="M472.0 236.5 Q469.0 236.5 469.0 239.7 L469.0 246.4 Q469.0 249.2 472.0 249.5 L548.0 256.6 Q551.0 256.9 551.0 254.1 L551.0 247.4 Q551.0 244.2 548.0 243.9 Z" fill="url(#sg162)"/>
<path d="M562.0 245.1 Q559.0 245.1 559.0 248.3 L559.0 255.0 Q559.0 257.8 562.0 258.2 L638.0 268.0 Q641.0 268.4 641.0 265.6 L641.0 258.9 Q641.0 255.7 638.0 255.4 Z" fill="url(#sg176)"/>
<path d="M652.0 256.9 Q649.0 256.9 649.0 260.1 L649.0 266.8 Q649.0 269.6 652.0 270.1 L728.0 282.7 Q731.0 283.2 731.0 280.4 L731.0 273.7 Q731.0 270.5 728.0 270.0 Z" fill="url(#sg162)"/>
<path d="M742.0 272.0 Q739.0 272.0 739.0 275.2 L739.0 281.9 Q739.0 284.7 742.0 285.3 L818.0 300.6 Q821.0 301.2 821.0 298.4 L821.0 291.7 Q821.0 288.5 818.0 287.9 Z" fill="url(#sg176)"/>
<rect x="460.0" y="235.1" width="10" height="15.8" fill="url(#kg100)"/>
<rect x="550.0" y="243.6" width="10" height="15.8" fill="url(#kg128)"/>
<rect x="640.0" y="255.2" width="10" height="15.8" fill="url(#kg148)"/>
<rect x="730.0" y="270.1" width="10" height="15.8" fill="url(#kg128)"/>
<path d="M337.0 243.2 Q334.0 243.2 334.0 246.4 L334.0 253.1 Q334.0 255.9 337.0 256.0 L413.0 259.2 Q416.0 259.3 416.0 256.5 L416.0 249.7 Q416.0 246.5 413.0 246.4 Z" fill="url(#sg76)"/>
<path d="M427.0 247.0 Q424.0 247.0 424.0 250.2 L424.0 257.0 Q424.0 259.8 427.0 260.0 L503.0 265.9 Q506.0 266.1 506.0 263.3 L506.0 256.6 Q506.0 253.4 503.0 253.1 Z" fill="url(#sg100)"/>
<path d="M517.0 254.1 Q514.0 254.1 514.0 257.3 L514.0 264.1 Q514.0 266.9 517.0 267.2 L593.0 275.8 Q596.0 276.2 596.0 273.4 L596.0 266.6 Q596.0 263.4 593.0 263.1 Z" fill="url(#sg76)"/>
<path d="M607.0 264.5 Q604.0 264.5 604.0 267.7 L604.0 274.4 Q604.0 277.2 607.0 277.7 L683.0 289.0 Q686.0 289.4 686.0 286.6 L686.0 279.9 Q686.0 276.7 683.0 276.2 Z" fill="url(#sg148)"/>
<path d="M697.0 278.0 Q694.0 278.0 694.0 281.2 L694.0 288.0 Q694.0 290.8 697.0 291.3 L773.0 305.4 Q776.0 306.0 776.0 303.2 L776.0 296.4 Q776.0 293.2 773.0 292.7 Z" fill="url(#sg128)"/>
<rect x="415.0" y="245.7" width="10" height="15.9" fill="url(#kg76)"/>
<rect x="505.0" y="252.6" width="10" height="15.9" fill="url(#kg76)"/>
<rect x="595.0" y="262.8" width="10" height="15.9" fill="url(#kg148)"/>
<rect x="685.0" y="276.3" width="10" height="15.9" fill="url(#kg128)"/>
<path d="M382.0 258.2 Q379.0 258.2 379.0 261.4 L379.0 268.3 Q379.0 271.1 382.0 271.3 L458.0 275.9 Q461.0 276.1 461.0 273.3 L461.0 266.4 Q461.0 263.2 458.0 263.1 Z" fill="url(#sg76)"/>
<path d="M472.0 263.9 Q469.0 263.9 469.0 267.1 L469.0 273.9 Q469.0 276.7 472.0 277.0 L548.0 284.4 Q551.0 284.6 551.0 281.8 L551.0 275.0 Q551.0 271.8 548.0 271.5 Z" fill="url(#sg76)"/>
<path d="M562.0 272.7 Q559.0 272.7 559.0 275.9 L559.0 282.8 Q559.0 285.6 562.0 286.0 L638.0 296.1 Q641.0 296.5 641.0 293.7 L641.0 286.8 Q641.0 283.6 638.0 283.2 Z" fill="url(#sg148)"/>
<path d="M652.0 284.8 Q649.0 284.8 649.0 288.0 L649.0 294.9 Q649.0 297.7 652.0 298.2 L728.0 311.0 Q731.0 311.5 731.0 308.7 L731.0 301.9 Q731.0 298.7 728.0 298.2 Z" fill="url(#sg148)"/>
<path d="M742.0 300.2 Q739.0 300.2 739.0 303.4 L739.0 310.2 Q739.0 313.0 742.0 313.6 L818.0 329.2 Q821.0 329.8 821.0 327.0 L821.0 320.2 Q821.0 317.0 818.0 316.3 Z" fill="url(#sg128)"/>
<rect x="460.0" y="262.4" width="10" height="15.9" fill="url(#kg76)"/>
<rect x="550.0" y="271.2" width="10" height="15.9" fill="url(#kg100)"/>
<rect x="640.0" y="283.1" width="10" height="15.9" fill="url(#kg128)"/>
<rect x="730.0" y="298.3" width="10" height="15.9" fill="url(#kg128)"/>
<path d="M337.0 270.2 Q334.0 270.2 334.0 273.4 L334.0 280.4 Q334.0 283.2 337.0 283.3 L413.0 286.7 Q416.0 286.8 416.0 284.0 L416.0 277.1 Q416.0 273.9 413.0 273.7 Z" fill="url(#sg76)"/>
<path d="M427.0 274.4 Q424.0 274.4 424.0 277.6 L424.0 284.5 Q424.0 287.3 427.0 287.5 L503.0 293.6 Q506.0 293.9 506.0 291.1 L506.0 284.2 Q506.0 281.0 503.0 280.7 Z" fill="url(#sg100)"/>
<path d="M517.0 281.7 Q514.0 281.7 514.0 284.9 L514.0 291.9 Q514.0 294.7 517.0 295.0 L593.0 303.9 Q596.0 304.2 596.0 301.4 L596.0 294.5 Q596.0 291.3 593.0 290.9 Z" fill="url(#sg76)"/>
<path d="M607.0 292.4 Q604.0 292.4 604.0 295.6 L604.0 302.5 Q604.0 305.3 607.0 305.7 L683.0 317.3 Q686.0 317.8 686.0 315.0 L686.0 308.1 Q686.0 304.9 683.0 304.4 Z" fill="url(#sg128)"/>
<path d="M697.0 306.2 Q694.0 306.2 694.0 309.4 L694.0 316.3 Q694.0 319.1 697.0 319.7 L773.0 334.0 Q776.0 334.6 776.0 331.8 L776.0 324.9 Q776.0 321.7 773.0 321.1 Z" fill="url(#sg128)"/>
<rect x="415.0" y="273.0" width="10" height="16.0" fill="url(#kg100)"/>
<rect x="505.0" y="280.2" width="10" height="16.0" fill="url(#kg100)"/>
<rect x="595.0" y="290.7" width="10" height="16.0" fill="url(#kg148)"/>
<rect x="685.0" y="304.4" width="10" height="16.0" fill="url(#kg148)"/>
<path d="M382.0 285.6 Q379.0 285.6 379.0 288.8 L379.0 295.8 Q379.0 298.6 382.0 298.8 L458.0 303.7 Q461.0 303.9 461.0 301.1 L461.0 294.1 Q461.0 290.9 458.0 290.7 Z" fill="url(#sg148)"/>
<path d="M472.0 291.5 Q469.0 291.5 469.0 294.7 L469.0 301.7 Q469.0 304.5 472.0 304.8 L548.0 312.4 Q551.0 312.7 551.0 309.9 L551.0 302.9 Q551.0 299.7 548.0 299.4 Z" fill="url(#sg162)"/>
<path d="M562.0 300.7 Q559.0 300.7 559.0 303.9 L559.0 310.9 Q559.0 313.7 562.0 314.1 L638.0 324.4 Q641.0 324.8 641.0 322.0 L641.0 315.0 Q641.0 311.8 638.0 311.4 Z" fill="url(#sg162)"/>
<path d="M652.0 313.0 Q649.0 313.0 649.0 316.2 L649.0 323.3 Q649.0 326.1 652.0 326.6 L728.0 339.6 Q731.0 340.2 731.0 337.4 L731.0 330.3 Q731.0 327.1 728.0 326.6 Z" fill="url(#sg148)"/>
<path d="M742.0 328.7 Q739.0 328.7 739.0 331.9 L739.0 338.9 Q739.0 341.7 742.0 342.3 L818.0 358.1 Q821.0 358.7 821.0 355.9 L821.0 348.9 Q821.0 345.7 818.0 345.1 Z" fill="url(#sg148)"/>
<rect x="460.0" y="290.1" width="10" height="16.1" fill="url(#kg128)"/>
<rect x="550.0" y="299.1" width="10" height="16.1" fill="url(#kg128)"/>
<rect x="640.0" y="311.3" width="10" height="16.1" fill="url(#kg148)"/>
<rect x="730.0" y="326.8" width="10" height="16.1" fill="url(#kg128)"/>
<path d="M337.0 297.6 Q334.0 297.6 334.0 300.8 L334.0 307.9 Q334.0 310.7 337.0 310.9 L413.0 314.5 Q416.0 314.6 416.0 311.8 L416.0 304.7 Q416.0 301.5 413.0 301.4 Z" fill="url(#sg100)"/>
<path d="M427.0 302.0 Q424.0 302.0 424.0 305.2 L424.0 312.3 Q424.0 315.1 427.0 315.4 L503.0 321.7 Q506.0 322.0 506.0 319.2 L506.0 312.1 Q506.0 308.9 503.0 308.6 Z" fill="url(#sg100)"/>
<path d="M517.0 309.7 Q514.0 309.7 514.0 312.9 L514.0 320.0 Q514.0 322.8 517.0 323.2 L593.0 332.2 Q596.0 332.6 596.0 329.8 L596.0 322.7 Q596.0 319.5 593.0 319.2 Z" fill="url(#sg76)"/>
<path d="M607.0 320.6 Q604.0 320.6 604.0 323.8 L604.0 330.9 Q604.0 333.7 607.0 334.2 L683.0 346.0 Q686.0 346.5 686.0 343.7 L686.0 336.6 Q686.0 333.4 683.0 332.9 Z" fill="url(#sg128)"/>
<path d="M697.0 334.8 Q694.0 334.8 694.0 338.0 L694.0 345.1 Q694.0 347.9 697.0 348.4 L773.0 363.0 Q776.0 363.6 776.0 360.8 L776.0 353.7 Q776.0 350.5 773.0 349.9 Z" fill="url(#sg148)"/>
<rect x="415.0" y="300.7" width="10" height="16.2" fill="url(#kg100)"/>
<rect x="505.0" y="308.2" width="10" height="16.2" fill="url(#kg100)"/>
<rect x="595.0" y="319.0" width="10" height="16.2" fill="url(#kg128)"/>
<rect x="685.0" y="333.0" width="10" height="16.2" fill="url(#kg128)"/>
<path d="M382.0 313.3 Q379.0 313.3 379.0 316.5 L379.0 323.7 Q379.0 326.5 382.0 326.7 L458.0 331.8 Q461.0 332.0 461.0 329.2 L461.0 322.0 Q461.0 318.8 458.0 318.6 Z" fill="url(#sg148)"/>
<path d="M472.0 319.5 Q469.0 319.5 469.0 322.7 L469.0 329.9 Q469.0 332.7 472.0 333.0 L548.0 340.8 Q551.0 341.1 551.0 338.3 L551.0 331.2 Q551.0 328.0 548.0 327.7 Z" fill="url(#sg148)"/>
<path d="M562.0 328.9 Q559.0 328.9 559.0 332.1 L559.0 339.3 Q559.0 342.1 562.0 342.5 L638.0 353.1 Q641.0 353.5 641.0 350.7 L641.0 343.6 Q641.0 340.4 638.0 339.9 Z" fill="url(#sg148)"/>
<path d="M652.0 341.6 Q649.0 341.6 649.0 344.8 L649.0 352.0 Q649.0 354.8 652.0 355.3 L728.0 368.6 Q731.0 369.2 731.0 366.4 L731.0 359.2 Q731.0 356.0 728.0 355.4 Z" fill="url(#sg162)"/>
<path d="M742.0 357.5 Q739.0 357.5 739.0 360.7 L739.0 367.9 Q739.0 370.7 742.0 371.3 L818.0 387.4 Q821.0 388.0 821.0 385.2 L821.0 378.0 Q821.0 374.8 818.0 374.2 Z" fill="url(#sg148)"/>
<rect x="460.0" y="318.1" width="10" height="16.3" fill="url(#kg128)"/>
<rect x="550.0" y="327.3" width="10" height="16.3" fill="url(#kg128)"/>
<rect x="640.0" y="339.9" width="10" height="16.3" fill="url(#kg128)"/>
<rect x="730.0" y="355.6" width="10" height="16.3" fill="url(#kg128)"/>
<path d="M337.0 325.3 Q334.0 325.3 334.0 328.5 L334.0 335.8 Q334.0 338.6 337.0 338.8 L413.0 342.6 Q416.0 342.8 416.0 340.0 L416.0 332.7 Q416.0 329.5 413.0 329.4 Z" fill="url(#sg148)"/>
<path d="M427.0 330.1 Q424.0 330.1 424.0 333.3 L424.0 340.5 Q424.0 343.3 427.0 343.6 L503.0 350.2 Q506.0 350.4 506.0 347.6 L506.0 340.4 Q506.0 337.2 503.0 336.9 Z" fill="url(#sg148)"/>
<path d="M517.0 338.0 Q514.0 338.0 514.0 341.2 L514.0 348.5 Q514.0 351.3 517.0 351.6 L593.0 361.0 Q596.0 361.3 596.0 358.5 L596.0 351.3 Q596.0 348.1 593.0 347.7 Z" fill="url(#sg148)"/>
<path d="M607.0 349.2 Q604.0 349.2 604.0 352.4 L604.0 359.7 Q604.0 362.5 607.0 362.9 L683.0 375.0 Q686.0 375.5 686.0 372.7 L686.0 365.4 Q686.0 362.2 683.0 361.8 Z" fill="url(#sg148)"/>
<path d="M697.0 363.6 Q694.0 363.6 694.0 366.8 L694.0 374.1 Q694.0 376.9 697.0 377.5 L773.0 392.3 Q776.0 392.9 776.0 390.1 L776.0 382.8 Q776.0 379.6 773.0 379.0 Z" fill="url(#sg148)"/>
<rect x="415.0" y="328.7" width="10" height="16.4" fill="url(#kg100)"/>
<rect x="505.0" y="336.5" width="10" height="16.4" fill="url(#kg128)"/>
<rect x="595.0" y="347.5" width="10" height="16.4" fill="url(#kg148)"/>
<rect x="685.0" y="361.8" width="10" height="16.4" fill="url(#kg100)"/>
<path d="M382.0 341.3 Q379.0 341.3 379.0 344.5 L379.0 351.9 Q379.0 354.7 382.0 354.9 L458.0 360.3 Q461.0 360.5 461.0 357.7 L461.0 350.3 Q461.0 347.1 458.0 346.9 Z" fill="url(#sg176)"/>
<path d="M472.0 347.8 Q469.0 347.8 469.0 351.0 L469.0 358.4 Q469.0 361.2 472.0 361.5 L548.0 369.6 Q551.0 369.9 551.0 367.1 L551.0 359.8 Q551.0 356.6 548.0 356.2 Z" fill="url(#sg128)"/>
<path d="M562.0 357.6 Q559.0 357.6 559.0 360.8 L559.0 368.1 Q559.0 370.9 562.0 371.3 L638.0 382.2 Q641.0 382.6 641.0 379.8 L641.0 372.4 Q641.0 369.2 638.0 368.8 Z" fill="url(#sg176)"/>
<path d="M652.0 370.5 Q649.0 370.5 649.0 373.7 L649.0 381.1 Q649.0 383.9 652.0 384.4 L728.0 398.0 Q731.0 398.5 731.0 395.7 L731.0 388.3 Q731.0 385.1 728.0 384.6 Z" fill="url(#sg176)"/>
<path d="M742.0 386.7 Q739.0 386.7 739.0 389.9 L739.0 397.3 Q739.0 400.1 742.0 400.7 L818.0 417.0 Q821.0 417.7 821.0 414.9 L821.0 407.5 Q821.0 404.3 818.0 403.7 Z" fill="url(#sg176)"/>
<rect x="460.0" y="346.4" width="10" height="16.4" fill="url(#kg100)"/>
<rect x="550.0" y="356.0" width="10" height="16.4" fill="url(#kg100)"/>
<rect x="640.0" y="368.8" width="10" height="16.4" fill="url(#kg148)"/>
<rect x="730.0" y="384.8" width="10" height="16.4" fill="url(#kg128)"/>
<path d="M337.0 353.4 Q334.0 353.4 334.0 356.6 L334.0 364.0 Q334.0 366.8 337.0 367.0 L413.0 371.1 Q416.0 371.3 416.0 368.5 L416.0 361.0 Q416.0 357.8 413.0 357.7 Z" fill="url(#sg176)"/>
<path d="M427.0 358.4 Q424.0 358.4 424.0 361.6 L424.0 369.0 Q424.0 371.8 427.0 372.1 L503.0 379.0 Q506.0 379.2 506.0 376.4 L506.0 369.0 Q506.0 365.8 503.0 365.5 Z" fill="url(#sg128)"/>
<path d="M517.0 366.7 Q514.0 366.7 514.0 369.9 L514.0 377.3 Q514.0 380.1 517.0 380.5 L593.0 390.0 Q596.0 390.4 596.0 387.6 L596.0 380.2 Q596.0 377.0 593.0 376.6 Z" fill="url(#sg176)"/>
<path d="M607.0 378.1 Q604.0 378.1 604.0 381.3 L604.0 388.8 Q604.0 391.6 607.0 392.1 L683.0 404.4 Q686.0 404.9 686.0 402.1 L686.0 394.6 Q686.0 391.4 683.0 390.9 Z" fill="url(#sg128)"/>
<path d="M697.0 392.9 Q694.0 392.9 694.0 396.1 L694.0 403.5 Q694.0 406.3 697.0 406.9 L773.0 422.0 Q776.0 422.5 776.0 419.7 L776.0 412.3 Q776.0 409.1 773.0 408.5 Z" fill="url(#sg176)"/>
<rect x="415.0" y="357.0" width="10" height="16.5" fill="url(#kg100)"/>
<rect x="505.0" y="365.1" width="10" height="16.5" fill="url(#kg148)"/>
<rect x="595.0" y="376.5" width="10" height="16.5" fill="url(#kg128)"/>
<rect x="685.0" y="391.0" width="10" height="16.5" fill="url(#kg128)"/>
<path d="M382.0 369.7 Q379.0 369.7 379.0 372.9 L379.0 380.4 Q379.0 383.2 382.0 383.5 L458.0 389.1 Q461.0 389.3 461.0 386.5 L461.0 379.0 Q461.0 375.8 458.0 375.5 Z" fill="url(#sg162)"/>
<path d="M472.0 376.5 Q469.0 376.5 469.0 379.7 L469.0 387.2 Q469.0 390.0 472.0 390.3 L548.0 398.7 Q551.0 399.0 551.0 396.2 L551.0 388.7 Q551.0 385.5 548.0 385.2 Z" fill="url(#sg148)"/>
<path d="M562.0 386.5 Q559.0 386.5 559.0 389.7 L559.0 397.2 Q559.0 400.0 562.0 400.5 L638.0 411.5 Q641.0 412.0 641.0 409.2 L641.0 401.7 Q641.0 398.5 638.0 398.0 Z" fill="url(#sg148)"/>
<path d="M652.0 399.8 Q649.0 399.8 649.0 403.0 L649.0 410.5 Q649.0 413.3 652.0 413.8 L728.0 427.6 Q731.0 428.2 731.0 425.4 L731.0 417.9 Q731.0 414.7 728.0 414.1 Z" fill="url(#sg148)"/>
<path d="M742.0 416.3 Q739.0 416.3 739.0 419.5 L739.0 427.0 Q739.0 429.8 742.0 430.4 L818.0 447.0 Q821.0 447.6 821.0 444.8 L821.0 437.3 Q821.0 434.1 818.0 433.5 Z" fill="url(#sg148)"/>
<rect x="460.0" y="375.0" width="10" height="16.6" fill="url(#kg128)"/>
<rect x="550.0" y="384.9" width="10" height="16.6" fill="url(#kg128)"/>
<rect x="640.0" y="398.0" width="10" height="16.6" fill="url(#kg100)"/>
<rect x="730.0" y="414.4" width="10" height="16.6" fill="url(#kg128)"/>
<path d="M337.0 381.8 Q334.0 381.8 334.0 385.0 L334.0 392.6 Q334.0 395.4 337.0 395.6 L413.0 399.9 Q416.0 400.1 416.0 397.3 L416.0 389.7 Q416.0 386.5 413.0 386.3 Z" fill="url(#sg162)"/>
<path d="M427.0 387.1 Q424.0 387.1 424.0 390.3 L424.0 397.9 Q424.0 400.7 427.0 401.0 L503.0 408.1 Q506.0 408.4 506.0 405.6 L506.0 397.9 Q506.0 394.7 503.0 394.5 Z" fill="url(#sg162)"/>
<path d="M517.0 395.6 Q514.0 395.6 514.0 398.8 L514.0 406.4 Q514.0 409.2 517.0 409.6 L593.0 419.5 Q596.0 419.9 596.0 417.1 L596.0 409.4 Q596.0 406.2 593.0 405.9 Z" fill="url(#sg148)"/>
<path d="M607.0 407.4 Q604.0 407.4 604.0 410.6 L604.0 418.2 Q604.0 421.0 607.0 421.5 L683.0 434.1 Q686.0 434.6 686.0 431.8 L686.0 424.2 Q686.0 421.0 683.0 420.5 Z" fill="url(#sg176)"/>
<path d="M697.0 422.4 Q694.0 422.4 694.0 425.6 L694.0 433.3 Q694.0 436.1 697.0 436.7 L773.0 452.0 Q776.0 452.6 776.0 449.8 L776.0 442.2 Q776.0 439.0 773.0 438.4 Z" fill="url(#sg176)"/>
<rect x="415.0" y="385.7" width="10" height="16.7" fill="url(#kg128)"/>
<rect x="505.0" y="394.1" width="10" height="16.7" fill="url(#kg100)"/>
<rect x="595.0" y="405.7" width="10" height="16.7" fill="url(#kg128)"/>
<rect x="685.0" y="420.6" width="10" height="16.7" fill="url(#kg128)"/>
<path d="M382.0 398.4 Q379.0 398.4 379.0 401.6 L379.0 409.3 Q379.0 412.1 382.0 412.4 L458.0 418.2 Q461.0 418.4 461.0 415.6 L461.0 407.9 Q461.0 404.7 458.0 404.5 Z" fill="url(#sg148)"/>
<path d="M472.0 405.5 Q469.0 405.5 469.0 408.7 L469.0 416.4 Q469.0 419.2 472.0 419.5 L548.0 428.1 Q551.0 428.5 551.0 425.7 L551.0 418.0 Q551.0 414.8 548.0 414.4 Z" fill="url(#sg162)"/>
<path d="M562.0 415.8 Q559.0 415.8 559.0 419.0 L559.0 426.7 Q559.0 429.5 562.0 430.0 L638.0 441.3 Q641.0 441.7 641.0 438.9 L641.0 431.2 Q641.0 428.0 638.0 427.6 Z" fill="url(#sg162)"/>
<path d="M652.0 429.4 Q649.0 429.4 649.0 432.6 L649.0 440.3 Q649.0 443.1 652.0 443.6 L728.0 457.7 Q731.0 458.3 731.0 455.5 L731.0 447.8 Q731.0 444.6 728.0 444.0 Z" fill="url(#sg162)"/>
<path d="M742.0 446.2 Q739.0 446.2 739.0 449.4 L739.0 457.1 Q739.0 459.9 742.0 460.5 L818.0 477.3 Q821.0 478.0 821.0 475.2 L821.0 467.5 Q821.0 464.3 818.0 463.6 Z" fill="url(#sg148)"/>
<rect x="460.0" y="404.0" width="10" height="16.8" fill="url(#kg128)"/>
<rect x="550.0" y="414.2" width="10" height="16.8" fill="url(#kg128)"/>
<rect x="640.0" y="427.6" width="10" height="16.8" fill="url(#kg128)"/>
<rect x="730.0" y="444.3" width="10" height="16.8" fill="url(#kg128)"/>
</g>
<linearGradient id="circsh" gradientUnits="userSpaceOnUse" x1="434" y1="0" x2="700" y2="0"><stop offset="0" stop-color="#000" stop-opacity="0.2"/><stop offset="0.35" stop-color="#000" stop-opacity="0.05"/><stop offset="1" stop-color="#000" stop-opacity="0"/></linearGradient>
<rect x="430" y="140" width="275" height="275" filter="url(#grain)"/>
<rect x="430" y="140" width="275" height="275" fill="url(#circsh)"/>
<linearGradient id="plg" gradientUnits="userSpaceOnUse" x1="560" y1="222" x2="568" y2="340"><stop offset="0" stop-color="#6a6a6a"/><stop offset="0.45" stop-color="#777777"/><stop offset="1" stop-color="#868686"/></linearGradient>
<linearGradient id="recg" gradientUnits="userSpaceOnUse" x1="600" y1="240" x2="600" y2="326"><stop offset="0" stop-color="#141312"/><stop offset="0.55" stop-color="#24211f"/><stop offset="0.8" stop-color="#4a4541"/><stop offset="1" stop-color="#6a6560"/></linearGradient>
<linearGradient id="tabg" gradientUnits="userSpaceOnUse" x1="550" y1="245" x2="585" y2="320"><stop offset="0" stop-color="#9a9a9a"/><stop offset="0.4" stop-color="#858585"/><stop offset="1" stop-color="#787878"/></linearGradient>
<path d="M478 222.5 L646 232.7 L649.5 341.5 L485 328.5 Z" fill="#000" opacity="0.45" transform="translate(1.5 2.5)" filter="url(#soft2)"/>
<path d="M477.5 220 L646 230.4 Q648.2 230.6 648.3 232.8 L651.7 341.5 Q651.7 344.2 649 344 L485.5 330.8 Q483 330.5 482.8 328 L475.6 222 Q475.5 219.9 477.5 220 Z" fill="url(#plg)"/>
<path d="M477.5 220 L646 230.4 Q648.2 230.6 648.3 232.8 L651.7 341.5 Q651.7 344.2 649 344 L485.5 330.8 Q483 330.5 482.8 328 L475.6 222 Q475.5 219.9 477.5 220 Z" fill="none" stroke="#c4c4c4" stroke-width="1.3" opacity="0.75"/>
<path d="M485.5 329.3 L649 342.5 Q650.3 342.5 650.2 341" fill="none" stroke="#dcdcdc" stroke-width="1.6" opacity="0.8"/>
<path d="M496.5 258 L541 260.8 C542 249 548 240 557 238.7 L619 242 C636 245 645.5 263 645.5 285 C645.5 307 636 324.5 619 327.5 L559 323.5 C549 321.5 544 312 542.5 301.5 L497.5 298.8 Z" fill="#9c9c9c"/>
<path d="M498.8 260 L542.8 262.7 C543.5 251 549 242 557.5 241 L618.5 244.2 C634 247 643.2 264 643.2 285 C643.2 306 634 322.5 618.5 325.2 L559.5 321.3 C550.5 319.5 546 311 544.5 299.5 L499.6 296.8 Z" fill="url(#recg)"/>
<path d="M507 263.5 L546 265.5 L546 252 C547 247 550 245 555 245 L592 246.5 C597 247 600 250 601.5 255 L607 275 L603.5 312 C603 316 600 318.5 596 318.5 L556 316.5 C550 316 547 313 546 308 L546 294.5 L507 292.5 Z" fill="url(#tabg)"/>
<path d="M507 263.5 L546 265.5 L546 252 C547 247 550 245 555 245 L592 246.5 C597 247 600 250 601.5 255 L607 275" fill="none" stroke="#e2e2e2" stroke-width="1.2" opacity="0.85"/>
<path d="M507 263.5 L507 292.5 L546 294.5" fill="none" stroke="#dadada" stroke-width="1.4" opacity="0.8"/>
<path d="M549 314 C552 320 556 321.5 562 322 L612 325" fill="none" stroke="#f2f2f2" stroke-width="2" opacity="0.85" stroke-dasharray="14 5 9 4 20 6"/>
<path d="M499.3 261 L500 296 L520 297.5" fill="none" stroke="#f0f0f0" stroke-width="1.6" opacity="0.8"/>
<path d="M543.5 262 C544 252 549 243.5 557 242" fill="none" stroke="#e8e8e8" stroke-width="1.4" opacity="0.7"/>
<path d="M486 318 L650 331 L651 342 L486.5 329.5 Z" fill="#a2a2a2" opacity="0.5" filter="url(#soft2)"/>
<path d="M478 222 L560 227 L520 262 L481 262 Z" fill="#4e4e4e" opacity="0.3" filter="url(#soft3)"/>

</g>
<g fill="none" stroke="#2a2a2a" stroke-width="1.3">
<path d="M460.7 511.5 L460.7 610.7" stroke-dasharray="2.2 1.3"/>
<path d="M460.7 610.7 L625.7 610.7" stroke-dasharray="3 1.9"/>
<path d="M625.7 610.7 L625.7 397" stroke-dasharray="2.2 1.3"/>
</g>
<g>
<circle cx="199.5" cy="266.8" r="14.5" fill="#efefef"/><circle cx="199.5" cy="266.8" r="10.5" fill="#e0e0e0"/><circle cx="199.5" cy="266.8" r="7.2" fill="#a9a9a9"/>
<circle cx="56" cy="374" r="14.5" fill="#efefef"/><circle cx="56" cy="374" r="10.5" fill="#e0e0e0"/><circle cx="56" cy="374" r="7.2" fill="#a9a9a9"/>
</g>
<path d="M24.8 455.7 A240.2 240.2 0 0 1 286.1 260.6" fill="none" stroke="url(#arcg)" stroke-width="1.3"/>
<g font-family="'Liberation Sans', sans-serif" fill="#1c1c1c" font-size="19.5" opacity="0.999">
<text x="171" y="246" letter-spacing="1.1">90°</text>
<text x="22.8" y="344.5" letter-spacing="0.9">130°</text>
</g>
<g font-family="'Liberation Sans', sans-serif" opacity="0.999">
<text id="t1" x="22.9" y="51.7" font-size="30.6" font-weight="700" fill="#3a3846" textLength="535.2" lengthAdjust="spacingAndGlyphs">2 Manual recliner can adjust reclining</text>
<text id="t2" x="22.9" y="81.2" font-size="30.6" font-weight="700" fill="#3a3846" textLength="418.8" lengthAdjust="spacingAndGlyphs">angle to fit your various need</text>
<text id="t3" x="22.2" y="120" font-size="22" fill="#505058" textLength="351.5" lengthAdjust="spacingAndGlyphs">Backrest angles: approx90°-130°</text>
</g>
</svg>
</body></html>
